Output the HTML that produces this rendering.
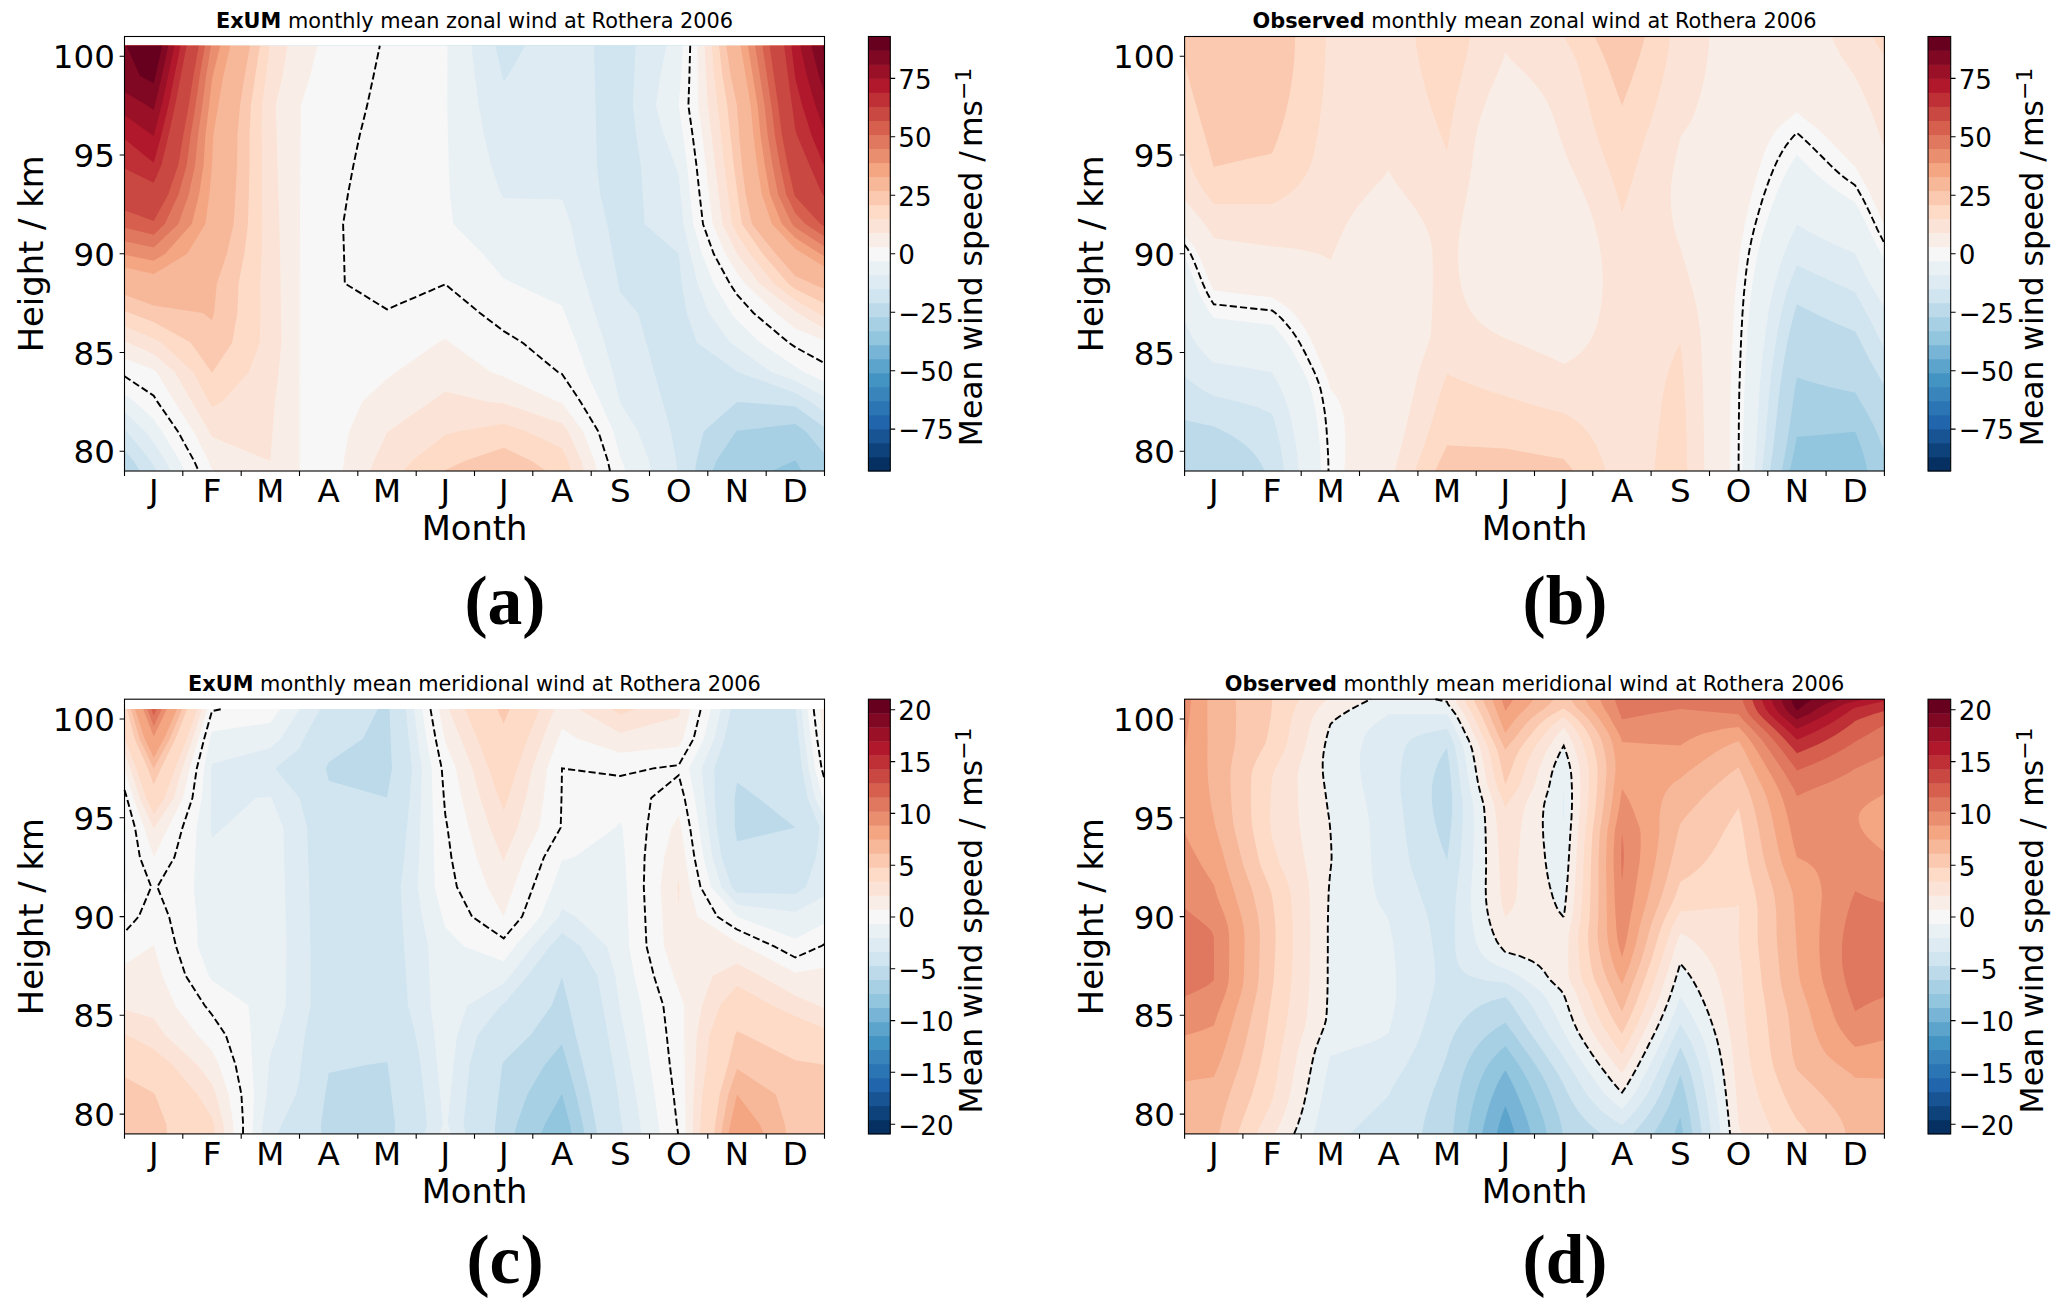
<!DOCTYPE html>
<html lang="en"><head><meta charset="utf-8"><title>Monthly mean winds at Rothera 2006</title>
<style>html,body{margin:0;padding:0;background:#fff}svg{display:block}text{font-family:"DejaVu Sans","Liberation Sans",sans-serif;fill:#000}text.lab{font-family:"Liberation Serif","DejaVu Serif",serif;font-weight:bold}</style></head>
<body><svg width="2067" height="1315" viewBox="0 0 2067 1315">
<rect width="2067" height="1315" fill="#fff"/>
<g id="pa">
<rect x="124.5" y="45.8" width="700" height="425.2" fill="#92c5de"/>
<path d="M124.5,471 153.7,471 212,471 270.3,471 299.5,471 328.7,471 387,471 445.3,471 503.7,471 562,471 620.3,471 678.7,471 737,471 772,471 793.6,461.1 795.3,460.6 795.8,461.1 801.8,471 824.5,471 824.5,461.1 824.5,431.5 824.5,401.9 824.5,372.2 824.5,342.6 824.5,313 824.5,283.4 824.5,253.8 824.5,224.1 824.5,194.5 824.5,164.9 824.5,135.2 824.5,105.6 824.5,76 824.5,45.8 795.3,45.8 737,45.8 678.7,45.8 620.3,45.8 562,45.8 503.7,45.8 445.3,45.8 387,45.8 328.7,45.8 299.5,45.8 270.3,45.8 212,45.8 153.7,45.8 124.5,45.8 124.5,76 124.5,105.6 124.5,135.2 124.5,164.9 124.5,194.5 124.5,224.1 124.5,253.8 124.5,283.4 124.5,313 124.5,342.6 124.5,372.2 124.5,401.9 124.5,431.5 124.5,461.1 124.5,471Z" fill="#a7d0e4"/>
<path d="M124.5,471 153.7,471 212,471 270.3,471 299.5,471 328.7,471 387,471 445.3,471 503.7,471 562,471 620.3,471 678.7,471 712.6,471 716.2,461.1 736.1,431.5 737,430.7 795.3,424.1 805.8,431.5 824.5,453.9 824.5,431.5 824.5,401.9 824.5,372.2 824.5,342.6 824.5,313 824.5,283.4 824.5,253.8 824.5,224.1 824.5,194.5 824.5,164.9 824.5,135.2 824.5,105.6 824.5,76 824.5,45.8 795.3,45.8 737,45.8 678.7,45.8 620.3,45.8 562,45.8 503.7,45.8 445.3,45.8 387,45.8 328.7,45.8 299.5,45.8 270.3,45.8 212,45.8 153.7,45.8 124.5,45.8 124.5,76 124.5,105.6 124.5,135.2 124.5,164.9 124.5,194.5 124.5,224.1 124.5,253.8 124.5,283.4 124.5,313 124.5,342.6 124.5,372.2 124.5,401.9 124.5,431.5 124.5,461.1 124.5,471Z" fill="#bcdaea"/>
<path d="M139.9,471 153.7,471 212,471 270.3,471 299.5,471 328.7,471 387,471 445.3,471 503.7,471 562,471 620.3,471 678.7,471 695.2,471 696.5,461.1 703.6,431.5 737,401.9 795.3,406.4 824.5,427.6 824.5,401.9 824.5,372.2 824.5,342.6 824.5,313 824.5,283.4 824.5,253.8 824.5,224.1 824.5,194.5 824.5,164.9 824.5,135.2 824.5,105.6 824.5,76 824.5,45.8 795.3,45.8 737,45.8 678.7,45.8 620.3,45.8 562,45.8 503.7,45.8 445.3,45.8 387,45.8 328.7,45.8 299.5,45.8 270.3,45.8 212,45.8 153.7,45.8 124.5,45.8 124.5,76 124.5,105.6 124.5,135.2 124.5,164.9 124.5,194.5 124.5,224.1 124.5,253.8 124.5,283.4 124.5,313 124.5,342.6 124.5,372.2 124.5,401.9 124.5,431.5 124.5,450.1 133.6,461.1 139.9,471Z" fill="#d1e5f0"/>
<path d="M150.8,461.1 153.7,465.6 156.5,471 212,471 270.3,471 299.5,471 328.7,471 387,471 445.3,471 503.7,471 562,471 620.3,471 677.4,471 676.1,461.1 671,431.5 662.7,401.9 654.3,372.2 646.3,342.6 637.9,313 620.3,292.1 618.2,283.4 612.7,253.8 607.3,224.1 600.2,194.5 596.9,164.9 596.3,135.2 595.6,105.6 594.8,76 593.8,45.8 562,45.8 525.2,45.8 507.7,76 503.7,81.8 502.3,76 495.3,45.8 445.3,45.8 387,45.8 328.7,45.8 299.5,45.8 270.3,45.8 212,45.8 153.7,45.8 124.5,45.8 124.5,76 124.5,105.6 124.5,135.2 124.5,164.9 124.5,194.5 124.5,224.1 124.5,253.8 124.5,283.4 124.5,313 124.5,342.6 124.5,372.2 124.5,401.9 124.5,429.5 126.6,431.5 150.8,461.1ZM810.8,401.9 824.5,412.1 824.5,401.9 824.5,372.2 824.5,342.6 824.5,313 824.5,283.4 824.5,253.8 824.5,224.1 824.5,194.5 824.5,164.9 824.5,135.2 824.5,105.6 824.5,76 824.5,45.8 795.3,45.8 737,45.8 678.7,45.8 635.7,45.8 634.1,76 632.8,105.6 636.2,135.2 640.8,164.9 642.8,194.5 644.6,224.1 678.7,253.8 681.6,283.4 686.7,313 696.8,342.6 737,371.5 738.1,372.2 795.3,392.9 810.8,401.9Z" fill="#deebf2"/>
<path d="M170.5,471 212,471 270.3,471 299.5,471 328.7,471 387,471 445.3,471 503.7,471 562,471 620.3,471 651.4,471 649.1,461.1 637.9,431.5 620.3,402.7 620,401.9 612.7,372.2 604.4,342.6 594.8,313 585.8,283.4 576.5,253.8 570.9,224.1 562,199.5 503.7,198.1 501.1,194.5 491.1,164.9 484,135.2 478.7,105.6 474.8,76 471.4,45.8 445.3,45.8 387,45.8 328.7,45.8 299.5,45.8 270.3,45.8 212,45.8 153.7,45.8 124.5,45.8 124.5,76 124.5,105.6 124.5,135.2 124.5,164.9 124.5,194.5 124.5,224.1 124.5,253.8 124.5,283.4 124.5,313 124.5,342.6 124.5,372.2 124.5,401.9 124.5,411.8 145.2,431.5 153.7,442 165.6,461.1 170.5,471ZM771.7,372.2 795.3,380.8 824.5,396.8 824.5,372.2 824.5,342.6 824.5,313 824.5,283.4 824.5,253.8 824.5,224.1 824.5,194.5 824.5,164.9 824.5,135.2 824.5,105.6 824.5,76 824.5,45.8 795.3,45.8 737,45.8 678.7,45.8 666.4,45.8 660.3,76 655.8,105.6 664.1,135.2 675.2,164.9 678.7,174.8 680.6,194.5 683.5,224.1 690.3,253.8 697.6,283.4 708.9,313 730.3,342.6 737,347.4 771.7,372.2Z" fill="#eaf1f5"/>
<path d="M184.6,471 212,471 270.3,471 299.5,471 328.7,471 387,471 445.3,471 503.7,471 562,471 620.3,471 625.5,471 622.1,461.1 620.3,457.4 613.3,431.5 600.3,401.9 586.6,372.2 576.4,342.6 564.6,313 562,305.8 514.1,283.4 503.7,278.6 482.8,253.8 453.2,224.1 449.9,194.5 448.7,164.9 447.9,135.2 447.2,105.6 447.4,76 447.5,45.8 445.3,45.8 387,45.8 328.7,45.8 299.5,45.8 270.3,45.8 212,45.8 153.7,45.8 124.5,45.8 124.5,76 124.5,105.6 124.5,135.2 124.5,164.9 124.5,194.5 124.5,224.1 124.5,253.8 124.5,283.4 124.5,313 124.5,342.6 124.5,372.2 124.5,394 135.1,401.9 153.7,419.3 162.2,431.5 179.9,461.1 184.6,471ZM804.5,372.2 824.5,381.8 824.5,372.2 824.5,342.6 824.5,313 824.5,283.4 824.5,253.8 824.5,224.1 824.5,194.5 824.5,164.9 824.5,135.2 824.5,105.6 824.5,76 824.5,45.8 795.3,45.8 737,45.8 683,45.8 681.1,76 678.7,105.6 683.2,135.2 687.1,164.9 690.1,194.5 693.2,224.1 702,253.8 713.7,283.4 731.1,313 737,320.3 760,342.6 795.3,366.5 804.5,372.2Z" fill="#f7f7f7"/>
<path d="M208.5,461.1 212,469.3 214.9,471 270.3,471 299.5,471 299.5,461.1 299.5,431.5 299.5,401.9 299.6,372.2 299.7,342.6 299.8,313 299.8,283.4 299.9,253.8 300,224.1 300.1,194.5 300.3,164.9 300.5,135.2 300.8,105.6 310.2,76 317.4,45.8 299.5,45.8 270.3,45.8 212,45.8 153.7,45.8 124.5,45.8 124.5,76 124.5,105.6 124.5,135.2 124.5,164.9 124.5,194.5 124.5,224.1 124.5,253.8 124.5,283.4 124.5,313 124.5,342.6 124.5,358.6 153.7,369.8 156.5,372.2 174.7,401.9 193.5,431.5 208.5,461.1ZM342.6,471 387,471 445.3,471 503.7,471 562,471 597,471 594.6,461.1 583.2,431.5 562,403 558.6,401.9 503.7,376.8 491.1,372.2 450.1,342.6 445.3,338.9 438.3,342.6 395.8,372.2 387,378.5 362.1,401.9 349.1,431.5 343.8,461.1 342.6,471ZM775.8,313 795.3,328.8 824.5,340.4 824.5,313 824.5,283.4 824.5,253.8 824.5,224.1 824.5,194.5 824.5,164.9 824.5,135.2 824.5,105.6 824.5,76 824.5,45.8 795.3,45.8 737,45.8 697.4,45.8 697.7,76 698.1,105.6 702.1,135.2 705.7,164.9 709.1,194.5 712.7,224.1 725.3,253.8 737,272.9 744.9,283.4 775.8,313Z" fill="#f9eee7"/>
<path d="M370.3,471 387,471 445.3,471 503.7,471 562,471 584,471 581.4,461.1 568.2,431.5 562,423.2 503.7,403.3 489,401.9 445.3,391.6 430.3,401.9 388,431.5 387,432.5 373.7,461.1 370.3,471ZM209.2,431.5 212,437.1 270.3,461.1 272.7,431.5 274.8,401.9 278.7,372.2 281.5,342.6 281.1,313 280.6,283.4 280.1,253.8 279.4,224.1 278.5,194.5 277.6,164.9 276.7,135.2 275.7,105.6 282.5,76 287.6,45.8 270.3,45.8 212,45.8 153.7,45.8 124.5,45.8 124.5,76 124.5,105.6 124.5,135.2 124.5,164.9 124.5,194.5 124.5,224.1 124.5,253.8 124.5,283.4 124.5,313 124.5,341.3 127.6,342.6 153.7,354.2 174.9,372.2 191.9,401.9 209.2,431.5ZM797.9,313 824.5,328.7 824.5,313 824.5,283.4 824.5,253.8 824.5,224.1 824.5,194.5 824.5,164.9 824.5,135.2 824.5,105.6 824.5,76 824.5,45.8 795.3,45.8 737,45.8 704.6,45.8 706,76 707.8,105.6 711.5,135.2 715,164.9 718.6,194.5 722.4,224.1 737,253.8 759.3,283.4 795.3,311.6 797.9,313Z" fill="#fbe4d7"/>
<path d="M403.3,471 445.3,471 503.7,471 562,471 571.1,471 568.1,461.1 562,448.2 526.5,431.5 503.7,423.8 457.3,431.5 445.3,434.9 411.8,461.1 403.3,471ZM209.1,401.9 212,406.9 222,401.9 248.7,372.2 259.8,342.6 260.5,313 260.3,283.4 261.7,253.8 262.3,224.1 262.1,194.5 262,164.9 261.6,135.2 261.8,105.6 265.9,76 269.7,45.8 212,45.8 153.7,45.8 124.5,45.8 124.5,76 124.5,105.6 124.5,135.2 124.5,164.9 124.5,194.5 124.5,224.1 124.5,253.8 124.5,283.4 124.5,313 124.5,326.2 153.7,338.4 161.3,342.6 193.3,372.2 209.1,401.9ZM817.8,313 824.5,316.9 824.5,313 824.5,283.4 824.5,253.8 824.5,224.1 824.5,194.5 824.5,164.9 824.5,135.2 824.5,105.6 824.5,76 824.5,45.8 795.3,45.8 737,45.8 711.8,45.8 714.2,76 717.6,105.6 721,135.2 724.3,164.9 728.2,194.5 732.1,224.1 737,234 749.9,253.8 773.8,283.4 795.3,300.3 817.8,313Z" fill="#fddbc7"/>
<path d="M444.1,471 445.3,471 503.7,471 546.1,471 531.8,461.1 503.7,447.8 464.6,461.1 445.3,469.9 444.1,471ZM211.7,372.2 212,372.8 212.5,372.2 232.2,342.6 237.3,313 238.6,283.4 244.3,253.8 247.9,224.1 248.8,194.5 249.5,164.9 249.5,135.2 250.9,105.6 255.2,76 259.9,45.8 212,45.8 153.7,45.8 124.5,45.8 124.5,76 124.5,105.6 124.5,135.2 124.5,164.9 124.5,194.5 124.5,224.1 124.5,253.8 124.5,283.4 124.5,311 129.9,313 153.7,322 190.6,342.6 211.7,372.2ZM788.2,283.4 795.3,288.9 824.5,303.4 824.5,283.4 824.5,253.8 824.5,224.1 824.5,194.5 824.5,164.9 824.5,135.2 824.5,105.6 824.5,76 824.5,45.8 795.3,45.8 737,45.8 719,45.8 722.5,76 727.3,105.6 730.4,135.2 733.7,164.9 737,189.6 737.6,194.5 742,224.1 762.8,253.8 788.2,283.4Z" fill="#fac9b0"/>
<path d="M202.8,313 212,320 214,313 216.8,283.4 226.9,253.8 233.6,224.1 235.4,194.5 237,164.9 237.4,135.2 240,105.6 244.6,76 250,45.8 212,45.8 153.7,45.8 124.5,45.8 124.5,76 124.5,105.6 124.5,135.2 124.5,164.9 124.5,194.5 124.5,224.1 124.5,253.8 124.5,283.4 124.5,294.7 153.7,305.4 202.8,313ZM811.9,283.4 824.5,288.9 824.5,283.4 824.5,253.8 824.5,224.1 824.5,194.5 824.5,164.9 824.5,135.2 824.5,105.6 824.5,76 824.5,45.8 795.3,45.8 737,45.8 726.2,45.8 730.8,76 737,105.6 739.1,135.2 741.9,164.9 745.7,194.5 752,224.1 775.7,253.8 795.3,276 811.9,283.4Z" fill="#f7b799"/>
<path d="M124.5,253.8 124.5,267.2 153.7,274.1 187.1,253.8 205.3,224.1 209.4,194.5 212,164.9 213.2,135.2 218.2,105.6 223.3,76 230.2,45.8 212,45.8 153.7,45.8 124.5,45.8 124.5,76 124.5,105.6 124.5,135.2 124.5,164.9 124.5,194.5 124.5,224.1 124.5,253.8ZM803.4,253.8 824.5,266.7 824.5,253.8 824.5,224.1 824.5,194.5 824.5,164.9 824.5,135.2 824.5,105.6 824.5,76 824.5,45.8 795.3,45.8 740.6,45.8 745.8,76 750.7,105.6 753.4,135.2 757.1,164.9 761.9,194.5 772,224.1 795.3,248.7 803.4,253.8Z" fill="#f4a582"/>
<path d="M124.5,253.8 124.5,254.7 153.7,260.8 165.2,253.8 191.8,224.1 199.1,194.5 203.6,164.9 205.4,135.2 209.1,105.6 212,79.7 212.7,76 220.3,45.8 212,45.8 153.7,45.8 124.5,45.8 124.5,76 124.5,105.6 124.5,135.2 124.5,164.9 124.5,194.5 124.5,224.1 124.5,253.8ZM820.1,253.8 824.5,256.5 824.5,253.8 824.5,224.1 824.5,194.5 824.5,164.9 824.5,135.2 824.5,105.6 824.5,76 824.5,45.8 795.3,45.8 747.9,45.8 752.8,76 757.6,105.6 760.5,135.2 764.8,164.9 770,194.5 782,224.1 795.3,238.1 820.1,253.8Z" fill="#ea8e70"/>
<path d="M124.5,224.1 124.5,241.3 153.7,247.6 178.3,224.1 188.8,194.5 195.1,164.9 198,135.2 202.3,105.6 206.1,76 211,45.8 153.7,45.8 124.5,45.8 124.5,76 124.5,105.6 124.5,135.2 124.5,164.9 124.5,194.5 124.5,224.1ZM792,224.1 795.3,227.6 824.5,246.5 824.5,224.1 824.5,194.5 824.5,164.9 824.5,135.2 824.5,105.6 824.5,76 824.5,45.8 795.3,45.8 755.1,45.8 759.9,76 764.5,105.6 767.7,135.2 772.4,164.9 778.1,194.5 792,224.1Z" fill="#e0775f"/>
<path d="M124.5,224.1 124.5,227.7 153.7,234.8 164.8,224.1 178.5,194.5 186.7,164.9 190.7,135.2 195.5,105.6 199.7,76 204.9,45.8 153.7,45.8 124.5,45.8 124.5,76 124.5,105.6 124.5,135.2 124.5,164.9 124.5,194.5 124.5,224.1ZM805.4,224.1 824.5,236.6 824.5,224.1 824.5,194.5 824.5,164.9 824.5,135.2 824.5,105.6 824.5,76 824.5,45.8 795.3,45.8 762.4,45.8 766.9,76 771.4,105.6 774.8,135.2 780,164.9 786.2,194.5 795.3,213.2 805.4,224.1Z" fill="#d6604d"/>
<path d="M820.4,224.1 824.5,226.8 824.5,224.1 824.5,194.5 824.5,164.9 824.5,135.2 824.5,105.6 824.5,76 824.5,45.8 795.3,45.8 769.6,45.8 773.9,76 778.2,105.6 781.9,135.2 787.6,164.9 794.2,194.5 795.3,196.7 820.4,224.1ZM124.5,194.5 124.5,210.2 153.7,220.9 168.2,194.5 178.3,164.9 183.3,135.2 188.7,105.6 193.4,76 198.8,45.8 153.7,45.8 124.5,45.8 124.5,76 124.5,105.6 124.5,135.2 124.5,164.9 124.5,194.5Z" fill="#ca4842"/>
<path d="M822.4,194.5 824.5,196.7 824.5,194.5 824.5,164.9 824.5,135.2 824.5,105.6 824.5,76 824.5,45.8 795.3,45.8 784.1,45.8 788,76 792,105.6 795.3,129.5 797,135.2 809.5,164.9 822.4,194.5ZM124.5,164.9 124.5,168.5 153.7,182.8 161.4,164.9 168.6,135.2 175.1,105.6 180.8,76 186.6,45.8 153.7,45.8 124.5,45.8 124.5,76 124.5,105.6 124.5,135.2 124.5,164.9Z" fill="#be3036"/>
<path d="M823.7,164.9 824.5,166.7 824.5,164.9 824.5,135.2 824.5,105.6 824.5,76 824.5,45.8 795.3,45.8 791.3,45.8 795,76 795.3,78.2 802.2,105.6 811.6,135.2 823.7,164.9ZM124.5,135.2 124.5,138.9 153.7,162.7 161.3,135.2 168.4,105.6 174.4,76 180.5,45.8 153.7,45.8 124.5,45.8 124.5,76 124.5,105.6 124.5,135.2Z" fill="#b2182b"/>
<path d="M152.5,135.2 153.7,136.2 153.9,135.2 161.6,105.6 168.1,76 174.4,45.8 153.7,45.8 124.5,45.8 124.5,76 124.5,105.6 124.5,115.3 152.5,135.2ZM815.4,105.6 824.5,131.1 824.5,105.6 824.5,76 824.5,45.8 800.3,45.8 806.9,76 815.4,105.6Z" fill="#991027"/>
<path d="M147.1,105.6 153.7,109.9 154.8,105.6 161.8,76 168.3,45.8 153.7,45.8 124.5,45.8 124.5,76 124.5,92.1 147.1,105.6ZM819,76 824.5,93.5 824.5,76 824.5,45.8 811.3,45.8 819,76Z" fill="#800823"/>
<path d="M140.1,76 153.7,83.5 155.5,76 162.2,45.8 153.7,45.8 126.4,45.8 140.1,76ZM822.3,45.8 824.5,53.9 824.5,45.8 822.3,45.8Z" fill="#67001f"/>
<path d="M610,471 607.9,461.1 598.3,431.5 580.6,401.9 562,373.9 558.2,372.2 522.4,342.6 503.7,331.1 479.9,313 445.3,284.3 387,309.4 344.8,283.4 344,253.8 343.1,224.1 347.9,194.5 353.5,164.9 359.7,135.2 367.1,105.6 373.5,76 379.8,45.8M124.5,376.2 153.7,395.7 157.5,401.9 177.9,431.5 194.2,461.1 198.6,471M690.2,45.8 689.4,76 688.4,105.6 692.6,135.2 696.4,164.9 699.6,194.5 703,224.1 713.7,253.8 729.7,283.4 737,294.6 753.5,313 788.7,342.6 795.3,347.1 824.5,363.2" fill="none" stroke="#000" stroke-width="1.9" stroke-dasharray="7.2 3.1"/>
</g>
<path d="M124.5,471v4.9M182.8,471v4.9M241.2,471v4.9M299.5,471v4.9M357.8,471v4.9M416.2,471v4.9M474.5,471v4.9M532.8,471v4.9M591.2,471v4.9M649.5,471v4.9M707.8,471v4.9M766.2,471v4.9M824.5,471v4.9M124.5,451.2h-4.9M124.5,352.5h-4.9M124.5,253.8h-4.9M124.5,155h-4.9M124.5,56.2h-4.9M890.3,78.4h4.9M890.3,136.8h4.9M890.3,195.3h4.9M890.3,253.8h4.9M890.3,312.2h4.9M890.3,370.7h4.9M890.3,429.1h4.9" stroke="#000" stroke-width="1.1" fill="none"/>
<rect x="124.5" y="36.5" width="700" height="434.5" fill="none" stroke="#000" stroke-width="1.1"/>
<rect x="868.4" y="456.98" width="21.9" height="14.42" fill="#053061"/>
<rect x="868.4" y="442.97" width="21.9" height="14.42" fill="#0e427a"/>
<rect x="868.4" y="428.95" width="21.9" height="14.42" fill="#185493"/>
<rect x="868.4" y="414.94" width="21.9" height="14.42" fill="#2166ac"/>
<rect x="868.4" y="400.92" width="21.9" height="14.42" fill="#2c75b4"/>
<rect x="868.4" y="386.90" width="21.9" height="14.42" fill="#3884bb"/>
<rect x="868.4" y="372.89" width="21.9" height="14.42" fill="#4393c3"/>
<rect x="868.4" y="358.87" width="21.9" height="14.42" fill="#5da4cc"/>
<rect x="868.4" y="344.85" width="21.9" height="14.42" fill="#78b4d5"/>
<rect x="868.4" y="330.84" width="21.9" height="14.42" fill="#92c5de"/>
<rect x="868.4" y="316.82" width="21.9" height="14.42" fill="#a7d0e4"/>
<rect x="868.4" y="302.81" width="21.9" height="14.42" fill="#bcdaea"/>
<rect x="868.4" y="288.79" width="21.9" height="14.42" fill="#d1e5f0"/>
<rect x="868.4" y="274.77" width="21.9" height="14.42" fill="#deebf2"/>
<rect x="868.4" y="260.76" width="21.9" height="14.42" fill="#eaf1f5"/>
<rect x="868.4" y="246.74" width="21.9" height="14.42" fill="#f7f7f7"/>
<rect x="868.4" y="232.73" width="21.9" height="14.42" fill="#f9eee7"/>
<rect x="868.4" y="218.71" width="21.9" height="14.42" fill="#fbe4d7"/>
<rect x="868.4" y="204.69" width="21.9" height="14.42" fill="#fddbc7"/>
<rect x="868.4" y="190.68" width="21.9" height="14.42" fill="#fac9b0"/>
<rect x="868.4" y="176.66" width="21.9" height="14.42" fill="#f7b799"/>
<rect x="868.4" y="162.65" width="21.9" height="14.42" fill="#f4a582"/>
<rect x="868.4" y="148.63" width="21.9" height="14.42" fill="#ea8e70"/>
<rect x="868.4" y="134.61" width="21.9" height="14.42" fill="#e0775f"/>
<rect x="868.4" y="120.60" width="21.9" height="14.42" fill="#d6604d"/>
<rect x="868.4" y="106.58" width="21.9" height="14.42" fill="#ca4842"/>
<rect x="868.4" y="92.56" width="21.9" height="14.42" fill="#be3036"/>
<rect x="868.4" y="78.55" width="21.9" height="14.42" fill="#b2182b"/>
<rect x="868.4" y="64.53" width="21.9" height="14.42" fill="#991027"/>
<rect x="868.4" y="50.52" width="21.9" height="14.42" fill="#800823"/>
<rect x="868.4" y="36.50" width="21.9" height="14.42" fill="#67001f"/>
<rect x="868.4" y="36.5" width="21.9" height="434.5" fill="none" stroke="#000" stroke-width="1.1"/>
<text x="474.5" y="28.4" font-size="20.85" text-anchor="middle"><tspan font-weight="bold">ExUM</tspan> monthly mean zonal wind at Rothera 2006</text>
<text x="114.9" y="463.2" font-size="32.5" text-anchor="end">80</text>
<text x="114.9" y="364.5" font-size="32.5" text-anchor="end">85</text>
<text x="114.9" y="265.8" font-size="32.5" text-anchor="end">90</text>
<text x="114.9" y="167" font-size="32.5" text-anchor="end">95</text>
<text x="114.9" y="68.2" font-size="32.5" text-anchor="end">100</text>
<text x="153.7" y="502.4" font-size="32.5" text-anchor="middle">J</text>
<text x="212" y="502.4" font-size="32.5" text-anchor="middle">F</text>
<text x="270.3" y="502.4" font-size="32.5" text-anchor="middle">M</text>
<text x="328.7" y="502.4" font-size="32.5" text-anchor="middle">A</text>
<text x="387" y="502.4" font-size="32.5" text-anchor="middle">M</text>
<text x="445.3" y="502.4" font-size="32.5" text-anchor="middle">J</text>
<text x="503.7" y="502.4" font-size="32.5" text-anchor="middle">J</text>
<text x="562" y="502.4" font-size="32.5" text-anchor="middle">A</text>
<text x="620.3" y="502.4" font-size="32.5" text-anchor="middle">S</text>
<text x="678.7" y="502.4" font-size="32.5" text-anchor="middle">O</text>
<text x="737" y="502.4" font-size="32.5" text-anchor="middle">N</text>
<text x="795.3" y="502.4" font-size="32.5" text-anchor="middle">D</text>
<text x="474.5" y="540.3" font-size="33.7" text-anchor="middle">Month</text>
<text transform="translate(43,253.8) rotate(-90)" font-size="33.8" text-anchor="middle">Height / km</text>
<text x="898.3" y="88.7" font-size="26.2">75</text>
<text x="898.3" y="147.1" font-size="26.2">50</text>
<text x="898.3" y="205.6" font-size="26.2">25</text>
<text x="898.3" y="264.1" font-size="26.2">0</text>
<text x="898.3" y="322.5" font-size="26.2">−25</text>
<text x="898.3" y="381" font-size="26.2">−50</text>
<text x="898.3" y="439.4" font-size="26.2">−75</text>
<text transform="translate(982.3,256.9) rotate(-90)" font-size="31.4" text-anchor="middle">Mean wind speed /<tspan dx="4">ms</tspan><tspan font-size="22.0" dy="-11.1">−1</tspan></text>
<text x="505" y="624.2" font-size="69.5" class="lab" text-anchor="middle">(a)</text>
<g id="pb">
<rect x="1184.6" y="36.5" width="699.8" height="434.5" fill="#92c5de"/>
<path d="M1184.6,471 1213.8,471 1272.1,471 1330.4,471 1388.7,471 1447,471 1505.3,471 1563.7,471 1622,471 1680.3,471 1738.6,471 1789.8,471 1790.9,466.1 1791.9,461.1 1793,456.2 1794,451.2 1795,446.3 1796,441.4 1796.9,436.8 1801.9,436.4 1855.2,431.7 1857.1,436.4 1859.1,441.4 1860.9,446.3 1862.5,451.2 1864,456.2 1865.3,461.1 1866.4,466.1 1867.3,471 1884.4,471 1884.4,466.1 1884.4,461.1 1884.4,456.2 1884.4,451.2 1884.4,446.3 1884.4,441.4 1884.4,436.4 1884.4,431.5 1884.4,426.6 1884.4,421.6 1884.4,416.7 1884.4,411.8 1884.4,406.8 1884.4,401.9 1884.4,396.9 1884.4,392 1884.4,387.1 1884.4,382.1 1884.4,377.2 1884.4,372.2 1884.4,367.3 1884.4,362.4 1884.4,357.4 1884.4,352.5 1884.4,347.6 1884.4,342.6 1884.4,337.7 1884.4,332.8 1884.4,327.8 1884.4,322.9 1884.4,317.9 1884.4,313 1884.4,308.1 1884.4,303.1 1884.4,298.2 1884.4,293.2 1884.4,288.3 1884.4,283.4 1884.4,278.4 1884.4,273.5 1884.4,268.6 1884.4,263.6 1884.4,258.7 1884.4,253.8 1884.4,248.8 1884.4,243.9 1884.4,238.9 1884.4,234 1884.4,229.1 1884.4,224.1 1884.4,219.2 1884.4,214.2 1884.4,209.3 1884.4,204.4 1884.4,199.4 1884.4,194.5 1884.4,189.6 1884.4,184.6 1884.4,179.7 1884.4,174.8 1884.4,169.8 1884.4,164.9 1884.4,159.9 1884.4,155 1884.4,150.1 1884.4,145.1 1884.4,140.2 1884.4,135.2 1884.4,130.3 1884.4,125.4 1884.4,120.4 1884.4,115.5 1884.4,110.6 1884.4,105.6 1884.4,100.7 1884.4,95.8 1884.4,90.8 1884.4,85.9 1884.4,80.9 1884.4,76 1884.4,71.1 1884.4,66.1 1884.4,61.2 1884.4,56.2 1884.4,51.3 1884.4,46.4 1884.4,41.4 1884.4,36.5 1855.2,36.5 1796.9,36.5 1738.6,36.5 1680.3,36.5 1622,36.5 1563.7,36.5 1505.3,36.5 1447,36.5 1388.7,36.5 1330.4,36.5 1272.1,36.5 1213.8,36.5 1184.6,36.5 1184.6,41.4 1184.6,46.4 1184.6,51.3 1184.6,56.2 1184.6,61.2 1184.6,66.1 1184.6,71.1 1184.6,76 1184.6,80.9 1184.6,85.9 1184.6,90.8 1184.6,95.8 1184.6,100.7 1184.6,105.6 1184.6,110.6 1184.6,115.5 1184.6,120.4 1184.6,125.4 1184.6,130.3 1184.6,135.2 1184.6,140.2 1184.6,145.1 1184.6,150.1 1184.6,155 1184.6,159.9 1184.6,164.9 1184.6,169.8 1184.6,174.8 1184.6,179.7 1184.6,184.6 1184.6,189.6 1184.6,194.5 1184.6,199.4 1184.6,204.4 1184.6,209.3 1184.6,214.2 1184.6,219.2 1184.6,224.1 1184.6,229.1 1184.6,234 1184.6,238.9 1184.6,243.9 1184.6,248.8 1184.6,253.8 1184.6,258.7 1184.6,263.6 1184.6,268.6 1184.6,273.5 1184.6,278.4 1184.6,283.4 1184.6,288.3 1184.6,293.2 1184.6,298.2 1184.6,303.1 1184.6,308.1 1184.6,313 1184.6,317.9 1184.6,322.9 1184.6,327.8 1184.6,332.8 1184.6,337.7 1184.6,342.6 1184.6,347.6 1184.6,352.5 1184.6,357.4 1184.6,362.4 1184.6,367.3 1184.6,372.2 1184.6,377.2 1184.6,382.1 1184.6,387.1 1184.6,392 1184.6,396.9 1184.6,401.9 1184.6,406.8 1184.6,411.8 1184.6,416.7 1184.6,421.6 1184.6,426.6 1184.6,431.5 1184.6,436.4 1184.6,441.4 1184.6,446.3 1184.6,451.2 1184.6,456.2 1184.6,461.1 1184.6,466.1 1184.6,471Z" fill="#a7d0e4"/>
<path d="M1184.6,471 1213.8,471 1272.1,471 1330.4,471 1388.7,471 1447,471 1505.3,471 1563.7,471 1622,471 1680.3,471 1738.6,471 1782,471 1782.8,466.1 1783.7,461.1 1784.6,456.2 1785.5,451.2 1786.4,446.3 1787.2,441.4 1788,436.4 1788.8,431.5 1789.5,426.6 1790.3,421.6 1790.9,416.7 1791.6,411.8 1792.3,406.8 1793,401.9 1793.7,396.9 1794.4,392 1795.2,387.1 1796.1,382.1 1796.9,377.4 1811.2,382.1 1829,387.1 1851.9,392 1855.2,392.6 1857.7,396.9 1860.6,401.9 1863.5,406.8 1866.4,411.8 1869.1,416.7 1871.7,421.6 1874.2,426.6 1876.4,431.5 1878.5,436.4 1880.5,441.4 1882.2,446.3 1883.7,451.2 1884.4,453.9 1884.4,451.2 1884.4,446.3 1884.4,441.4 1884.4,436.4 1884.4,431.5 1884.4,426.6 1884.4,421.6 1884.4,416.7 1884.4,411.8 1884.4,406.8 1884.4,401.9 1884.4,396.9 1884.4,392 1884.4,387.1 1884.4,382.1 1884.4,377.2 1884.4,372.2 1884.4,367.3 1884.4,362.4 1884.4,357.4 1884.4,352.5 1884.4,347.6 1884.4,342.6 1884.4,337.7 1884.4,332.8 1884.4,327.8 1884.4,322.9 1884.4,317.9 1884.4,313 1884.4,308.1 1884.4,303.1 1884.4,298.2 1884.4,293.2 1884.4,288.3 1884.4,283.4 1884.4,278.4 1884.4,273.5 1884.4,268.6 1884.4,263.6 1884.4,258.7 1884.4,253.8 1884.4,248.8 1884.4,243.9 1884.4,238.9 1884.4,234 1884.4,229.1 1884.4,224.1 1884.4,219.2 1884.4,214.2 1884.4,209.3 1884.4,204.4 1884.4,199.4 1884.4,194.5 1884.4,189.6 1884.4,184.6 1884.4,179.7 1884.4,174.8 1884.4,169.8 1884.4,164.9 1884.4,159.9 1884.4,155 1884.4,150.1 1884.4,145.1 1884.4,140.2 1884.4,135.2 1884.4,130.3 1884.4,125.4 1884.4,120.4 1884.4,115.5 1884.4,110.6 1884.4,105.6 1884.4,100.7 1884.4,95.8 1884.4,90.8 1884.4,85.9 1884.4,80.9 1884.4,76 1884.4,71.1 1884.4,66.1 1884.4,61.2 1884.4,56.2 1884.4,51.3 1884.4,46.4 1884.4,41.4 1884.4,36.5 1855.2,36.5 1796.9,36.5 1738.6,36.5 1680.3,36.5 1622,36.5 1563.7,36.5 1505.3,36.5 1447,36.5 1388.7,36.5 1330.4,36.5 1272.1,36.5 1213.8,36.5 1184.6,36.5 1184.6,41.4 1184.6,46.4 1184.6,51.3 1184.6,56.2 1184.6,61.2 1184.6,66.1 1184.6,71.1 1184.6,76 1184.6,80.9 1184.6,85.9 1184.6,90.8 1184.6,95.8 1184.6,100.7 1184.6,105.6 1184.6,110.6 1184.6,115.5 1184.6,120.4 1184.6,125.4 1184.6,130.3 1184.6,135.2 1184.6,140.2 1184.6,145.1 1184.6,150.1 1184.6,155 1184.6,159.9 1184.6,164.9 1184.6,169.8 1184.6,174.8 1184.6,179.7 1184.6,184.6 1184.6,189.6 1184.6,194.5 1184.6,199.4 1184.6,204.4 1184.6,209.3 1184.6,214.2 1184.6,219.2 1184.6,224.1 1184.6,229.1 1184.6,234 1184.6,238.9 1184.6,243.9 1184.6,248.8 1184.6,253.8 1184.6,258.7 1184.6,263.6 1184.6,268.6 1184.6,273.5 1184.6,278.4 1184.6,283.4 1184.6,288.3 1184.6,293.2 1184.6,298.2 1184.6,303.1 1184.6,308.1 1184.6,313 1184.6,317.9 1184.6,322.9 1184.6,327.8 1184.6,332.8 1184.6,337.7 1184.6,342.6 1184.6,347.6 1184.6,352.5 1184.6,357.4 1184.6,362.4 1184.6,367.3 1184.6,372.2 1184.6,377.2 1184.6,382.1 1184.6,387.1 1184.6,392 1184.6,396.9 1184.6,401.9 1184.6,406.8 1184.6,411.8 1184.6,416.7 1184.6,421.6 1184.6,426.6 1184.6,431.5 1184.6,436.4 1184.6,441.4 1184.6,446.3 1184.6,451.2 1184.6,456.2 1184.6,461.1 1184.6,466.1 1184.6,471Z" fill="#bcdaea"/>
<path d="M1264.6,471 1272.1,471 1330.4,471 1388.7,471 1447,471 1505.3,471 1563.7,471 1622,471 1680.3,471 1738.6,471 1770.1,471 1770.8,466.1 1771.4,461.1 1772.1,456.2 1772.7,451.2 1773.4,446.3 1774,441.4 1774.6,436.4 1775.2,431.5 1775.7,426.6 1776.2,421.6 1776.8,416.7 1777.3,411.8 1777.8,406.8 1778.3,401.9 1778.8,396.9 1779.4,392 1780,387.1 1780.7,382.1 1781.4,377.2 1782.1,372.2 1782.9,367.3 1783.7,362.4 1784.5,357.4 1785.4,352.5 1786.4,347.6 1787.3,342.6 1788.4,337.7 1789.4,332.8 1790.6,327.8 1791.8,322.9 1793,317.9 1794.4,313 1795.8,308.1 1796.9,304.3 1804.2,308.1 1814.1,313 1824.4,317.9 1835,322.9 1846.3,327.8 1855.2,331.6 1855.9,332.8 1858.4,337.7 1860.9,342.6 1863.4,347.6 1865.9,352.5 1868.5,357.4 1871.2,362.4 1873.9,367.3 1876.7,372.2 1879.6,377.2 1882.3,382.1 1884.4,385.9 1884.4,382.1 1884.4,377.2 1884.4,372.2 1884.4,367.3 1884.4,362.4 1884.4,357.4 1884.4,352.5 1884.4,347.6 1884.4,342.6 1884.4,337.7 1884.4,332.8 1884.4,327.8 1884.4,322.9 1884.4,317.9 1884.4,313 1884.4,308.1 1884.4,303.1 1884.4,298.2 1884.4,293.2 1884.4,288.3 1884.4,283.4 1884.4,278.4 1884.4,273.5 1884.4,268.6 1884.4,263.6 1884.4,258.7 1884.4,253.8 1884.4,248.8 1884.4,243.9 1884.4,238.9 1884.4,234 1884.4,229.1 1884.4,224.1 1884.4,219.2 1884.4,214.2 1884.4,209.3 1884.4,204.4 1884.4,199.4 1884.4,194.5 1884.4,189.6 1884.4,184.6 1884.4,179.7 1884.4,174.8 1884.4,169.8 1884.4,164.9 1884.4,159.9 1884.4,155 1884.4,150.1 1884.4,145.1 1884.4,140.2 1884.4,135.2 1884.4,130.3 1884.4,125.4 1884.4,120.4 1884.4,115.5 1884.4,110.6 1884.4,105.6 1884.4,100.7 1884.4,95.8 1884.4,90.8 1884.4,85.9 1884.4,80.9 1884.4,76 1884.4,71.1 1884.4,66.1 1884.4,61.2 1884.4,56.2 1884.4,51.3 1884.4,46.4 1884.4,41.4 1884.4,36.5 1855.2,36.5 1796.9,36.5 1738.6,36.5 1680.3,36.5 1622,36.5 1563.7,36.5 1505.3,36.5 1447,36.5 1388.7,36.5 1330.4,36.5 1272.1,36.5 1213.8,36.5 1184.6,36.5 1184.6,41.4 1184.6,46.4 1184.6,51.3 1184.6,56.2 1184.6,61.2 1184.6,66.1 1184.6,71.1 1184.6,76 1184.6,80.9 1184.6,85.9 1184.6,90.8 1184.6,95.8 1184.6,100.7 1184.6,105.6 1184.6,110.6 1184.6,115.5 1184.6,120.4 1184.6,125.4 1184.6,130.3 1184.6,135.2 1184.6,140.2 1184.6,145.1 1184.6,150.1 1184.6,155 1184.6,159.9 1184.6,164.9 1184.6,169.8 1184.6,174.8 1184.6,179.7 1184.6,184.6 1184.6,189.6 1184.6,194.5 1184.6,199.4 1184.6,204.4 1184.6,209.3 1184.6,214.2 1184.6,219.2 1184.6,224.1 1184.6,229.1 1184.6,234 1184.6,238.9 1184.6,243.9 1184.6,248.8 1184.6,253.8 1184.6,258.7 1184.6,263.6 1184.6,268.6 1184.6,273.5 1184.6,278.4 1184.6,283.4 1184.6,288.3 1184.6,293.2 1184.6,298.2 1184.6,303.1 1184.6,308.1 1184.6,313 1184.6,317.9 1184.6,322.9 1184.6,327.8 1184.6,332.8 1184.6,337.7 1184.6,342.6 1184.6,347.6 1184.6,352.5 1184.6,357.4 1184.6,362.4 1184.6,367.3 1184.6,372.2 1184.6,377.2 1184.6,382.1 1184.6,387.1 1184.6,392 1184.6,396.9 1184.6,401.9 1184.6,406.8 1184.6,411.8 1184.6,416.7 1184.6,419.7 1191.1,421.6 1213.8,426.6 1224.4,431.5 1233.2,436.4 1240.6,441.4 1246.7,446.3 1251.8,451.2 1256,456.2 1259.5,461.1 1262.3,466.1 1264.6,471Z" fill="#d1e5f0"/>
<path d="M1284,471 1330.4,471 1388.7,471 1447,471 1505.3,471 1563.7,471 1622,471 1680.3,471 1738.6,471 1762.3,471 1762.7,466.1 1763.2,461.1 1763.7,456.2 1764.2,451.2 1764.7,446.3 1765.2,441.4 1765.6,436.4 1766.1,431.5 1766.5,426.6 1766.9,421.6 1767.3,416.7 1767.7,411.8 1768.1,406.8 1768.5,401.9 1768.9,396.9 1769.4,392 1769.9,387.1 1770.4,382.1 1770.9,377.2 1771.5,372.2 1772.2,367.3 1772.8,362.4 1773.5,357.4 1774.2,352.5 1775,347.6 1775.7,342.6 1776.6,337.7 1777.4,332.8 1778.3,327.8 1779.3,322.9 1780.3,317.9 1781.4,313 1782.6,308.1 1783.8,303.1 1785.1,298.2 1786.6,293.2 1788.1,288.3 1789.8,283.4 1791.6,278.4 1793.6,273.5 1795.5,268.6 1796.9,265.2 1804.1,268.6 1814.8,273.5 1825.5,278.4 1836.1,283.4 1846.5,288.3 1855.2,292.5 1855.6,293.2 1858.3,298.2 1860.9,303.1 1863.7,308.1 1866.4,313 1869,317.9 1871.6,322.9 1874.1,327.8 1876.5,332.8 1878.9,337.7 1881.4,342.6 1883.9,347.6 1884.4,348.5 1884.4,347.6 1884.4,342.6 1884.4,337.7 1884.4,332.8 1884.4,327.8 1884.4,322.9 1884.4,317.9 1884.4,313 1884.4,308.1 1884.4,303.1 1884.4,298.2 1884.4,293.2 1884.4,288.3 1884.4,283.4 1884.4,278.4 1884.4,273.5 1884.4,268.6 1884.4,263.6 1884.4,258.7 1884.4,253.8 1884.4,248.8 1884.4,243.9 1884.4,238.9 1884.4,234 1884.4,229.1 1884.4,224.1 1884.4,219.2 1884.4,214.2 1884.4,209.3 1884.4,204.4 1884.4,199.4 1884.4,194.5 1884.4,189.6 1884.4,184.6 1884.4,179.7 1884.4,174.8 1884.4,169.8 1884.4,164.9 1884.4,159.9 1884.4,155 1884.4,150.1 1884.4,145.1 1884.4,140.2 1884.4,135.2 1884.4,130.3 1884.4,125.4 1884.4,120.4 1884.4,115.5 1884.4,110.6 1884.4,105.6 1884.4,100.7 1884.4,95.8 1884.4,90.8 1884.4,85.9 1884.4,80.9 1884.4,76 1884.4,71.1 1884.4,66.1 1884.4,61.2 1884.4,56.2 1884.4,51.3 1884.4,46.4 1884.4,41.4 1884.4,36.5 1855.2,36.5 1796.9,36.5 1738.6,36.5 1680.3,36.5 1622,36.5 1563.7,36.5 1505.3,36.5 1447,36.5 1388.7,36.5 1330.4,36.5 1272.1,36.5 1213.8,36.5 1184.6,36.5 1184.6,41.4 1184.6,46.4 1184.6,51.3 1184.6,56.2 1184.6,61.2 1184.6,66.1 1184.6,71.1 1184.6,76 1184.6,80.9 1184.6,85.9 1184.6,90.8 1184.6,95.8 1184.6,100.7 1184.6,105.6 1184.6,110.6 1184.6,115.5 1184.6,120.4 1184.6,125.4 1184.6,130.3 1184.6,135.2 1184.6,140.2 1184.6,145.1 1184.6,150.1 1184.6,155 1184.6,159.9 1184.6,164.9 1184.6,169.8 1184.6,174.8 1184.6,179.7 1184.6,184.6 1184.6,189.6 1184.6,194.5 1184.6,199.4 1184.6,204.4 1184.6,209.3 1184.6,214.2 1184.6,219.2 1184.6,224.1 1184.6,229.1 1184.6,234 1184.6,238.9 1184.6,243.9 1184.6,248.8 1184.6,253.8 1184.6,258.7 1184.6,263.6 1184.6,268.6 1184.6,273.5 1184.6,278.4 1184.6,283.4 1184.6,288.3 1184.6,293.2 1184.6,298.2 1184.6,303.1 1184.6,308.1 1184.6,313 1184.6,317.9 1184.6,322.9 1184.6,327.8 1184.6,332.8 1184.6,337.7 1184.6,342.6 1184.6,347.6 1184.6,352.5 1184.6,357.4 1184.6,362.4 1184.6,367.3 1184.6,372.2 1184.6,376.2 1185.6,377.2 1191.4,382.1 1198.2,387.1 1206.2,392 1213.8,395.9 1218.4,396.9 1239.4,401.9 1256,406.8 1268.2,411.8 1272.1,413.8 1273,416.7 1274.5,421.6 1275.8,426.6 1277.1,431.5 1278.3,436.4 1279.4,441.4 1280.4,446.3 1281.3,451.2 1282.1,456.2 1282.8,461.1 1283.4,466.1 1284,471Z" fill="#deebf2"/>
<path d="M1298.8,471 1330.4,471 1388.7,471 1447,471 1505.3,471 1563.7,471 1622,471 1680.3,471 1738.6,471 1754.4,471 1754.7,466.1 1755,461.1 1755.4,456.2 1755.7,451.2 1756,446.3 1756.4,441.4 1756.7,436.4 1757,431.5 1757.3,426.6 1757.6,421.6 1757.9,416.7 1758.1,411.8 1758.4,406.8 1758.7,401.9 1759,396.9 1759.4,392 1759.7,387.1 1760.1,382.1 1760.5,377.2 1761,372.2 1761.5,367.3 1761.9,362.4 1762.5,357.4 1763,352.5 1763.6,347.6 1764.1,342.6 1764.8,337.7 1765.4,332.8 1766.1,327.8 1766.9,322.9 1767.6,317.9 1768.5,313 1769.3,308.1 1770.3,303.1 1771.3,298.2 1772.4,293.2 1773.6,288.3 1774.9,283.4 1776.3,278.4 1777.7,273.5 1779.2,268.6 1780.8,263.6 1782.5,258.7 1784.3,253.8 1786.2,248.8 1788.2,243.9 1790.3,238.9 1792.5,234 1794.8,229.1 1796.9,224.5 1804.5,229.1 1813.5,234 1823.2,238.9 1833.5,243.9 1844.3,248.8 1855.2,253.8 1857.6,258.7 1859.9,263.6 1862.2,268.6 1864.7,273.5 1867.3,278.4 1870,283.4 1872.8,288.3 1875.7,293.2 1878.7,298.2 1881.7,303.1 1884.4,307.7 1884.4,303.1 1884.4,298.2 1884.4,293.2 1884.4,288.3 1884.4,283.4 1884.4,278.4 1884.4,273.5 1884.4,268.6 1884.4,263.6 1884.4,258.7 1884.4,253.8 1884.4,248.8 1884.4,243.9 1884.4,238.9 1884.4,234 1884.4,229.1 1884.4,224.1 1884.4,219.2 1884.4,214.2 1884.4,209.3 1884.4,204.4 1884.4,199.4 1884.4,194.5 1884.4,189.6 1884.4,184.6 1884.4,179.7 1884.4,174.8 1884.4,169.8 1884.4,164.9 1884.4,159.9 1884.4,155 1884.4,150.1 1884.4,145.1 1884.4,140.2 1884.4,135.2 1884.4,130.3 1884.4,125.4 1884.4,120.4 1884.4,115.5 1884.4,110.6 1884.4,105.6 1884.4,100.7 1884.4,95.8 1884.4,90.8 1884.4,85.9 1884.4,80.9 1884.4,76 1884.4,71.1 1884.4,66.1 1884.4,61.2 1884.4,56.2 1884.4,51.3 1884.4,46.4 1884.4,41.4 1884.4,36.5 1855.2,36.5 1796.9,36.5 1738.6,36.5 1680.3,36.5 1622,36.5 1563.7,36.5 1505.3,36.5 1447,36.5 1388.7,36.5 1330.4,36.5 1272.1,36.5 1213.8,36.5 1184.6,36.5 1184.6,41.4 1184.6,46.4 1184.6,51.3 1184.6,56.2 1184.6,61.2 1184.6,66.1 1184.6,71.1 1184.6,76 1184.6,80.9 1184.6,85.9 1184.6,90.8 1184.6,95.8 1184.6,100.7 1184.6,105.6 1184.6,110.6 1184.6,115.5 1184.6,120.4 1184.6,125.4 1184.6,130.3 1184.6,135.2 1184.6,140.2 1184.6,145.1 1184.6,150.1 1184.6,155 1184.6,159.9 1184.6,164.9 1184.6,169.8 1184.6,174.8 1184.6,179.7 1184.6,184.6 1184.6,189.6 1184.6,194.5 1184.6,199.4 1184.6,204.4 1184.6,209.3 1184.6,214.2 1184.6,219.2 1184.6,224.1 1184.6,229.1 1184.6,234 1184.6,238.9 1184.6,243.9 1184.6,248.8 1184.6,253.8 1184.6,258.7 1184.6,263.6 1184.6,268.6 1184.6,273.5 1184.6,278.4 1184.6,283.4 1184.6,288.3 1184.6,293.2 1184.6,298.2 1184.6,303.1 1184.6,308.1 1184.6,313 1184.6,317.9 1184.6,320.9 1185.4,322.9 1187.7,327.8 1190.1,332.8 1192.7,337.7 1195.7,342.6 1199.2,347.6 1203.3,352.5 1208.1,357.4 1213.8,362.4 1244.4,367.3 1272.1,372.2 1274.9,377.2 1277.5,382.1 1280,387.1 1282.3,392 1284.3,396.9 1286.1,401.9 1287.7,406.8 1289.2,411.8 1290.4,416.7 1291.6,421.6 1292.6,426.6 1293.6,431.5 1294.5,436.4 1295.4,441.4 1296.1,446.3 1296.8,451.2 1297.4,456.2 1298,461.1 1298.4,466.1 1298.8,471Z" fill="#eaf1f5"/>
<path d="M1321.1,471 1330.4,471 1388.7,471 1447,471 1505.3,471 1563.7,471 1622,471 1680.3,471 1738.6,471 1742.5,471 1742.6,466.1 1742.7,461.1 1742.8,456.2 1742.9,451.2 1743,446.3 1743.1,441.4 1743.2,436.4 1743.3,431.5 1743.4,426.6 1743.6,421.6 1743.7,416.7 1743.8,411.8 1743.9,406.8 1744,401.9 1744.2,396.9 1744.3,392 1744.5,387.1 1744.7,382.1 1744.9,377.2 1745.2,372.2 1745.4,367.3 1745.6,362.4 1745.9,357.4 1746.2,352.5 1746.5,347.6 1746.8,342.6 1747.1,337.7 1747.4,332.8 1747.8,327.8 1748.2,322.9 1748.6,317.9 1749,313 1749.5,308.1 1750,303.1 1750.5,298.2 1751.1,293.2 1751.8,288.3 1752.4,283.4 1753.2,278.4 1754,273.5 1754.8,268.6 1755.7,263.6 1756.6,258.7 1757.7,253.8 1758.8,248.8 1760.1,243.9 1761.4,238.9 1762.8,234 1764.3,229.1 1765.8,224.1 1767.4,219.2 1769.1,214.2 1770.8,209.3 1772.6,204.4 1774.4,199.4 1776.3,194.5 1778.4,189.6 1780.5,184.6 1782.7,179.7 1785.1,174.7 1787.6,169.8 1790.4,164.9 1793.5,159.9 1796.9,155 1802,159.9 1806.9,164.9 1811.9,169.8 1817.1,174.8 1822.8,179.7 1828.9,184.6 1835.4,189.6 1842.5,194.5 1850.3,199.4 1855.2,202.4 1856.3,204.4 1859,209.3 1861.5,214.2 1864,219.2 1866.4,224.1 1868.7,229.1 1871.1,234 1873.7,238.9 1876.2,243.9 1878.6,248.8 1881.1,253.8 1883.6,258.7 1884.4,260.2 1884.4,258.7 1884.4,253.8 1884.4,248.8 1884.4,243.9 1884.4,238.9 1884.4,234 1884.4,229.1 1884.4,224.1 1884.4,219.2 1884.4,214.2 1884.4,209.3 1884.4,204.4 1884.4,199.4 1884.4,194.5 1884.4,189.6 1884.4,184.6 1884.4,179.7 1884.4,174.8 1884.4,169.8 1884.4,164.9 1884.4,159.9 1884.4,155 1884.4,150.1 1884.4,145.1 1884.4,140.2 1884.4,135.2 1884.4,130.3 1884.4,125.4 1884.4,120.4 1884.4,115.5 1884.4,110.6 1884.4,105.6 1884.4,100.7 1884.4,95.8 1884.4,90.8 1884.4,85.9 1884.4,80.9 1884.4,76 1884.4,71.1 1884.4,66.1 1884.4,61.2 1884.4,56.2 1884.4,51.3 1884.4,46.4 1884.4,41.4 1884.4,36.5 1855.2,36.5 1796.9,36.5 1738.6,36.5 1680.3,36.5 1622,36.5 1563.7,36.5 1505.3,36.5 1447,36.5 1388.7,36.5 1330.4,36.5 1272.1,36.5 1213.8,36.5 1184.6,36.5 1184.6,41.4 1184.6,46.4 1184.6,51.3 1184.6,56.2 1184.6,61.2 1184.6,66.1 1184.6,71.1 1184.6,76 1184.6,80.9 1184.6,85.9 1184.6,90.8 1184.6,95.8 1184.6,100.7 1184.6,105.6 1184.6,110.6 1184.6,115.5 1184.6,120.4 1184.6,125.4 1184.6,130.3 1184.6,135.2 1184.6,140.2 1184.6,145.1 1184.6,150.1 1184.6,155 1184.6,159.9 1184.6,164.9 1184.6,169.8 1184.6,174.8 1184.6,179.7 1184.6,184.6 1184.6,189.6 1184.6,194.5 1184.6,199.4 1184.6,204.4 1184.6,209.3 1184.6,214.2 1184.6,219.2 1184.6,224.1 1184.6,229.1 1184.6,234 1184.6,238.9 1184.6,243.9 1184.6,248.8 1184.6,253.8 1184.6,256.8 1185.5,258.7 1187.7,263.6 1189.7,268.6 1191.6,273.5 1193.5,278.4 1195.4,283.4 1197.3,288.3 1199.4,293.2 1201.8,298.2 1204.4,303.1 1207.2,308.1 1210.3,313 1213.8,317.9 1256,322.9 1272.1,324.9 1275,327.8 1279.4,332.8 1283.4,337.7 1287,342.6 1290.3,347.6 1293.3,352.5 1296,357.4 1298.7,362.4 1301.3,367.3 1303.8,372.2 1306.1,377.2 1308.2,382.1 1310,387.1 1311.4,392 1312.7,396.9 1313.9,401.9 1314.9,406.8 1315.8,411.8 1316.6,416.7 1317.3,421.6 1317.9,426.6 1318.4,431.5 1318.9,436.4 1319.4,441.4 1319.8,446.3 1320.1,451.2 1320.5,456.2 1320.7,461.1 1320.9,466.1 1321.1,471Z" fill="#f7f7f7"/>
<path d="M1344.3,471 1388.7,471 1447,471 1505.3,471 1563.7,471 1622,471 1680.3,471 1730,471 1730,466.1 1730,461.1 1730,456.2 1730.1,451.2 1730.1,446.3 1730.1,441.4 1730.2,436.4 1730.2,431.5 1730.2,426.6 1730.3,421.6 1730.3,416.7 1730.4,411.7 1730.4,406.8 1730.5,401.9 1730.6,396.9 1730.7,392 1730.9,387.1 1731,382.1 1731.1,377.2 1731.3,372.2 1731.5,367.3 1731.7,362.4 1731.8,357.4 1732,352.5 1732.2,347.6 1732.4,342.6 1732.6,337.7 1732.9,332.8 1733.1,327.8 1733.3,322.9 1733.6,317.9 1733.9,313 1734.2,308.1 1734.5,303.1 1734.9,298.2 1735.3,293.2 1735.8,288.3 1736.3,283.4 1736.9,278.4 1737.6,273.5 1738.3,268.6 1738.6,267 1738.9,263.6 1739.4,258.7 1739.9,253.8 1740.6,248.8 1741.3,243.9 1742.1,238.9 1743,234 1743.9,229.1 1744.9,224.1 1746,219.2 1747.1,214.2 1748.2,209.3 1749.4,204.4 1750.6,199.4 1751.9,194.5 1753.2,189.6 1754.5,184.6 1755.9,179.7 1757.3,174.8 1758.8,169.8 1760.3,164.9 1761.9,159.9 1763.6,155 1765.5,150.1 1767.6,145.1 1770,140.2 1772.9,135.2 1776.3,130.3 1780.9,125.4 1786.5,120.4 1792.9,115.5 1796.9,112.2 1800.4,115.5 1806.7,120.4 1813.1,125.4 1819.1,130.3 1824.3,135.2 1829.3,140.2 1834.1,145.1 1838.9,150.1 1843.6,155 1848.4,159.9 1853.3,164.9 1855.2,166.8 1856.9,169.8 1859.7,174.8 1862.6,179.7 1865.4,184.6 1867.9,189.6 1870.4,194.5 1872.8,199.4 1875.1,204.4 1877.3,209.3 1879.4,214.2 1881.5,219.2 1883.6,224.1 1884.4,226 1884.4,224.1 1884.4,219.2 1884.4,214.2 1884.4,209.3 1884.4,204.4 1884.4,199.4 1884.4,194.5 1884.4,189.6 1884.4,184.6 1884.4,179.7 1884.4,174.8 1884.4,169.8 1884.4,164.9 1884.4,159.9 1884.4,155 1884.4,150.1 1884.4,145.1 1884.4,140.2 1884.4,135.2 1884.4,130.3 1884.4,125.4 1884.4,120.4 1884.4,115.5 1884.4,110.6 1884.4,105.6 1884.4,100.7 1884.4,95.8 1884.4,90.8 1884.4,85.9 1884.4,80.9 1884.4,76 1884.4,71.1 1884.4,66.1 1884.4,61.2 1884.4,56.2 1884.4,51.3 1884.4,46.4 1884.4,41.4 1884.4,36.5 1855.2,36.5 1796.9,36.5 1738.6,36.5 1680.3,36.5 1622,36.5 1563.7,36.5 1505.3,36.5 1447,36.5 1388.7,36.5 1330.4,36.5 1272.1,36.5 1213.8,36.5 1184.6,36.5 1184.6,41.4 1184.6,46.4 1184.6,51.3 1184.6,56.2 1184.6,61.2 1184.6,66.1 1184.6,71.1 1184.6,76 1184.6,80.9 1184.6,85.9 1184.6,90.8 1184.6,95.8 1184.6,100.7 1184.6,105.6 1184.6,110.6 1184.6,115.5 1184.6,120.4 1184.6,125.4 1184.6,130.3 1184.6,135.2 1184.6,140.2 1184.6,145.1 1184.6,150.1 1184.6,155 1184.6,159.9 1184.6,164.9 1184.6,169.8 1184.6,174.8 1184.6,179.7 1184.6,184.6 1184.6,189.6 1184.6,194.5 1184.6,199.4 1184.6,204.4 1184.6,209.3 1184.6,214.2 1184.6,219.2 1184.6,224.1 1184.6,229.1 1184.6,234 1184.6,236.2 1187.2,238.9 1191.9,243.9 1195.2,248.8 1197.9,253.8 1200.1,258.7 1202.2,263.6 1204.2,268.6 1206.2,273.5 1208.2,278.4 1210.3,283.4 1212.6,288.3 1213.8,290.6 1235.5,293.2 1272.1,297.6 1273.1,298.2 1281.1,303.1 1287.9,308.1 1293.2,313 1297.4,317.9 1301.1,322.9 1304.3,327.8 1307.2,332.8 1309.8,337.7 1312.2,342.6 1314.4,347.6 1316.5,352.5 1318.5,357.4 1320.7,362.4 1322.8,367.3 1324.9,372.2 1326.9,377.2 1328.6,382.1 1329.9,387.1 1330.4,389.4 1333,392 1336.6,396.9 1339.2,401.9 1341.2,406.8 1342.6,411.8 1343.6,416.7 1344.3,421.6 1344.8,426.6 1345,431.5 1345.2,436.4 1345.2,441.4 1345.3,446.3 1345.2,451.2 1345.1,456.2 1344.9,461.1 1344.6,466.1 1344.3,471Z" fill="#f9eee7"/>
<path d="M1394.7,471 1447,471 1505.3,471 1563.7,471 1622,471 1680.3,471 1704.3,471 1704.3,466.1 1704.2,461.1 1704.2,456.2 1704.2,451.2 1704.1,446.3 1704,441.4 1704,436.4 1703.9,431.5 1703.8,426.6 1703.7,421.6 1703.6,416.7 1703.5,411.8 1703.5,406.8 1703.3,401.9 1703.2,396.9 1703.1,392 1703,387.1 1702.8,382.1 1702.7,377.2 1702.5,372.2 1702.3,367.3 1702.1,362.4 1701.9,357.4 1701.6,352.5 1701.4,347.6 1701.1,342.6 1700.7,337.7 1700.3,332.8 1699.8,327.8 1699.1,322.9 1698.4,317.9 1697.6,313 1696.7,308.1 1695.7,303.1 1694.6,298.2 1693.4,293.2 1692.2,288.3 1690.8,283.4 1689.4,278.4 1688,273.5 1686.5,268.6 1685,263.6 1683.5,258.7 1682.1,253.8 1680.8,248.8 1680.3,246.6 1679.2,243.9 1677.4,238.9 1675.8,234 1674.5,229.1 1673.5,224.1 1672.6,219.2 1671.9,214.2 1671.4,209.3 1671,204.4 1670.8,199.4 1670.8,194.5 1671,189.6 1671.3,184.6 1671.8,179.7 1672.5,174.8 1673.4,169.8 1674.3,164.9 1675.3,159.9 1676.4,155 1677.5,150.1 1678.7,145.1 1679.8,140.2 1680.3,138 1681.7,135.2 1685,130.3 1688.4,125.4 1691.4,120.4 1693.6,115.5 1695.4,110.6 1697.1,105.6 1698.7,100.7 1700.1,95.8 1701.4,90.8 1702.6,85.9 1703.7,80.9 1704.7,76 1705.6,71.1 1706.4,66.1 1707.2,61.2 1707.8,56.2 1708.3,51.3 1708.8,46.4 1709.2,41.4 1709.5,36.5 1680.3,36.5 1622,36.5 1563.7,36.5 1505.3,36.5 1447,36.5 1388.7,36.5 1330.4,36.5 1272.1,36.5 1213.8,36.5 1184.6,36.5 1184.6,41.4 1184.6,46.4 1184.6,51.3 1184.6,56.2 1184.6,61.2 1184.6,66.1 1184.6,71.1 1184.6,76 1184.6,80.9 1184.6,85.9 1184.6,90.8 1184.6,95.8 1184.6,100.7 1184.6,105.6 1184.6,110.6 1184.6,115.5 1184.6,120.4 1184.6,125.4 1184.6,130.3 1184.6,135.2 1184.6,140.2 1184.6,145.1 1184.6,150.1 1184.6,155 1184.6,159.9 1184.6,164.9 1184.6,169.8 1184.6,174.8 1184.6,179.7 1184.6,184.6 1184.6,189.6 1184.6,194.5 1184.6,199 1184.9,199.4 1188.5,204.4 1192.6,209.3 1196.7,214.2 1200.8,219.2 1204.7,224.1 1208.2,229.1 1211.4,234 1213.8,238.2 1219.8,238.9 1254.3,243.9 1272.1,246.6 1295.9,248.8 1318.7,253.8 1328.4,258.7 1330.4,260.3 1331.1,258.7 1333.3,253.8 1335.4,248.8 1337.4,243.9 1339.6,238.9 1341.8,234 1344.2,229.1 1346.7,224.1 1349.5,219.2 1352.5,214.2 1355.9,209.3 1359.5,204.4 1363.5,199.4 1367.7,194.5 1372.2,189.6 1376.9,184.6 1381.4,179.7 1385.5,174.7 1388.7,170.2 1390.8,174.8 1393.7,179.7 1397,184.6 1400.7,189.6 1404.5,194.5 1408.4,199.4 1412.1,204.4 1415.7,209.3 1418.9,214.2 1421.9,219.2 1424.5,224.1 1426.8,229.1 1428.7,234 1430.2,238.9 1431.3,243.9 1432.1,248.8 1432.4,253.8 1432.6,258.7 1432.7,263.6 1432.8,268.6 1432.8,273.5 1432.8,278.4 1432.8,283.4 1432.7,288.3 1432.6,293.2 1432.5,298.2 1432.4,303.1 1432.2,308.1 1432,313 1431.7,317.9 1431.5,322.9 1431.2,327.8 1430.9,332.8 1430.1,337.7 1428.8,342.6 1427.1,347.6 1425.3,352.5 1423.4,357.4 1421.6,362.4 1420,367.3 1418.6,372.2 1417.4,377.2 1416.2,382.1 1415.1,387.1 1414,392 1412.9,396.9 1411.8,401.9 1410.7,406.8 1409.6,411.8 1408.5,416.7 1407.3,421.6 1406.1,426.6 1404.9,431.5 1403.7,436.4 1402.4,441.4 1401.2,446.3 1399.9,451.2 1398.6,456.2 1397.2,461.1 1396,466.1 1394.7,471ZM1563.7,363.7 1560.9,362.4 1550.4,357.4 1539.3,352.5 1527.8,347.6 1515.9,342.6 1505.3,338.3 1504,337.7 1494.3,332.8 1486.6,327.8 1480.5,322.9 1475.8,317.9 1472,313 1469,308.1 1466.6,303.1 1464.6,298.2 1463,293.2 1461.7,288.3 1460.7,283.4 1459.9,278.4 1459.2,273.5 1458.7,268.6 1458.4,263.6 1458.2,258.7 1458.1,253.8 1458.2,248.8 1458.5,243.9 1459,238.9 1459.6,234 1460.3,229.1 1461.2,224.1 1462.1,219.2 1463,214.2 1464,209.3 1465,204.4 1466,199.4 1466.9,194.5 1467.9,189.6 1468.8,184.6 1469.7,179.7 1470.5,174.8 1471.3,169.8 1472,164.9 1472.6,159.9 1473.2,155 1473.8,150.1 1474.5,145.1 1475.3,140.2 1476.3,135.2 1477.3,130.3 1478.5,125.4 1479.8,120.4 1481.3,115.5 1482.8,110.6 1484.5,105.6 1486.2,100.7 1488.1,95.8 1490.1,90.8 1492.2,85.9 1494.3,80.9 1496.5,76 1498.6,71.1 1500.7,66.1 1502.6,61.2 1504.3,56.2 1505.3,52.8 1507.8,56.2 1512.2,61.2 1517.2,66.1 1522.4,71.1 1527.5,76 1532.3,80.9 1536.5,85.9 1540.3,90.8 1543.6,95.8 1546.4,100.7 1548.9,105.6 1551,110.6 1552.9,115.5 1554.6,120.4 1556.2,125.4 1557.8,130.3 1559.3,135.2 1560.9,140.2 1562.6,145.1 1563.7,148 1564.3,150.1 1566,155 1568,159.9 1570.1,164.9 1572.4,169.8 1574.8,174.8 1577.1,179.7 1579.4,184.6 1581.7,189.6 1583.9,194.5 1585.9,199.4 1587.9,204.4 1589.7,209.3 1591.4,214.2 1592.9,219.2 1594.4,224.1 1595.7,229.1 1596.9,234 1598.1,238.9 1599.1,243.9 1599.9,248.8 1600.7,253.8 1601.3,258.7 1601.8,263.6 1602.2,268.6 1602.5,273.5 1602.7,278.4 1602.7,283.4 1602.6,288.3 1602.3,293.2 1601.8,298.2 1601.3,303.1 1600.6,308.1 1599.7,313 1598.7,317.9 1597.5,322.9 1595.9,327.8 1594.1,332.8 1591.8,337.7 1588.9,342.6 1585.3,347.6 1580.7,352.5 1574.7,357.4 1566.5,362.4 1563.7,363.7ZM1883.3,145.1 1884.4,148 1884.4,145.1 1884.4,140.2 1884.4,135.2 1884.4,130.3 1884.4,125.4 1884.4,120.4 1884.4,115.5 1884.4,110.6 1884.4,105.6 1884.4,100.7 1884.4,95.8 1884.4,90.8 1884.4,85.9 1884.4,80.9 1884.4,76 1884.4,71.1 1884.4,66.1 1884.4,61.2 1884.4,56.2 1884.4,51.3 1884.4,46.4 1884.4,41.4 1884.4,36.5 1855.2,36.5 1831.9,36.5 1833.7,41.4 1835.9,46.4 1838.4,51.3 1841.2,56.2 1844.3,61.2 1847.6,66.1 1851,71.1 1854.7,76 1855.2,76.8 1857.2,80.9 1859.6,85.9 1862,90.8 1864.3,95.8 1866.5,100.7 1868.6,105.6 1870.7,110.6 1872.6,115.5 1874.5,120.4 1876.3,125.4 1878.1,130.3 1879.8,135.2 1881.6,140.2 1883.3,145.1Z" fill="#fbe4d7"/>
<path d="M1414.9,471 1447,471 1505.3,471 1563.7,471 1605.8,471 1604.3,466.1 1602.6,461.1 1600.8,456.2 1598.8,451.2 1596.5,446.3 1593.9,441.4 1590.8,436.4 1587.2,431.5 1582.9,426.6 1577.4,421.6 1570.3,416.7 1563.7,413.1 1558.2,411.8 1539.7,406.8 1523,401.9 1508.2,396.9 1505.3,396 1492,392 1477.6,387.1 1465.1,382.1 1453.8,377.2 1447,374.1 1445.8,377.2 1443.9,382.1 1442.2,387.1 1440.6,392 1439.1,396.9 1437.6,401.9 1436.1,406.8 1434.7,411.8 1433.2,416.7 1431.8,421.6 1430.3,426.6 1428.7,431.5 1427.2,436.4 1425.5,441.4 1423.9,446.3 1422.1,451.2 1420.3,456.2 1418.4,461.1 1416.6,466.1 1414.9,471ZM1654.4,471 1680.3,471 1687.2,471 1687.1,466.1 1687,461.1 1687,456.2 1686.9,451.2 1686.8,446.3 1686.6,441.4 1686.5,436.4 1686.3,431.5 1686.2,426.6 1686,421.6 1685.8,416.7 1685.7,411.8 1685.5,406.8 1685.2,401.9 1685,396.9 1684.7,392 1684.4,387.1 1684.1,382.1 1683.7,377.2 1683.3,372.2 1682.9,367.3 1682.4,362.4 1681.9,357.4 1681.4,352.5 1680.8,347.6 1680.3,343.4 1677.9,347.6 1675.5,352.5 1673.3,357.4 1671.4,362.4 1669.8,367.3 1668.2,372.2 1666.9,377.2 1665.7,382.1 1664.6,387.1 1663.6,392 1662.7,396.9 1661.9,401.9 1661.2,406.8 1660.6,411.8 1660,416.7 1659.4,421.6 1658.8,426.6 1658.2,431.5 1657.7,436.4 1657.2,441.4 1656.6,446.3 1656.2,451.2 1655.7,456.2 1655.2,461.1 1654.8,466.1 1654.4,471ZM1621.2,209.3 1622,212.7 1623.2,209.3 1624.9,204.4 1626.5,199.4 1628,194.5 1629.5,189.6 1631,184.6 1632.4,179.7 1633.9,174.8 1635.4,169.8 1636.9,164.9 1638.4,159.9 1639.9,155 1641.4,150.1 1642.9,145.1 1644.4,140.2 1646,135.2 1647.6,130.3 1649.4,125.4 1651.1,120.4 1652.7,115.5 1654.2,110.6 1655.6,105.6 1657,100.7 1658.4,95.8 1659.7,90.8 1661,85.9 1662.2,80.9 1663.4,76 1664.5,71.1 1665.6,66.1 1666.5,61.2 1667.4,56.2 1668.2,51.3 1668.9,46.4 1669.6,41.4 1670.1,36.5 1622,36.5 1563.7,36.5 1566.6,41.4 1569.5,46.4 1572.1,51.3 1574.5,56.3 1576.6,61.2 1578.3,66.1 1579.8,71.1 1581.3,76 1582.6,80.9 1583.9,85.9 1585.2,90.8 1586.4,95.8 1587.6,100.7 1588.9,105.6 1590.1,110.6 1591.4,115.5 1592.7,120.4 1594,125.4 1595.5,130.3 1596.9,135.2 1598.5,140.2 1600.1,145.1 1601.8,150.1 1603.5,155 1605.4,159.9 1607.2,164.9 1609,169.8 1610.8,174.8 1612.6,179.7 1614.2,184.6 1615.8,189.6 1617.3,194.5 1618.7,199.4 1620,204.4 1621.2,209.3ZM1210.2,199.4 1213.8,204.2 1272.1,204.2 1280.7,199.4 1288.1,194.5 1294,189.6 1298.8,184.6 1302.7,179.7 1305.9,174.8 1308.4,169.8 1310.5,164.9 1312.2,159.9 1313.5,155 1314.6,150.1 1315.6,145.1 1316.5,140.2 1317.4,135.2 1318.2,130.3 1319,125.4 1319.7,120.4 1320.4,115.5 1321,110.6 1321.6,105.6 1322.2,100.7 1322.7,95.8 1323.1,90.8 1323.6,85.9 1324,80.9 1324.3,76 1324.6,71.1 1324.9,66.1 1325.1,61.2 1325.4,56.2 1325.5,51.3 1325.6,46.4 1325.7,41.4 1325.8,36.5 1272.1,36.5 1213.8,36.5 1184.6,36.5 1184.6,41.4 1184.6,46.4 1184.6,51.3 1184.6,56.2 1184.6,61.2 1184.6,66.1 1184.6,71.1 1184.6,76 1184.6,80.9 1184.6,85.9 1184.6,90.8 1184.6,95.8 1184.6,100.7 1184.6,105.6 1184.6,110.6 1184.6,115.5 1184.6,120.4 1184.6,125.4 1184.6,130.3 1184.6,135.2 1184.6,140.2 1184.6,145.1 1184.6,148.1 1185.3,150.1 1187.1,155 1188.9,159.9 1190.6,164.9 1192.5,169.8 1194.6,174.8 1197,179.7 1199.8,184.6 1202.9,189.6 1206.5,194.5 1210.2,199.4ZM1446.5,150.1 1447,151.4 1447.2,150.1 1448,145.1 1448.8,140.2 1449.6,135.2 1450.3,130.3 1451.2,125.4 1452,120.4 1452.9,115.5 1453.8,110.6 1454.8,105.6 1455.8,100.7 1456.8,95.8 1457.9,90.8 1459.1,85.9 1460.3,80.9 1461.5,76 1462.8,71.1 1464,66.1 1465.2,61.2 1466.4,56.2 1467.5,51.3 1468.5,46.4 1469.4,41.4 1470.4,36.5 1447,36.5 1415.2,36.5 1415.8,41.4 1416.4,46.4 1417.2,51.3 1418,56.2 1418.9,61.2 1419.9,66.1 1421,71.1 1422.2,76 1423.4,80.9 1424.7,85.9 1426.1,90.8 1427.5,95.8 1429,100.7 1430.6,105.6 1432.2,110.6 1433.8,115.5 1435.6,120.4 1437.3,125.4 1439.1,130.3 1440.9,135.2 1442.7,140.2 1444.6,145.1 1446.5,150.1ZM1881.4,51.3 1884.4,56.2 1884.4,51.3 1884.4,46.4 1884.4,41.4 1884.4,36.5 1872.7,36.5 1875.3,41.4 1878.2,46.4 1881.4,51.3Z" fill="#fddbc7"/>
<path d="M1435,471 1447,471 1505.3,471 1563.7,471 1573.4,471 1569.6,466.1 1565.4,461.1 1563.7,459.1 1547.6,456.2 1519.7,451.2 1505.3,448.6 1461.9,446.3 1447,445.3 1446.6,446.3 1444.4,451.2 1442,456.2 1439.6,461.1 1437.3,466.1 1435,471ZM1213.2,164.9 1213.8,166.7 1221.4,164.9 1243,159.9 1265,155 1272.1,153.2 1273.4,150.1 1275.4,145.1 1277.3,140.2 1279,135.2 1280.7,130.3 1282.2,125.4 1283.6,120.4 1285,115.5 1286.2,110.6 1287.3,105.6 1288.4,100.7 1289.4,95.8 1290.3,90.8 1291.1,85.9 1291.8,80.9 1292.5,76 1293.1,71.1 1293.6,66.1 1294,61.2 1294.4,56.2 1294.7,51.3 1294.9,46.4 1295,41.4 1295.1,36.5 1272.1,36.5 1213.8,36.5 1184.6,36.5 1184.6,41.4 1184.6,46.4 1184.6,51.3 1184.6,56.2 1184.6,61.2 1184.6,63.1 1185.3,66.1 1186.6,71.1 1187.9,76 1189.3,80.9 1190.6,85.9 1192,90.8 1193.4,95.7 1194.9,100.7 1196.3,105.6 1197.7,110.6 1199.2,115.5 1200.6,120.4 1202,125.4 1203.4,130.3 1204.9,135.2 1206.3,140.2 1207.7,145.1 1209.1,150.1 1210.4,155 1211.8,159.9 1213.2,164.9ZM1620.2,100.7 1622,105.6 1623.8,100.7 1625.6,95.8 1627.5,90.8 1629.3,85.9 1631.1,80.9 1632.8,76 1634.6,71.1 1636.2,66.1 1637.8,61.2 1639.4,56.2 1640.8,51.3 1642.2,46.4 1643.6,41.4 1644.8,36.5 1622,36.5 1594.4,36.5 1596.9,41.4 1599.3,46.4 1601.6,51.3 1603.8,56.2 1605.8,61.2 1607.7,66.1 1609.5,71.1 1611.3,76 1613.1,80.9 1614.8,85.9 1616.6,90.8 1618.4,95.8 1620.2,100.7Z" fill="#fac9b0"/>
<path d="M1738.6,471 1738.6,466.1 1738.6,461.1 1738.6,456.2 1738.7,451.2 1738.7,446.3 1738.7,441.4 1738.8,436.4 1738.8,431.5 1738.8,426.6 1738.9,421.6 1738.9,416.7 1739,411.8 1739.1,406.8 1739.1,401.9 1739.2,396.9 1739.3,392 1739.4,387.1 1739.6,382.1 1739.7,377.2 1739.9,372.2 1740,367.3 1740.2,362.4 1740.4,357.4 1740.6,352.5 1740.8,347.6 1741,342.6 1741.2,337.7 1741.4,332.8 1741.7,327.8 1742,322.9 1742.2,317.9 1742.5,313 1742.9,308.1 1743.2,303.1 1743.6,298.2 1744,293.2 1744.5,288.3 1745,283.4 1745.5,278.4 1746,273.5 1746.6,268.6 1747.3,263.6 1748,258.7 1748.8,253.8 1749.7,248.8 1750.7,243.9 1751.7,238.9 1752.9,234 1754.1,229.1 1755.4,224.1 1756.7,219.2 1758.1,214.2 1759.5,209.3 1761,204.4 1762.5,199.4 1764.1,194.5 1765.8,189.6 1767.5,184.6 1769.3,179.7 1771.2,174.8 1773.2,169.8 1775.4,164.9 1777.7,159.9 1780.3,155 1783.1,150.1 1786.4,145.1 1790.1,140.2 1794.5,135.2 1796.9,132.9 1799.7,135.2 1805.1,140.2 1810.3,145.1 1815.3,150.1 1820.3,155 1825.2,159.9 1830.1,164.9 1835.2,169.8 1840.9,174.8 1847.2,179.7 1854.1,184.6 1855.2,185.4 1857.7,189.6 1860.5,194.5 1863.2,199.4 1865.7,204.4 1868.1,209.3 1870.5,214.2 1872.7,219.2 1875,224.1 1877.2,229.1 1879.6,234 1882.2,238.9 1884.4,243.3M1184.6,244.9 1187.5,248.8 1190.5,253.8 1192.8,258.7 1194.9,263.6 1196.9,268.6 1198.9,273.5 1200.8,278.4 1202.8,283.4 1205,288.3 1207.3,293.2 1210,298.2 1213,303.1 1213.8,304.3 1249.1,308.1 1272.1,310.5 1275.4,313 1280.9,317.9 1285.5,322.9 1289.6,327.8 1293.3,332.8 1296.6,337.7 1299.6,342.6 1302.3,347.6 1304.9,352.5 1307.3,357.4 1309.7,362.4 1312.1,367.3 1314.4,372.2 1316.5,377.2 1318.4,382.1 1320,387.1 1321.2,392 1322.2,396.9 1323.1,401.9 1323.9,406.8 1324.7,411.8 1325.3,416.7 1325.8,421.6 1326.3,426.6 1326.7,431.5 1327,436.4 1327.3,441.4 1327.6,446.3 1327.9,451.2 1328.1,456.2 1328.3,461.1 1328.4,466.1 1328.5,471" fill="none" stroke="#000" stroke-width="1.9" stroke-dasharray="7.2 3.1"/>
</g>
<path d="M1184.6,471v4.9M1242.9,471v4.9M1301.2,471v4.9M1359.5,471v4.9M1417.9,471v4.9M1476.2,471v4.9M1534.5,471v4.9M1592.8,471v4.9M1651.1,471v4.9M1709.5,471v4.9M1767.8,471v4.9M1826.1,471v4.9M1884.4,471v4.9M1184.6,451.2h-4.9M1184.6,352.5h-4.9M1184.6,253.8h-4.9M1184.6,155h-4.9M1184.6,56.2h-4.9M1950.7,78.4h4.9M1950.7,136.8h4.9M1950.7,195.3h4.9M1950.7,253.8h4.9M1950.7,312.2h4.9M1950.7,370.7h4.9M1950.7,429.1h4.9" stroke="#000" stroke-width="1.1" fill="none"/>
<rect x="1184.6" y="36.5" width="699.8" height="434.5" fill="none" stroke="#000" stroke-width="1.1"/>
<rect x="1928" y="456.98" width="22.7" height="14.42" fill="#053061"/>
<rect x="1928" y="442.97" width="22.7" height="14.42" fill="#0e427a"/>
<rect x="1928" y="428.95" width="22.7" height="14.42" fill="#185493"/>
<rect x="1928" y="414.94" width="22.7" height="14.42" fill="#2166ac"/>
<rect x="1928" y="400.92" width="22.7" height="14.42" fill="#2c75b4"/>
<rect x="1928" y="386.90" width="22.7" height="14.42" fill="#3884bb"/>
<rect x="1928" y="372.89" width="22.7" height="14.42" fill="#4393c3"/>
<rect x="1928" y="358.87" width="22.7" height="14.42" fill="#5da4cc"/>
<rect x="1928" y="344.85" width="22.7" height="14.42" fill="#78b4d5"/>
<rect x="1928" y="330.84" width="22.7" height="14.42" fill="#92c5de"/>
<rect x="1928" y="316.82" width="22.7" height="14.42" fill="#a7d0e4"/>
<rect x="1928" y="302.81" width="22.7" height="14.42" fill="#bcdaea"/>
<rect x="1928" y="288.79" width="22.7" height="14.42" fill="#d1e5f0"/>
<rect x="1928" y="274.77" width="22.7" height="14.42" fill="#deebf2"/>
<rect x="1928" y="260.76" width="22.7" height="14.42" fill="#eaf1f5"/>
<rect x="1928" y="246.74" width="22.7" height="14.42" fill="#f7f7f7"/>
<rect x="1928" y="232.73" width="22.7" height="14.42" fill="#f9eee7"/>
<rect x="1928" y="218.71" width="22.7" height="14.42" fill="#fbe4d7"/>
<rect x="1928" y="204.69" width="22.7" height="14.42" fill="#fddbc7"/>
<rect x="1928" y="190.68" width="22.7" height="14.42" fill="#fac9b0"/>
<rect x="1928" y="176.66" width="22.7" height="14.42" fill="#f7b799"/>
<rect x="1928" y="162.65" width="22.7" height="14.42" fill="#f4a582"/>
<rect x="1928" y="148.63" width="22.7" height="14.42" fill="#ea8e70"/>
<rect x="1928" y="134.61" width="22.7" height="14.42" fill="#e0775f"/>
<rect x="1928" y="120.60" width="22.7" height="14.42" fill="#d6604d"/>
<rect x="1928" y="106.58" width="22.7" height="14.42" fill="#ca4842"/>
<rect x="1928" y="92.56" width="22.7" height="14.42" fill="#be3036"/>
<rect x="1928" y="78.55" width="22.7" height="14.42" fill="#b2182b"/>
<rect x="1928" y="64.53" width="22.7" height="14.42" fill="#991027"/>
<rect x="1928" y="50.52" width="22.7" height="14.42" fill="#800823"/>
<rect x="1928" y="36.50" width="22.7" height="14.42" fill="#67001f"/>
<rect x="1928" y="36.5" width="22.7" height="434.5" fill="none" stroke="#000" stroke-width="1.1"/>
<text x="1534.5" y="28.4" font-size="20.85" text-anchor="middle"><tspan font-weight="bold">Observed</tspan> monthly mean zonal wind at Rothera 2006</text>
<text x="1175" y="463.2" font-size="32.5" text-anchor="end">80</text>
<text x="1175" y="364.5" font-size="32.5" text-anchor="end">85</text>
<text x="1175" y="265.8" font-size="32.5" text-anchor="end">90</text>
<text x="1175" y="167" font-size="32.5" text-anchor="end">95</text>
<text x="1175" y="68.2" font-size="32.5" text-anchor="end">100</text>
<text x="1213.8" y="502.4" font-size="32.5" text-anchor="middle">J</text>
<text x="1272.1" y="502.4" font-size="32.5" text-anchor="middle">F</text>
<text x="1330.4" y="502.4" font-size="32.5" text-anchor="middle">M</text>
<text x="1388.7" y="502.4" font-size="32.5" text-anchor="middle">A</text>
<text x="1447" y="502.4" font-size="32.5" text-anchor="middle">M</text>
<text x="1505.3" y="502.4" font-size="32.5" text-anchor="middle">J</text>
<text x="1563.7" y="502.4" font-size="32.5" text-anchor="middle">J</text>
<text x="1622" y="502.4" font-size="32.5" text-anchor="middle">A</text>
<text x="1680.3" y="502.4" font-size="32.5" text-anchor="middle">S</text>
<text x="1738.6" y="502.4" font-size="32.5" text-anchor="middle">O</text>
<text x="1796.9" y="502.4" font-size="32.5" text-anchor="middle">N</text>
<text x="1855.2" y="502.4" font-size="32.5" text-anchor="middle">D</text>
<text x="1534.5" y="540.3" font-size="33.7" text-anchor="middle">Month</text>
<text transform="translate(1103.1,253.8) rotate(-90)" font-size="33.8" text-anchor="middle">Height / km</text>
<text x="1958.7" y="88.7" font-size="26.2">75</text>
<text x="1958.7" y="147.1" font-size="26.2">50</text>
<text x="1958.7" y="205.6" font-size="26.2">25</text>
<text x="1958.7" y="264.1" font-size="26.2">0</text>
<text x="1958.7" y="322.5" font-size="26.2">−25</text>
<text x="1958.7" y="381" font-size="26.2">−50</text>
<text x="1958.7" y="439.4" font-size="26.2">−75</text>
<text transform="translate(2042.7,256.9) rotate(-90)" font-size="31.4" text-anchor="middle">Mean wind speed /<tspan dx="4">ms</tspan><tspan font-size="22.0" dy="-11.1">−1</tspan></text>
<text x="1565" y="624.2" font-size="69.5" class="lab" text-anchor="middle">(b)</text>
<g id="pc">
<rect x="124.5" y="709.1" width="700" height="424.8" fill="#92c5de"/>
<path d="M124.5,1133.9 153.7,1133.9 212,1133.9 270.3,1133.9 299.5,1133.9 328.7,1133.9 387,1133.9 445.3,1133.9 503.7,1133.9 540.8,1133.9 545,1124 561.5,1094.4 562,1093.6 562.2,1094.4 569.8,1124 572,1133.9 620.3,1133.9 678.7,1133.9 737,1133.9 795.3,1133.9 824.5,1133.9 824.5,1124 824.5,1094.4 824.5,1064.7 824.5,1035.1 824.5,1005.5 824.5,975.8 824.5,946.2 824.5,916.6 824.5,886.9 824.5,857.3 824.5,827.6 824.5,798 824.5,768.4 824.5,738.7 824.5,709.1 795.3,709.1 737,709.1 678.7,709.1 620.3,709.1 562,709.1 503.7,709.1 445.3,709.1 387,709.1 328.7,709.1 299.5,709.1 270.3,709.1 212,709.1 153.7,709.1 124.5,709.1 124.5,738.7 124.5,768.4 124.5,798 124.5,827.6 124.5,857.3 124.5,886.9 124.5,916.6 124.5,946.2 124.5,975.8 124.5,1005.5 124.5,1035.1 124.5,1064.7 124.5,1094.4 124.5,1124 124.5,1133.9Z" fill="#a7d0e4"/>
<path d="M124.5,1133.9 153.7,1133.9 212,1133.9 270.3,1133.9 299.5,1133.9 328.7,1133.9 387,1133.9 445.3,1133.9 503.7,1133.9 514.3,1133.9 517,1124 527.3,1094.4 544.8,1064.7 562,1044.2 567.8,1064.7 576.1,1094.4 582.7,1124 584.6,1133.9 620.3,1133.9 678.7,1133.9 737,1133.9 795.3,1133.9 824.5,1133.9 824.5,1124 824.5,1094.4 824.5,1064.7 824.5,1035.1 824.5,1005.5 824.5,975.8 824.5,946.2 824.5,916.6 824.5,886.9 824.5,857.3 824.5,827.6 824.5,798 824.5,768.4 824.5,738.7 824.5,709.1 795.3,709.1 737,709.1 678.7,709.1 620.3,709.1 562,709.1 503.7,709.1 445.3,709.1 387,709.1 328.7,709.1 299.5,709.1 270.3,709.1 212,709.1 153.7,709.1 124.5,709.1 124.5,738.7 124.5,768.4 124.5,798 124.5,827.6 124.5,857.3 124.5,886.9 124.5,916.6 124.5,946.2 124.5,975.8 124.5,1005.5 124.5,1035.1 124.5,1064.7 124.5,1094.4 124.5,1124 124.5,1133.9Z" fill="#bcdaea"/>
<path d="M124.5,1133.9 153.7,1133.9 212,1133.9 270.3,1133.9 299.5,1133.9 321.1,1133.9 321.1,1124 325.2,1094.4 328.7,1073.1 367.6,1064.7 387,1062 387.8,1064.7 391.5,1094.4 395,1124 394.5,1133.9 445.3,1133.9 494.9,1133.9 495.3,1124 498.7,1094.4 502.2,1064.7 503.7,1061.5 530.7,1035.1 551.7,1005.5 562,977.6 568.9,1005.5 575.5,1035.1 582.9,1064.7 590,1094.4 595.6,1124 597.1,1133.9 620.3,1133.9 678.7,1133.9 737,1133.9 795.3,1133.9 824.5,1133.9 824.5,1124 824.5,1094.4 824.5,1064.7 824.5,1035.1 824.5,1005.5 824.5,975.8 824.5,946.2 824.5,916.6 824.5,886.9 824.5,857.3 824.5,827.6 824.5,798 824.5,768.4 824.5,738.7 824.5,709.1 795.3,709.1 737,709.1 678.7,709.1 620.3,709.1 562,709.1 503.7,709.1 445.3,709.1 389.5,709.1 390.6,738.7 392,768.4 387,797.4 328.7,780.8 326,768.4 328.7,762.2 362.9,738.7 377.8,709.1 328.7,709.1 299.5,709.1 270.3,709.1 212,709.1 153.7,709.1 124.5,709.1 124.5,738.7 124.5,768.4 124.5,798 124.5,827.6 124.5,857.3 124.5,886.9 124.5,916.6 124.5,946.2 124.5,975.8 124.5,1005.5 124.5,1035.1 124.5,1064.7 124.5,1094.4 124.5,1124 124.5,1133.9ZM737,841.3 734.8,827.6 734.7,798 737,782.2 758.2,798 795.3,827.6 737,841.3Z" fill="#d1e5f0"/>
<path d="M124.5,1133.9 153.7,1133.9 212,1133.9 270.3,1133.9 277.6,1133.9 282,1124 295.9,1094.4 299.5,1079.6 301,1064.7 304.8,1035.1 310.7,1005.5 310.6,975.8 310.4,946.2 309.8,916.6 309.2,886.9 308.1,857.3 307.2,827.6 299.5,798 275.2,768.4 299.5,748.6 303.8,738.7 320.3,709.1 299.5,709.1 270.3,709.1 212,709.1 153.7,709.1 124.5,709.1 124.5,738.7 124.5,768.4 124.5,798 124.5,827.6 124.5,857.3 124.5,886.9 124.5,916.6 124.5,946.2 124.5,975.8 124.5,1005.5 124.5,1035.1 124.5,1064.7 124.5,1094.4 124.5,1124 124.5,1133.9ZM424.4,1133.9 445.3,1133.9 465.7,1133.9 463.6,1124 466.6,1094.4 469.7,1064.7 477.5,1035.1 501,1005.5 503.7,1003.8 527.6,975.8 550.1,946.2 562,932.9 580.2,946.2 597.4,975.8 602.6,1005.5 607.9,1035.1 613.2,1064.7 617.9,1094.4 620.3,1114.7 621.8,1124 623.1,1133.9 678.7,1133.9 737,1133.9 795.3,1133.9 824.5,1133.9 824.5,1124 824.5,1094.4 824.5,1064.7 824.5,1035.1 824.5,1005.5 824.5,975.8 824.5,946.2 824.5,916.6 824.5,886.9 824.5,857.3 824.5,827.6 824.5,798 824.5,768.4 824.5,738.7 824.5,709.1 795.6,709.1 798.6,738.7 801.9,768.4 807.6,798 819.6,827.6 816.1,857.3 805.9,886.9 795.3,894.1 737,892.8 731.8,886.9 721.5,857.3 716.9,827.6 714.7,798 714.3,768.4 724.6,738.7 731,709.1 678.7,709.1 620.3,709.1 562,709.1 503.7,709.1 445.3,709.1 405.9,709.1 408.6,738.7 411.9,768.4 409.7,798 406.9,827.6 404.2,857.3 400.6,886.9 402,916.6 404,946.2 406.1,975.8 408,1005.5 415.5,1035.1 420.7,1064.7 423.9,1094.4 427,1124 424.4,1133.9Z" fill="#deebf2"/>
<path d="M124.5,1133.9 153.7,1133.9 212,1133.9 261.9,1133.9 262.5,1124 266.7,1094.4 268.7,1064.7 270.3,1055.6 277.4,1035.1 285.6,1005.5 286,975.8 286.5,946.2 285.7,916.6 284.9,886.9 284.1,857.3 283.3,827.6 271.4,798 270.3,796.8 255.8,798 223.7,827.6 212,837.9 210.6,827.6 211,798 211.1,768.4 212,763.7 270.3,748 280.7,738.7 299.5,709.1 270.3,709.1 212,709.1 153.7,709.1 124.5,709.1 124.5,738.7 124.5,768.4 124.5,798 124.5,827.6 124.5,857.3 124.5,886.9 124.5,916.6 124.5,946.2 124.5,975.8 124.5,1005.5 124.5,1035.1 124.5,1064.7 124.5,1094.4 124.5,1124 124.5,1133.9ZM439.4,1133.9 445.3,1133.9 451.2,1133.9 447.7,1124 450.6,1094.4 453.5,1064.7 457.1,1035.1 467.3,1005.5 503.7,983.5 510.2,975.8 532.5,946.2 559,916.6 562,909.1 575.4,916.6 607,946.2 615.4,975.8 619.5,1005.5 620.3,1010.9 625.1,1035.1 630.6,1064.7 635.8,1094.4 640.2,1124 641.4,1133.9 678.7,1133.9 737,1133.9 795.3,1133.9 824.5,1133.9 824.5,1124 824.5,1094.4 824.5,1064.7 824.5,1035.1 824.5,1005.5 824.5,975.8 824.5,946.2 824.5,916.6 824.5,896.2 795.3,912 737,904.7 721.3,886.9 712.5,857.3 708,827.6 704.6,798 701.7,768.4 714.3,738.7 720.9,709.1 678.7,709.1 620.3,709.1 562,709.1 503.7,709.1 445.3,709.1 414.1,709.1 417.6,738.7 421.8,768.4 421.1,798 420.1,827.6 419.1,857.3 417.7,886.9 422.1,916.6 428.3,946.2 429.5,975.8 430.6,1005.5 434.4,1035.1 437.1,1064.7 440.1,1094.4 442.9,1124 439.4,1133.9ZM815.2,798 824.5,817.9 824.5,798 824.5,768.4 824.5,738.7 824.5,709.1 801.6,709.1 804.7,738.7 808.5,768.4 815.2,798Z" fill="#eaf1f5"/>
<path d="M124.5,1133.9 153.7,1133.9 212,1133.9 252.5,1133.9 252.8,1124 254,1094.4 252.1,1064.7 250.9,1035.1 248.5,1005.5 212,980.4 208.8,975.8 197.8,946.2 196.3,916.6 193.8,886.9 195.2,857.3 196.5,827.6 201.7,798 204,768.4 210,738.7 212,731.5 270.3,722.7 280.1,709.1 270.3,709.1 212,709.1 153.7,709.1 124.5,709.1 124.5,738.7 124.5,768.4 124.5,798 124.5,822 125.9,827.6 126.2,857.3 126.9,886.9 124.5,892.2 124.5,916.6 124.5,946.2 124.5,975.8 124.5,1005.5 124.5,1035.1 124.5,1064.7 124.5,1094.4 124.5,1124 124.5,1133.9ZM659.8,1133.9 678.7,1133.9 737,1133.9 795.3,1133.9 824.5,1133.9 824.5,1124 824.5,1094.4 824.5,1064.7 824.5,1035.1 824.5,1005.5 824.5,975.8 824.5,946.2 824.5,923.6 795.3,938.8 737,916.6 710.9,886.9 703.5,857.3 699.1,827.6 694.6,798 689,768.4 703.9,738.7 710.9,709.1 678.7,709.1 620.3,709.1 562,709.1 503.7,709.1 445.3,709.1 422.3,709.1 426.6,738.7 431.8,768.4 432.5,798 433.4,827.6 434,857.3 434.8,886.9 442.1,916.6 445.3,926.9 463.9,946.2 503.7,961.2 515,946.2 540.5,916.6 552.3,886.9 562,860.6 574.2,857.3 615.4,827.6 620.3,821.5 622.5,827.6 625.1,857.3 627,886.9 628,916.6 629.1,946.2 634.4,975.8 641.2,1005.5 645.9,1035.1 650.2,1064.7 654.7,1094.4 658.5,1124 659.8,1133.9ZM822.8,798 824.5,801.6 824.5,798 824.5,768.4 824.5,738.7 824.5,709.1 807.7,709.1 810.9,738.7 815,768.4 822.8,798Z" fill="#f7f7f7"/>
<path d="M124.5,1133.9 153.7,1133.9 212,1133.9 233.6,1133.9 233.3,1124 228.7,1094.4 218.9,1064.7 212,1050.5 197.4,1035.1 175.3,1005.5 162.5,975.8 154.2,946.2 153.7,944.7 152.4,946.2 124.5,964.4 124.5,975.8 124.5,1005.5 124.5,1035.1 124.5,1064.7 124.5,1094.4 124.5,1124 124.5,1133.9ZM685.6,1133.9 737,1133.9 795.3,1133.9 824.5,1133.9 824.5,1124 824.5,1094.4 824.5,1064.7 824.5,1035.1 824.5,1005.5 824.5,975.8 824.5,967.6 795.3,972.5 745.1,946.2 737,942.5 697.5,916.6 690,886.9 685.4,857.3 681.2,827.6 678.7,815.5 671.7,827.6 664.2,857.3 660.5,886.9 662.3,916.6 664,946.2 673.4,975.8 678.7,989.9 684.1,1005.5 684.1,1035.1 684.6,1064.7 685,1094.4 685.4,1124 685.6,1133.9ZM487.4,886.9 503.7,916.6 513.9,886.9 524.5,857.3 539.2,827.6 543.7,798 547.1,768.4 558.2,738.7 562,728.8 577.6,738.7 620.3,752.7 678.7,746.8 683.2,738.7 690.7,709.1 678.7,709.1 620.3,709.1 562,709.1 503.7,709.1 445.3,709.1 438.8,709.1 444.6,738.7 445.3,742 455.8,768.4 461.6,798 468.7,827.6 476.6,857.3 487.4,886.9ZM144.1,827.6 153.7,857.3 168.4,827.6 183.1,798 189.6,768.4 198.5,738.7 207.4,709.1 153.7,709.1 124.5,709.1 124.5,738.7 124.5,768.4 133.3,798 144.1,827.6ZM823.3,738.7 824.5,746.5 824.5,738.7 824.5,709.1 819.7,709.1 823.3,738.7Z" fill="#f9eee7"/>
<path d="M124.5,1133.9 153.7,1133.9 212,1133.9 224.2,1133.9 223.6,1124 216,1094.4 212,1084 197.4,1064.7 165,1035.1 153.7,1018.2 124.5,1009.6 124.5,1035.1 124.5,1064.7 124.5,1094.4 124.5,1124 124.5,1133.9ZM692.7,1133.9 737,1133.9 795.3,1133.9 824.5,1133.9 824.5,1124 824.5,1094.4 824.5,1064.7 824.5,1035.1 824.5,1007.9 817.8,1005.5 795.3,995.5 760.2,975.8 737,963.4 712.8,975.8 702,1005.5 696.8,1035.1 695.5,1064.7 693.6,1094.4 692.9,1124 692.7,1133.9ZM677.2,886.9 678.7,906.6 679.6,886.9 678.7,879.4 677.2,886.9ZM501.7,857.3 503.7,861.5 505.1,857.3 517.6,827.6 525.9,798 532.2,768.4 542.9,738.7 554.5,709.1 503.7,709.1 448.6,709.1 460.7,738.7 472.3,768.4 480.2,798 489.9,827.6 501.7,857.3ZM153.2,827.6 153.7,829 154.4,827.6 173.9,798 182.4,768.4 192.7,738.7 202.4,709.1 153.7,709.1 124.5,709.1 124.5,738.7 124.5,753.3 130.3,768.4 139.7,798 153.2,827.6ZM578.2,709.1 620.3,733 678.7,716.9 680.7,709.1 678.7,709.1 620.3,709.1 578.2,709.1Z" fill="#fbe4d7"/>
<path d="M124.5,1133.9 153.7,1133.9 212,1133.9 214.8,1133.9 213.8,1124 212,1117.6 197.4,1094.4 172.3,1064.7 153.7,1048.9 126.9,1035.1 124.5,1033.7 124.5,1035.1 124.5,1064.7 124.5,1094.4 124.5,1124 124.5,1133.9ZM699.9,1133.9 737,1133.9 795.3,1133.9 824.5,1133.9 824.5,1124 824.5,1094.4 824.5,1064.7 824.5,1035.1 824.5,1028.3 795.3,1016.3 772.6,1005.5 737,985.8 720,1005.5 709.5,1035.1 706.3,1064.7 702.3,1094.4 700.4,1124 699.9,1133.9ZM146.1,798 153.7,814.4 164.6,798 175.2,768.4 187,738.7 197.3,709.1 153.7,709.1 124.5,709.1 124.5,738.2 124.6,738.7 136.2,768.4 146.1,798ZM498.9,798 503.7,810.4 508.2,798 517.3,768.4 527.6,738.7 539.6,709.1 503.7,709.1 464.8,709.1 477.4,738.7 488.7,768.4 498.9,798ZM610.6,709.1 620.3,714.6 636.2,709.1 620.3,709.1 610.6,709.1Z" fill="#fddbc7"/>
<path d="M124.5,1133.9 153.7,1133.9 166.9,1133.9 166.3,1124 154.9,1094.4 153.7,1093.1 124.5,1077 124.5,1094.4 124.5,1124 124.5,1133.9ZM714.2,1133.9 737,1133.9 795.3,1133.9 824.5,1133.9 824.5,1124 824.5,1094.4 824.5,1064.7 795.3,1060.2 745.3,1035.1 737,1031.3 735,1035.1 728,1064.7 719.7,1094.4 715.3,1124 714.2,1133.9ZM147.8,768.4 153.7,784.6 160.9,768.4 175.5,738.7 187.1,709.1 153.7,709.1 126.9,709.1 134.6,738.7 147.8,768.4ZM497.2,709.1 503.7,723.4 509.6,709.1 503.7,709.1 497.2,709.1Z" fill="#fac9b0"/>
<path d="M721.3,1133.9 737,1133.9 786.4,1133.9 784.7,1124 775.9,1094.4 737,1069.1 728.3,1094.4 722.8,1124 721.3,1133.9ZM139.6,738.7 153.7,768.4 169.8,738.7 182.1,709.1 153.7,709.1 131,709.1 139.6,738.7Z" fill="#f7b799"/>
<path d="M728.4,1133.9 737,1133.9 763.9,1133.9 759.6,1124 737,1094.4 730.3,1124 728.4,1133.9ZM144.7,738.7 153.7,757.8 164,738.7 177,709.1 153.7,709.1 135,709.1 144.7,738.7Z" fill="#f4a582"/>
<path d="M143.1,709.1 153.7,736.6 166.9,709.1 153.7,709.1 143.1,709.1Z" fill="#ea8e70"/>
<path d="M147.2,709.1 153.7,726 161.8,709.1 153.7,709.1 147.2,709.1Z" fill="#e0775f"/>
<path d="M151.2,709.1 153.7,715.4 156.7,709.1 153.7,709.1 151.2,709.1Z" fill="#d6604d"/>
<path d="M243,1133.9 243.1,1124 241.4,1094.4 235.5,1064.7 225.8,1035.1 212,1014.7 204.7,1005.5 185.7,975.8 176,946.2 169.1,916.6 157.3,886.9 174.4,857.3 182.5,827.6 192.4,798 196.8,768.4 204.2,738.7 212,711.1 221.7,709.1M824.5,944.1 821.1,946.2 795.3,957.5 773.8,946.2 737,929.5 717.3,916.6 700.5,886.9 694.4,857.3 690.1,827.6 684.6,798 678.7,775.2 651.2,798 647.1,827.6 644.6,857.3 643.8,886.9 645.2,916.6 646.5,946.2 653.9,975.8 663.3,1005.5 666.7,1035.1 669.8,1064.7 673.5,1094.4 676.8,1124 678.1,1133.9M124.5,790 126.9,798 135,827.6 139.9,857.3 151.2,886.9 138.7,916.6 124.5,932.3M430.5,709.1 435.6,738.7 441.7,768.4 443.9,798 445.3,814.7 447.5,827.6 451.4,857.3 456.9,886.9 472,916.6 503.7,938.4 522.1,916.6 533.1,886.9 543.9,857.3 560.7,827.6 561.5,798 562,768.4 620.3,776 653.2,768.4 678.7,765.1 693.6,738.7 700.8,709.1M813.7,709.1 817.1,738.7 821.6,768.4 824.5,779.1" fill="none" stroke="#000" stroke-width="1.9" stroke-dasharray="7.2 3.1"/>
</g>
<path d="M124.5,1133.9v4.9M182.8,1133.9v4.9M241.2,1133.9v4.9M299.5,1133.9v4.9M357.8,1133.9v4.9M416.2,1133.9v4.9M474.5,1133.9v4.9M532.8,1133.9v4.9M591.2,1133.9v4.9M649.5,1133.9v4.9M707.8,1133.9v4.9M766.2,1133.9v4.9M824.5,1133.9v4.9M124.5,1114.1h-4.9M124.5,1015.3h-4.9M124.5,916.6h-4.9M124.5,817.8h-4.9M124.5,719h-4.9M890.3,709.8h4.9M890.3,761.6h4.9M890.3,813.4h4.9M890.3,865.2h4.9M890.3,917h4.9M890.3,968.8h4.9M890.3,1020.6h4.9M890.3,1072.3h4.9M890.3,1124.2h4.9" stroke="#000" stroke-width="1.1" fill="none"/>
<rect x="124.5" y="699.2" width="700" height="434.7" fill="none" stroke="#000" stroke-width="1.1"/>
<rect x="868.4" y="1119.88" width="21.9" height="14.42" fill="#053061"/>
<rect x="868.4" y="1105.85" width="21.9" height="14.42" fill="#0e427a"/>
<rect x="868.4" y="1091.83" width="21.9" height="14.42" fill="#185493"/>
<rect x="868.4" y="1077.81" width="21.9" height="14.42" fill="#2166ac"/>
<rect x="868.4" y="1063.79" width="21.9" height="14.42" fill="#2c75b4"/>
<rect x="868.4" y="1049.76" width="21.9" height="14.42" fill="#3884bb"/>
<rect x="868.4" y="1035.74" width="21.9" height="14.42" fill="#4393c3"/>
<rect x="868.4" y="1021.72" width="21.9" height="14.42" fill="#5da4cc"/>
<rect x="868.4" y="1007.70" width="21.9" height="14.42" fill="#78b4d5"/>
<rect x="868.4" y="993.67" width="21.9" height="14.42" fill="#92c5de"/>
<rect x="868.4" y="979.65" width="21.9" height="14.42" fill="#a7d0e4"/>
<rect x="868.4" y="965.63" width="21.9" height="14.42" fill="#bcdaea"/>
<rect x="868.4" y="951.61" width="21.9" height="14.42" fill="#d1e5f0"/>
<rect x="868.4" y="937.58" width="21.9" height="14.42" fill="#deebf2"/>
<rect x="868.4" y="923.56" width="21.9" height="14.42" fill="#eaf1f5"/>
<rect x="868.4" y="909.54" width="21.9" height="14.42" fill="#f7f7f7"/>
<rect x="868.4" y="895.52" width="21.9" height="14.42" fill="#f9eee7"/>
<rect x="868.4" y="881.49" width="21.9" height="14.42" fill="#fbe4d7"/>
<rect x="868.4" y="867.47" width="21.9" height="14.42" fill="#fddbc7"/>
<rect x="868.4" y="853.45" width="21.9" height="14.42" fill="#fac9b0"/>
<rect x="868.4" y="839.43" width="21.9" height="14.42" fill="#f7b799"/>
<rect x="868.4" y="825.40" width="21.9" height="14.42" fill="#f4a582"/>
<rect x="868.4" y="811.38" width="21.9" height="14.42" fill="#ea8e70"/>
<rect x="868.4" y="797.36" width="21.9" height="14.42" fill="#e0775f"/>
<rect x="868.4" y="783.34" width="21.9" height="14.42" fill="#d6604d"/>
<rect x="868.4" y="769.31" width="21.9" height="14.42" fill="#ca4842"/>
<rect x="868.4" y="755.29" width="21.9" height="14.42" fill="#be3036"/>
<rect x="868.4" y="741.27" width="21.9" height="14.42" fill="#b2182b"/>
<rect x="868.4" y="727.25" width="21.9" height="14.42" fill="#991027"/>
<rect x="868.4" y="713.22" width="21.9" height="14.42" fill="#800823"/>
<rect x="868.4" y="699.20" width="21.9" height="14.42" fill="#67001f"/>
<rect x="868.4" y="699.2" width="21.9" height="434.7" fill="none" stroke="#000" stroke-width="1.1"/>
<text x="474.5" y="691.1" font-size="20.85" text-anchor="middle"><tspan font-weight="bold">ExUM</tspan> monthly mean meridional wind at Rothera 2006</text>
<text x="114.9" y="1126.1" font-size="32.5" text-anchor="end">80</text>
<text x="114.9" y="1027.3" font-size="32.5" text-anchor="end">85</text>
<text x="114.9" y="928.6" font-size="32.5" text-anchor="end">90</text>
<text x="114.9" y="829.8" font-size="32.5" text-anchor="end">95</text>
<text x="114.9" y="731" font-size="32.5" text-anchor="end">100</text>
<text x="153.7" y="1165.3" font-size="32.5" text-anchor="middle">J</text>
<text x="212" y="1165.3" font-size="32.5" text-anchor="middle">F</text>
<text x="270.3" y="1165.3" font-size="32.5" text-anchor="middle">M</text>
<text x="328.7" y="1165.3" font-size="32.5" text-anchor="middle">A</text>
<text x="387" y="1165.3" font-size="32.5" text-anchor="middle">M</text>
<text x="445.3" y="1165.3" font-size="32.5" text-anchor="middle">J</text>
<text x="503.7" y="1165.3" font-size="32.5" text-anchor="middle">J</text>
<text x="562" y="1165.3" font-size="32.5" text-anchor="middle">A</text>
<text x="620.3" y="1165.3" font-size="32.5" text-anchor="middle">S</text>
<text x="678.7" y="1165.3" font-size="32.5" text-anchor="middle">O</text>
<text x="737" y="1165.3" font-size="32.5" text-anchor="middle">N</text>
<text x="795.3" y="1165.3" font-size="32.5" text-anchor="middle">D</text>
<text x="474.5" y="1203.2" font-size="33.7" text-anchor="middle">Month</text>
<text transform="translate(43,916.6) rotate(-90)" font-size="33.8" text-anchor="middle">Height / km</text>
<text x="898.3" y="720" font-size="26.2">20</text>
<text x="898.3" y="771.9" font-size="26.2">15</text>
<text x="898.3" y="823.6" font-size="26.2">10</text>
<text x="898.3" y="875.5" font-size="26.2">5</text>
<text x="898.3" y="927.2" font-size="26.2">0</text>
<text x="898.3" y="979" font-size="26.2">−5</text>
<text x="898.3" y="1030.9" font-size="26.2">−10</text>
<text x="898.3" y="1082.6" font-size="26.2">−15</text>
<text x="898.3" y="1134.5" font-size="26.2">−20</text>
<text transform="translate(982.3,920.4) rotate(-90)" font-size="31.4" text-anchor="middle">Mean wind speed /<tspan dx="11.5">ms</tspan><tspan font-size="22.0" dy="-11.1">−1</tspan></text>
<text x="505" y="1282.6" font-size="69.5" class="lab" text-anchor="middle">(c)</text>
<g id="pd">
<rect x="1184.6" y="699.2" width="699.8" height="434.7" fill="#5da4cc"/>
<path d="M1184.6,1133.9 1213.8,1133.9 1272.1,1133.9 1330.4,1133.9 1388.7,1133.9 1447,1133.9 1496.6,1133.9 1497.8,1129 1499.2,1124 1500.7,1119.1 1502.3,1114.1 1504.1,1109.2 1505.3,1105.9 1506.7,1109.2 1508.6,1114.1 1510.3,1119.1 1512,1124 1513.5,1129 1514.9,1133.9 1563.7,1133.9 1622,1133.9 1680.3,1133.9 1738.6,1133.9 1796.9,1133.9 1855.2,1133.9 1884.4,1133.9 1884.4,1129 1884.4,1124 1884.4,1119.1 1884.4,1114.1 1884.4,1109.2 1884.4,1104.3 1884.4,1099.3 1884.4,1094.4 1884.4,1089.4 1884.4,1084.5 1884.4,1079.6 1884.4,1074.6 1884.4,1069.7 1884.4,1064.7 1884.4,1059.8 1884.4,1054.9 1884.4,1049.9 1884.4,1045 1884.4,1040 1884.4,1035.1 1884.4,1030.2 1884.4,1025.2 1884.4,1020.3 1884.4,1015.3 1884.4,1010.4 1884.4,1005.5 1884.4,1000.5 1884.4,995.6 1884.4,990.6 1884.4,985.7 1884.4,980.8 1884.4,975.8 1884.4,970.9 1884.4,965.9 1884.4,961 1884.4,956.1 1884.4,951.1 1884.4,946.2 1884.4,941.2 1884.4,936.3 1884.4,931.4 1884.4,926.4 1884.4,921.5 1884.4,916.6 1884.4,911.6 1884.4,906.7 1884.4,901.7 1884.4,896.8 1884.4,891.9 1884.4,886.9 1884.4,882 1884.4,877 1884.4,872.1 1884.4,867.2 1884.4,862.2 1884.4,857.3 1884.4,852.3 1884.4,847.4 1884.4,842.5 1884.4,837.5 1884.4,832.6 1884.4,827.6 1884.4,822.7 1884.4,817.8 1884.4,812.8 1884.4,807.9 1884.4,802.9 1884.4,798 1884.4,793.1 1884.4,788.1 1884.4,783.2 1884.4,778.2 1884.4,773.3 1884.4,768.4 1884.4,763.4 1884.4,758.5 1884.4,753.5 1884.4,748.6 1884.4,743.7 1884.4,738.7 1884.4,733.8 1884.4,728.8 1884.4,723.9 1884.4,719 1884.4,714 1884.4,709.1 1884.4,704.1 1884.4,699.2 1855.2,699.2 1796.9,699.2 1738.6,699.2 1680.3,699.2 1622,699.2 1563.7,699.2 1505.3,699.2 1447,699.2 1388.7,699.2 1330.4,699.2 1272.1,699.2 1213.8,699.2 1184.6,699.2 1184.6,704.1 1184.6,709.1 1184.6,714 1184.6,719 1184.6,723.9 1184.6,728.8 1184.6,733.8 1184.6,738.7 1184.6,743.7 1184.6,748.6 1184.6,753.5 1184.6,758.5 1184.6,763.4 1184.6,768.4 1184.6,773.3 1184.6,778.2 1184.6,783.2 1184.6,788.1 1184.6,793.1 1184.6,798 1184.6,802.9 1184.6,807.9 1184.6,812.8 1184.6,817.8 1184.6,822.7 1184.6,827.6 1184.6,832.6 1184.6,837.5 1184.6,842.5 1184.6,847.4 1184.6,852.3 1184.6,857.3 1184.6,862.2 1184.6,867.2 1184.6,872.1 1184.6,877 1184.6,882 1184.6,886.9 1184.6,891.9 1184.6,896.8 1184.6,901.7 1184.6,906.7 1184.6,911.6 1184.6,916.6 1184.6,921.5 1184.6,926.4 1184.6,931.4 1184.6,936.3 1184.6,941.2 1184.6,946.2 1184.6,951.1 1184.6,956.1 1184.6,961 1184.6,965.9 1184.6,970.9 1184.6,975.8 1184.6,980.8 1184.6,985.7 1184.6,990.6 1184.6,995.6 1184.6,1000.5 1184.6,1005.5 1184.6,1010.4 1184.6,1015.3 1184.6,1020.3 1184.6,1025.2 1184.6,1030.2 1184.6,1035.1 1184.6,1040 1184.6,1045 1184.6,1049.9 1184.6,1054.9 1184.6,1059.8 1184.6,1064.7 1184.6,1069.7 1184.6,1074.6 1184.6,1079.6 1184.6,1084.5 1184.6,1089.4 1184.6,1094.4 1184.6,1099.3 1184.6,1104.3 1184.6,1109.2 1184.6,1114.1 1184.6,1119.1 1184.6,1124 1184.6,1129 1184.6,1133.9Z" fill="#78b4d5"/>
<path d="M1184.6,1133.9 1213.8,1133.9 1272.1,1133.9 1330.4,1133.9 1388.7,1133.9 1447,1133.9 1482,1133.9 1483,1129 1484.1,1124 1485.3,1119.1 1486.6,1114.1 1488,1109.2 1489.5,1104.3 1491.2,1099.3 1493,1094.4 1495,1089.4 1497.2,1084.5 1499.7,1079.6 1502.5,1074.6 1505.3,1070.3 1507.8,1074.6 1510.4,1079.6 1512.8,1084.5 1515.1,1089.4 1517.3,1094.4 1519.4,1099.3 1521.4,1104.3 1523.4,1109.2 1525.1,1114.1 1526.8,1119.1 1528.3,1124 1529.7,1129 1530.9,1133.9 1563.7,1133.9 1622,1133.9 1680.3,1133.9 1738.6,1133.9 1796.9,1133.9 1855.2,1133.9 1884.4,1133.9 1884.4,1129 1884.4,1124 1884.4,1119.1 1884.4,1114.1 1884.4,1109.2 1884.4,1104.3 1884.4,1099.3 1884.4,1094.4 1884.4,1089.4 1884.4,1084.5 1884.4,1079.6 1884.4,1074.6 1884.4,1069.7 1884.4,1064.7 1884.4,1059.8 1884.4,1054.9 1884.4,1049.9 1884.4,1045 1884.4,1040 1884.4,1035.1 1884.4,1030.2 1884.4,1025.2 1884.4,1020.3 1884.4,1015.3 1884.4,1010.4 1884.4,1005.5 1884.4,1000.5 1884.4,995.6 1884.4,990.6 1884.4,985.7 1884.4,980.8 1884.4,975.8 1884.4,970.9 1884.4,965.9 1884.4,961 1884.4,956.1 1884.4,951.1 1884.4,946.2 1884.4,941.2 1884.4,936.3 1884.4,931.4 1884.4,926.4 1884.4,921.5 1884.4,916.6 1884.4,911.6 1884.4,906.7 1884.4,901.7 1884.4,896.8 1884.4,891.9 1884.4,886.9 1884.4,882 1884.4,877 1884.4,872.1 1884.4,867.2 1884.4,862.2 1884.4,857.3 1884.4,852.3 1884.4,847.4 1884.4,842.5 1884.4,837.5 1884.4,832.6 1884.4,827.6 1884.4,822.7 1884.4,817.8 1884.4,812.8 1884.4,807.9 1884.4,802.9 1884.4,798 1884.4,793.1 1884.4,788.1 1884.4,783.2 1884.4,778.2 1884.4,773.3 1884.4,768.4 1884.4,763.4 1884.4,758.5 1884.4,753.5 1884.4,748.6 1884.4,743.7 1884.4,738.7 1884.4,733.8 1884.4,728.8 1884.4,723.9 1884.4,719 1884.4,714 1884.4,709.1 1884.4,704.1 1884.4,699.2 1855.2,699.2 1796.9,699.2 1738.6,699.2 1680.3,699.2 1622,699.2 1563.7,699.2 1505.3,699.2 1447,699.2 1388.7,699.2 1330.4,699.2 1272.1,699.2 1213.8,699.2 1184.6,699.2 1184.6,704.1 1184.6,709.1 1184.6,714 1184.6,719 1184.6,723.9 1184.6,728.8 1184.6,733.8 1184.6,738.7 1184.6,743.7 1184.6,748.6 1184.6,753.5 1184.6,758.5 1184.6,763.4 1184.6,768.4 1184.6,773.3 1184.6,778.2 1184.6,783.2 1184.6,788.1 1184.6,793.1 1184.6,798 1184.6,802.9 1184.6,807.9 1184.6,812.8 1184.6,817.8 1184.6,822.7 1184.6,827.6 1184.6,832.6 1184.6,837.5 1184.6,842.5 1184.6,847.4 1184.6,852.3 1184.6,857.3 1184.6,862.2 1184.6,867.2 1184.6,872.1 1184.6,877 1184.6,882 1184.6,886.9 1184.6,891.9 1184.6,896.8 1184.6,901.7 1184.6,906.7 1184.6,911.6 1184.6,916.6 1184.6,921.5 1184.6,926.4 1184.6,931.4 1184.6,936.3 1184.6,941.2 1184.6,946.2 1184.6,951.1 1184.6,956.1 1184.6,961 1184.6,965.9 1184.6,970.9 1184.6,975.8 1184.6,980.8 1184.6,985.7 1184.6,990.6 1184.6,995.6 1184.6,1000.5 1184.6,1005.5 1184.6,1010.4 1184.6,1015.3 1184.6,1020.3 1184.6,1025.2 1184.6,1030.2 1184.6,1035.1 1184.6,1040 1184.6,1045 1184.6,1049.9 1184.6,1054.9 1184.6,1059.8 1184.6,1064.7 1184.6,1069.7 1184.6,1074.6 1184.6,1079.6 1184.6,1084.5 1184.6,1089.4 1184.6,1094.4 1184.6,1099.3 1184.6,1104.3 1184.6,1109.2 1184.6,1114.1 1184.6,1119.1 1184.6,1124 1184.6,1129 1184.6,1133.9Z" fill="#92c5de"/>
<path d="M1184.6,1133.9 1213.8,1133.9 1272.1,1133.9 1330.4,1133.9 1388.7,1133.9 1447,1133.9 1467.4,1133.9 1468.2,1129 1469,1124 1469.9,1119.1 1470.8,1114.1 1471.9,1109.2 1473,1104.3 1474.3,1099.3 1475.6,1094.4 1477.1,1089.4 1478.8,1084.5 1480.7,1079.6 1482.8,1074.6 1485.2,1069.7 1488.1,1064.7 1491.7,1059.8 1495.9,1054.9 1500.9,1049.9 1505.3,1046 1508.2,1049.9 1511.8,1054.9 1515.3,1059.8 1518.7,1064.7 1521.8,1069.7 1524.6,1074.6 1527.3,1079.6 1529.8,1084.5 1532,1089.4 1534.2,1094.4 1536.2,1099.3 1538.2,1104.3 1540,1109.2 1541.7,1114.1 1543.3,1119.1 1544.7,1124 1545.9,1129 1546.9,1133.9 1563.7,1133.9 1622,1133.9 1674,1133.9 1676,1129 1677.8,1124 1679.6,1119.1 1680.3,1116.9 1680.7,1119.1 1681.6,1124 1682.4,1129 1683.1,1133.9 1738.6,1133.9 1796.9,1133.9 1855.2,1133.9 1884.4,1133.9 1884.4,1129 1884.4,1124 1884.4,1119.1 1884.4,1114.1 1884.4,1109.2 1884.4,1104.3 1884.4,1099.3 1884.4,1094.4 1884.4,1089.4 1884.4,1084.5 1884.4,1079.6 1884.4,1074.6 1884.4,1069.7 1884.4,1064.7 1884.4,1059.8 1884.4,1054.9 1884.4,1049.9 1884.4,1045 1884.4,1040 1884.4,1035.1 1884.4,1030.2 1884.4,1025.2 1884.4,1020.3 1884.4,1015.3 1884.4,1010.4 1884.4,1005.5 1884.4,1000.5 1884.4,995.6 1884.4,990.6 1884.4,985.7 1884.4,980.8 1884.4,975.8 1884.4,970.9 1884.4,965.9 1884.4,961 1884.4,956.1 1884.4,951.1 1884.4,946.2 1884.4,941.2 1884.4,936.3 1884.4,931.4 1884.4,926.4 1884.4,921.5 1884.4,916.6 1884.4,911.6 1884.4,906.7 1884.4,901.7 1884.4,896.8 1884.4,891.9 1884.4,886.9 1884.4,882 1884.4,877 1884.4,872.1 1884.4,867.2 1884.4,862.2 1884.4,857.3 1884.4,852.3 1884.4,847.4 1884.4,842.5 1884.4,837.5 1884.4,832.6 1884.4,827.6 1884.4,822.7 1884.4,817.8 1884.4,812.8 1884.4,807.9 1884.4,802.9 1884.4,798 1884.4,793.1 1884.4,788.1 1884.4,783.2 1884.4,778.2 1884.4,773.3 1884.4,768.4 1884.4,763.4 1884.4,758.5 1884.4,753.5 1884.4,748.6 1884.4,743.7 1884.4,738.7 1884.4,733.8 1884.4,728.8 1884.4,723.9 1884.4,719 1884.4,714 1884.4,709.1 1884.4,704.1 1884.4,699.2 1855.2,699.2 1796.9,699.2 1738.6,699.2 1680.3,699.2 1622,699.2 1563.7,699.2 1505.3,699.2 1447,699.2 1388.7,699.2 1330.4,699.2 1272.1,699.2 1213.8,699.2 1184.6,699.2 1184.6,704.1 1184.6,709.1 1184.6,714 1184.6,719 1184.6,723.9 1184.6,728.8 1184.6,733.8 1184.6,738.7 1184.6,743.7 1184.6,748.6 1184.6,753.5 1184.6,758.5 1184.6,763.4 1184.6,768.4 1184.6,773.3 1184.6,778.2 1184.6,783.2 1184.6,788.1 1184.6,793.1 1184.6,798 1184.6,802.9 1184.6,807.9 1184.6,812.8 1184.6,817.8 1184.6,822.7 1184.6,827.6 1184.6,832.6 1184.6,837.5 1184.6,842.5 1184.6,847.4 1184.6,852.3 1184.6,857.3 1184.6,862.2 1184.6,867.2 1184.6,872.1 1184.6,877 1184.6,882 1184.6,886.9 1184.6,891.9 1184.6,896.8 1184.6,901.7 1184.6,906.7 1184.6,911.6 1184.6,916.6 1184.6,921.5 1184.6,926.4 1184.6,931.4 1184.6,936.3 1184.6,941.2 1184.6,946.2 1184.6,951.1 1184.6,956.1 1184.6,961 1184.6,965.9 1184.6,970.9 1184.6,975.8 1184.6,980.8 1184.6,985.7 1184.6,990.6 1184.6,995.6 1184.6,1000.5 1184.6,1005.5 1184.6,1010.4 1184.6,1015.3 1184.6,1020.3 1184.6,1025.2 1184.6,1030.2 1184.6,1035.1 1184.6,1040 1184.6,1045 1184.6,1049.9 1184.6,1054.9 1184.6,1059.8 1184.6,1064.7 1184.6,1069.7 1184.6,1074.6 1184.6,1079.6 1184.6,1084.5 1184.6,1089.4 1184.6,1094.4 1184.6,1099.3 1184.6,1104.3 1184.6,1109.2 1184.6,1114.1 1184.6,1119.1 1184.6,1124 1184.6,1129 1184.6,1133.9Z" fill="#a7d0e4"/>
<path d="M1184.6,1133.9 1213.8,1133.9 1272.1,1133.9 1330.4,1133.9 1388.7,1133.9 1447,1133.9 1452.9,1133.9 1453.3,1129 1453.9,1124 1454.5,1119.1 1455.1,1114.1 1455.8,1109.2 1456.6,1104.3 1457.4,1099.3 1458.3,1094.4 1459.3,1089.4 1460.4,1084.5 1461.7,1079.6 1463.1,1074.6 1464.7,1069.7 1466.6,1064.7 1468.8,1059.8 1471.5,1054.9 1474.6,1049.9 1478.2,1045 1482.4,1040 1487.5,1035.1 1493.6,1030.2 1500.9,1025.2 1505.3,1022.6 1507.2,1025.2 1510.9,1030.2 1514.5,1035.1 1518.1,1040 1521.6,1045 1525.1,1049.9 1528.7,1054.9 1532.1,1059.8 1535.4,1064.7 1538.5,1069.7 1541.5,1074.6 1544.3,1079.6 1546.7,1084.5 1548.9,1089.4 1551,1094.4 1553,1099.3 1554.9,1104.3 1556.7,1109.2 1558.3,1114.1 1559.8,1119.1 1561,1124 1562.1,1129 1562.9,1133.9 1563.7,1133.9 1622,1133.9 1653.2,1133.9 1656.5,1129 1659.6,1124 1662.4,1119.1 1665,1114.1 1667.4,1109.2 1669.6,1104.3 1671.6,1099.3 1673.5,1094.4 1675.3,1089.4 1677,1084.5 1678.7,1079.6 1680.3,1075 1681.7,1079.6 1683,1084.5 1684.3,1089.4 1685.5,1094.4 1686.5,1099.3 1687.6,1104.3 1688.5,1109.2 1689.4,1114.1 1690.3,1119.1 1691.1,1124 1691.8,1129 1692.5,1133.9 1738.6,1133.9 1796.9,1133.9 1855.2,1133.9 1884.4,1133.9 1884.4,1129 1884.4,1124 1884.4,1119.1 1884.4,1114.1 1884.4,1109.2 1884.4,1104.3 1884.4,1099.3 1884.4,1094.4 1884.4,1089.4 1884.4,1084.5 1884.4,1079.6 1884.4,1074.6 1884.4,1069.7 1884.4,1064.7 1884.4,1059.8 1884.4,1054.9 1884.4,1049.9 1884.4,1045 1884.4,1040 1884.4,1035.1 1884.4,1030.2 1884.4,1025.2 1884.4,1020.3 1884.4,1015.3 1884.4,1010.4 1884.4,1005.5 1884.4,1000.5 1884.4,995.6 1884.4,990.6 1884.4,985.7 1884.4,980.8 1884.4,975.8 1884.4,970.9 1884.4,965.9 1884.4,961 1884.4,956.1 1884.4,951.1 1884.4,946.2 1884.4,941.2 1884.4,936.3 1884.4,931.4 1884.4,926.4 1884.4,921.5 1884.4,916.6 1884.4,911.6 1884.4,906.7 1884.4,901.7 1884.4,896.8 1884.4,891.9 1884.4,886.9 1884.4,882 1884.4,877 1884.4,872.1 1884.4,867.2 1884.4,862.2 1884.4,857.3 1884.4,852.3 1884.4,847.4 1884.4,842.5 1884.4,837.5 1884.4,832.6 1884.4,827.6 1884.4,822.7 1884.4,817.8 1884.4,812.8 1884.4,807.9 1884.4,802.9 1884.4,798 1884.4,793.1 1884.4,788.1 1884.4,783.2 1884.4,778.2 1884.4,773.3 1884.4,768.4 1884.4,763.4 1884.4,758.5 1884.4,753.5 1884.4,748.6 1884.4,743.7 1884.4,738.7 1884.4,733.8 1884.4,728.8 1884.4,723.9 1884.4,719 1884.4,714 1884.4,709.1 1884.4,704.1 1884.4,699.2 1855.2,699.2 1796.9,699.2 1738.6,699.2 1680.3,699.2 1622,699.2 1563.7,699.2 1505.3,699.2 1447,699.2 1388.7,699.2 1330.4,699.2 1272.1,699.2 1213.8,699.2 1184.6,699.2 1184.6,704.1 1184.6,709.1 1184.6,714 1184.6,719 1184.6,723.9 1184.6,728.8 1184.6,733.8 1184.6,738.7 1184.6,743.7 1184.6,748.6 1184.6,753.5 1184.6,758.5 1184.6,763.4 1184.6,768.4 1184.6,773.3 1184.6,778.2 1184.6,783.2 1184.6,788.1 1184.6,793.1 1184.6,798 1184.6,802.9 1184.6,807.9 1184.6,812.8 1184.6,817.8 1184.6,822.7 1184.6,827.6 1184.6,832.6 1184.6,837.5 1184.6,842.5 1184.6,847.4 1184.6,852.3 1184.6,857.3 1184.6,862.2 1184.6,867.2 1184.6,872.1 1184.6,877 1184.6,882 1184.6,886.9 1184.6,891.9 1184.6,896.8 1184.6,901.7 1184.6,906.7 1184.6,911.6 1184.6,916.6 1184.6,921.5 1184.6,926.4 1184.6,931.4 1184.6,936.3 1184.6,941.2 1184.6,946.2 1184.6,951.1 1184.6,956.1 1184.6,961 1184.6,965.9 1184.6,970.9 1184.6,975.8 1184.6,980.8 1184.6,985.7 1184.6,990.6 1184.6,995.6 1184.6,1000.5 1184.6,1005.5 1184.6,1010.4 1184.6,1015.3 1184.6,1020.3 1184.6,1025.2 1184.6,1030.2 1184.6,1035.1 1184.6,1040 1184.6,1045 1184.6,1049.9 1184.6,1054.9 1184.6,1059.8 1184.6,1064.7 1184.6,1069.7 1184.6,1074.6 1184.6,1079.6 1184.6,1084.5 1184.6,1089.4 1184.6,1094.4 1184.6,1099.3 1184.6,1104.3 1184.6,1109.2 1184.6,1114.1 1184.6,1119.1 1184.6,1124 1184.6,1129 1184.6,1133.9Z" fill="#bcdaea"/>
<path d="M1184.6,1133.9 1213.8,1133.9 1272.1,1133.9 1330.4,1133.9 1388.7,1133.9 1422,1133.9 1422.8,1129 1423.7,1124 1424.8,1119.1 1426.1,1114.1 1427.5,1109.2 1428.9,1104.3 1430.5,1099.3 1432,1094.4 1433.8,1089.4 1435.7,1084.5 1437.7,1079.6 1439.7,1074.6 1441.7,1069.7 1443.6,1064.7 1445.3,1059.8 1447,1054.9 1448.3,1049.9 1449.8,1045 1451.7,1040 1453.9,1035.1 1456.5,1030.2 1459.7,1025.2 1463.4,1020.3 1467.8,1015.3 1473.2,1010.4 1480.6,1005.5 1492.1,1000.5 1505.3,997.3 1508.5,1000.5 1512.3,1005.5 1515.6,1010.4 1518.7,1015.3 1521.7,1020.3 1525,1025.2 1528.3,1030.2 1531.6,1035.1 1535.1,1040 1538.6,1045 1542.1,1049.9 1545.5,1054.9 1548.8,1059.8 1552.1,1064.7 1555.3,1069.7 1558.4,1074.6 1561.2,1079.6 1563.7,1084.5 1565.9,1089.4 1568.3,1094.4 1570.9,1099.3 1573.8,1104.3 1576.9,1109.2 1580.5,1114.1 1584.7,1119.1 1589.4,1124 1595.1,1129 1601.9,1133.9 1622,1133.9 1632.4,1133.9 1637,1129 1641.3,1124 1645.3,1119.1 1648.9,1114.1 1652.1,1109.2 1655.1,1104.3 1657.8,1099.3 1660.3,1094.4 1662.5,1089.4 1664.6,1084.5 1666.6,1079.6 1668.6,1074.6 1670.6,1069.7 1672.7,1064.7 1674.8,1059.8 1677,1054.9 1679.1,1049.9 1680.3,1047.2 1681.7,1049.9 1683.9,1054.9 1686,1059.8 1687.9,1064.7 1689.6,1069.7 1691,1074.6 1692.3,1079.6 1693.5,1084.5 1694.6,1089.4 1695.6,1094.4 1696.5,1099.3 1697.4,1104.3 1698.3,1109.2 1699.1,1114.1 1699.9,1119.1 1700.6,1124 1701.3,1129 1701.9,1133.9 1738.6,1133.9 1796.9,1133.9 1855.2,1133.9 1884.4,1133.9 1884.4,1129 1884.4,1124 1884.4,1119.1 1884.4,1114.1 1884.4,1109.2 1884.4,1104.3 1884.4,1099.3 1884.4,1094.4 1884.4,1089.4 1884.4,1084.5 1884.4,1079.6 1884.4,1074.6 1884.4,1069.7 1884.4,1064.7 1884.4,1059.8 1884.4,1054.9 1884.4,1049.9 1884.4,1045 1884.4,1040 1884.4,1035.1 1884.4,1030.2 1884.4,1025.2 1884.4,1020.3 1884.4,1015.3 1884.4,1010.4 1884.4,1005.5 1884.4,1000.5 1884.4,995.6 1884.4,990.6 1884.4,985.7 1884.4,980.8 1884.4,975.8 1884.4,970.9 1884.4,965.9 1884.4,961 1884.4,956.1 1884.4,951.1 1884.4,946.2 1884.4,941.2 1884.4,936.3 1884.4,931.4 1884.4,926.4 1884.4,921.5 1884.4,916.6 1884.4,911.6 1884.4,906.7 1884.4,901.7 1884.4,896.8 1884.4,891.9 1884.4,886.9 1884.4,882 1884.4,877 1884.4,872.1 1884.4,867.2 1884.4,862.2 1884.4,857.3 1884.4,852.3 1884.4,847.4 1884.4,842.5 1884.4,837.5 1884.4,832.6 1884.4,827.6 1884.4,822.7 1884.4,817.8 1884.4,812.8 1884.4,807.9 1884.4,802.9 1884.4,798 1884.4,793.1 1884.4,788.1 1884.4,783.2 1884.4,778.2 1884.4,773.3 1884.4,768.4 1884.4,763.4 1884.4,758.5 1884.4,753.5 1884.4,748.6 1884.4,743.7 1884.4,738.7 1884.4,733.8 1884.4,728.8 1884.4,723.9 1884.4,719 1884.4,714 1884.4,709.1 1884.4,704.1 1884.4,699.2 1855.2,699.2 1796.9,699.2 1738.6,699.2 1680.3,699.2 1622,699.2 1563.7,699.2 1505.3,699.2 1447,699.2 1388.7,699.2 1330.4,699.2 1272.1,699.2 1213.8,699.2 1184.6,699.2 1184.6,704.1 1184.6,709.1 1184.6,714 1184.6,719 1184.6,723.9 1184.6,728.8 1184.6,733.8 1184.6,738.7 1184.6,743.7 1184.6,748.6 1184.6,753.5 1184.6,758.5 1184.6,763.4 1184.6,768.4 1184.6,773.3 1184.6,778.2 1184.6,783.2 1184.6,788.1 1184.6,793.1 1184.6,798 1184.6,802.9 1184.6,807.9 1184.6,812.8 1184.6,817.8 1184.6,822.7 1184.6,827.6 1184.6,832.6 1184.6,837.5 1184.6,842.5 1184.6,847.4 1184.6,852.3 1184.6,857.3 1184.6,862.2 1184.6,867.2 1184.6,872.1 1184.6,877 1184.6,882 1184.6,886.9 1184.6,891.9 1184.6,896.8 1184.6,901.7 1184.6,906.7 1184.6,911.6 1184.6,916.6 1184.6,921.5 1184.6,926.4 1184.6,931.4 1184.6,936.3 1184.6,941.2 1184.6,946.2 1184.6,951.1 1184.6,956.1 1184.6,961 1184.6,965.9 1184.6,970.9 1184.6,975.8 1184.6,980.8 1184.6,985.7 1184.6,990.6 1184.6,995.6 1184.6,1000.5 1184.6,1005.5 1184.6,1010.4 1184.6,1015.3 1184.6,1020.3 1184.6,1025.2 1184.6,1030.2 1184.6,1035.1 1184.6,1040 1184.6,1045 1184.6,1049.9 1184.6,1054.9 1184.6,1059.8 1184.6,1064.7 1184.6,1069.7 1184.6,1074.6 1184.6,1079.6 1184.6,1084.5 1184.6,1089.4 1184.6,1094.4 1184.6,1099.3 1184.6,1104.3 1184.6,1109.2 1184.6,1114.1 1184.6,1119.1 1184.6,1124 1184.6,1129 1184.6,1133.9ZM1447,860.2 1446,857.3 1444.2,852.3 1442.4,847.4 1440.8,842.5 1439.2,837.5 1437.7,832.6 1436.4,827.6 1435.2,822.7 1434.2,817.8 1433.4,812.8 1432.7,807.9 1432.1,802.9 1431.8,798 1431.7,793.1 1431.9,788.1 1432.5,783.2 1433.3,778.2 1434.5,773.3 1436.1,768.4 1438,763.4 1440.4,758.5 1443.2,753.5 1446.7,748.6 1447,748.4 1447.1,748.6 1447.8,753.5 1448.5,758.5 1449.2,763.4 1449.7,768.4 1450.2,773.3 1450.7,778.2 1451.1,783.2 1451.4,788.1 1451.8,793.1 1452,798 1452.1,802.9 1452.1,807.9 1451.9,812.8 1451.7,817.8 1451.3,822.7 1450.9,827.6 1450.4,832.6 1449.9,837.5 1449.3,842.5 1448.7,847.4 1448,852.3 1447.4,857.3 1447,860.2Z" fill="#d1e5f0"/>
<path d="M1184.6,1133.9 1213.8,1133.9 1272.1,1133.9 1330.4,1133.9 1349.8,1133.9 1355.2,1129 1360.2,1124 1365.2,1119.1 1370.2,1114.1 1375.3,1109.2 1380.3,1104.3 1385.3,1099.3 1388.7,1095.8 1389.2,1094.4 1391.4,1089.4 1394.2,1084.5 1397.2,1079.6 1400.4,1074.6 1403.5,1069.7 1406.5,1064.7 1409.2,1059.8 1411.7,1054.9 1414.1,1049.9 1416.6,1045 1418.9,1040 1420.8,1035.1 1422.4,1030.2 1424,1025.2 1425.5,1020.3 1426.8,1015.3 1428.2,1010.4 1429.6,1005.5 1430.9,1000.5 1432.3,995.6 1433.4,990.6 1434.4,985.7 1435,980.8 1435.2,975.8 1435.1,970.9 1434.8,965.9 1434.4,961 1433.9,956.1 1433.3,951.1 1432.7,946.2 1432,941.2 1431.3,936.3 1430.6,931.4 1429.7,926.4 1428.8,921.5 1427.6,916.6 1426.2,911.6 1424.5,906.7 1422.7,901.7 1421.1,896.8 1419.5,891.9 1417.7,886.9 1415.9,882 1414.2,877 1412.6,872.1 1411.1,867.2 1410,862.2 1409,857.3 1408.2,852.3 1407.4,847.4 1406.7,842.5 1406.1,837.5 1405.5,832.6 1404.9,827.6 1404.4,822.7 1403.9,817.8 1403.3,812.8 1402.7,807.9 1402,802.9 1401.4,798 1400.8,793.1 1400.4,788.1 1400.2,783.2 1400.3,778.2 1400.6,773.3 1401.1,768.4 1401.7,763.4 1402.4,758.5 1403.4,753.5 1404.6,748.6 1406.9,743.7 1411.8,738.7 1423.3,733.8 1447,728.8 1449.5,733.8 1451.9,738.7 1454,743.7 1455.3,748.6 1456.2,753.5 1457,758.5 1457.7,763.4 1458.4,768.4 1459,773.3 1459.5,778.2 1460.1,783.2 1460.7,788.1 1461.3,793.1 1462,798 1462.5,802.9 1462.8,807.9 1462.8,812.8 1462.8,817.8 1462.6,822.7 1462.4,827.6 1462.1,832.6 1461.8,837.5 1461.5,842.5 1461.1,847.4 1460.7,852.3 1460.3,857.3 1459.9,862.2 1459.4,867.2 1458.8,872.1 1458.2,877 1457.6,882 1457,886.9 1456.4,891.9 1456,896.8 1455.7,901.7 1455.4,906.7 1455.2,911.6 1455.1,916.6 1455,921.5 1454.9,926.4 1454.9,931.4 1454.9,936.3 1455,941.2 1455.2,946.2 1455.5,951.1 1456.1,956.1 1457.2,961 1459.1,965.9 1462.5,970.9 1468.9,975.8 1486.6,980.8 1505.3,982.7 1510.6,985.7 1518.2,990.6 1523.9,995.6 1528.1,1000.5 1531.4,1005.5 1534.4,1010.4 1537.1,1015.3 1539.9,1020.3 1542.7,1025.2 1545.7,1030.2 1548.8,1035.1 1552.1,1040 1555.6,1045 1559,1049.9 1562.4,1054.9 1563.7,1056.8 1565.4,1059.8 1568.4,1064.7 1571.6,1069.7 1574.7,1074.6 1577.8,1079.6 1580.6,1084.5 1583.6,1089.4 1586.8,1094.4 1590.6,1099.3 1594.9,1104.3 1599.7,1109.2 1605.4,1114.1 1612.1,1119.1 1620.2,1124 1622,1125 1623,1124 1628.1,1119.1 1632.7,1114.1 1636.9,1109.2 1640.6,1104.3 1644,1099.3 1647.1,1094.4 1649.8,1089.4 1652.2,1084.5 1654.5,1079.6 1656.8,1074.6 1659,1069.7 1661.3,1064.7 1663.6,1059.8 1665.9,1054.9 1668.1,1049.9 1670.4,1045 1672.7,1040 1675.1,1035.1 1677.4,1030.2 1679.7,1025.2 1680.3,1023.8 1681.2,1025.2 1684.3,1030.2 1687.2,1035.1 1689.9,1040 1692.2,1045 1694.2,1049.9 1696.1,1054.9 1697.8,1059.8 1699.3,1064.7 1700.7,1069.7 1701.9,1074.6 1702.9,1079.6 1703.9,1084.5 1704.8,1089.4 1705.7,1094.4 1706.5,1099.3 1707.3,1104.3 1708,1109.2 1708.7,1114.1 1709.4,1119.1 1710.1,1124 1710.7,1129 1711.3,1133.9 1738.6,1133.9 1796.9,1133.9 1855.2,1133.9 1884.4,1133.9 1884.4,1129 1884.4,1124 1884.4,1119.1 1884.4,1114.1 1884.4,1109.2 1884.4,1104.3 1884.4,1099.3 1884.4,1094.4 1884.4,1089.4 1884.4,1084.5 1884.4,1079.6 1884.4,1074.6 1884.4,1069.7 1884.4,1064.7 1884.4,1059.8 1884.4,1054.9 1884.4,1049.9 1884.4,1045 1884.4,1040 1884.4,1035.1 1884.4,1030.2 1884.4,1025.2 1884.4,1020.3 1884.4,1015.3 1884.4,1010.4 1884.4,1005.5 1884.4,1000.5 1884.4,995.6 1884.4,990.6 1884.4,985.7 1884.4,980.8 1884.4,975.8 1884.4,970.9 1884.4,965.9 1884.4,961 1884.4,956.1 1884.4,951.1 1884.4,946.2 1884.4,941.2 1884.4,936.3 1884.4,931.4 1884.4,926.4 1884.4,921.5 1884.4,916.6 1884.4,911.6 1884.4,906.7 1884.4,901.7 1884.4,896.8 1884.4,891.9 1884.4,886.9 1884.4,882 1884.4,877 1884.4,872.1 1884.4,867.2 1884.4,862.2 1884.4,857.3 1884.4,852.3 1884.4,847.4 1884.4,842.5 1884.4,837.5 1884.4,832.6 1884.4,827.6 1884.4,822.7 1884.4,817.8 1884.4,812.8 1884.4,807.9 1884.4,802.9 1884.4,798 1884.4,793.1 1884.4,788.1 1884.4,783.2 1884.4,778.2 1884.4,773.3 1884.4,768.4 1884.4,763.4 1884.4,758.5 1884.4,753.5 1884.4,748.6 1884.4,743.7 1884.4,738.7 1884.4,733.8 1884.4,728.8 1884.4,723.9 1884.4,719 1884.4,714 1884.4,709.1 1884.4,704.1 1884.4,699.2 1855.2,699.2 1796.9,699.2 1738.6,699.2 1680.3,699.2 1622,699.2 1563.7,699.2 1505.3,699.2 1447,699.2 1388.7,699.2 1330.4,699.2 1272.1,699.2 1213.8,699.2 1184.6,699.2 1184.6,704.1 1184.6,709.1 1184.6,714 1184.6,719 1184.6,723.9 1184.6,728.8 1184.6,733.8 1184.6,738.7 1184.6,743.7 1184.6,748.6 1184.6,753.5 1184.6,758.5 1184.6,763.4 1184.6,768.4 1184.6,773.3 1184.6,778.2 1184.6,783.2 1184.6,788.1 1184.6,793.1 1184.6,798 1184.6,802.9 1184.6,807.9 1184.6,812.8 1184.6,817.8 1184.6,822.7 1184.6,827.6 1184.6,832.6 1184.6,837.5 1184.6,842.5 1184.6,847.4 1184.6,852.3 1184.6,857.3 1184.6,862.2 1184.6,867.2 1184.6,872.1 1184.6,877 1184.6,882 1184.6,886.9 1184.6,891.9 1184.6,896.8 1184.6,901.7 1184.6,906.7 1184.6,911.6 1184.6,916.6 1184.6,921.5 1184.6,926.4 1184.6,931.4 1184.6,936.3 1184.6,941.2 1184.6,946.2 1184.6,951.1 1184.6,956.1 1184.6,961 1184.6,965.9 1184.6,970.9 1184.6,975.8 1184.6,980.8 1184.6,985.7 1184.6,990.6 1184.6,995.6 1184.6,1000.5 1184.6,1005.5 1184.6,1010.4 1184.6,1015.3 1184.6,1020.3 1184.6,1025.2 1184.6,1030.2 1184.6,1035.1 1184.6,1040 1184.6,1045 1184.6,1049.9 1184.6,1054.9 1184.6,1059.8 1184.6,1064.7 1184.6,1069.7 1184.6,1074.6 1184.6,1079.6 1184.6,1084.5 1184.6,1089.4 1184.6,1094.4 1184.6,1099.3 1184.6,1104.3 1184.6,1109.2 1184.6,1114.1 1184.6,1119.1 1184.6,1124 1184.6,1129 1184.6,1133.9Z" fill="#deebf2"/>
<path d="M1184.6,1133.9 1213.8,1133.9 1272.1,1133.9 1313.2,1133.9 1314.6,1129 1315.9,1124 1317.1,1119.1 1318.2,1114.1 1319.3,1109.2 1320.3,1104.3 1321.3,1099.3 1322.3,1094.4 1323.2,1089.4 1324.2,1084.5 1325.1,1079.6 1326.1,1074.6 1327.2,1069.7 1328.3,1064.7 1329.4,1059.8 1330.4,1056.1 1333.5,1054.9 1348.2,1049.9 1363.6,1045 1376.8,1040 1386,1035.1 1388.7,1032.5 1389.4,1030.2 1390.7,1025.2 1392,1020.3 1393.1,1015.3 1394.1,1010.4 1395,1005.5 1395.6,1000.5 1396,995.6 1396.1,990.6 1396.2,985.7 1396.1,980.8 1396,975.8 1395.7,970.9 1395.4,965.9 1395,961 1394.6,956.1 1394.1,951.1 1393.6,946.2 1392.9,941.2 1392.1,936.3 1391.1,931.4 1390.1,926.4 1389,921.5 1388.7,920.7 1386.7,916.6 1383.5,911.6 1380.4,906.7 1377.8,901.7 1376,896.8 1374.9,891.9 1373.9,886.9 1373.1,882 1372.5,877 1372,872.1 1371.6,867.2 1371.3,862.2 1371,857.3 1370.7,852.3 1370.5,847.4 1370.3,842.5 1370,837.5 1369.8,832.6 1369.5,827.6 1369.1,822.7 1368.6,817.8 1367.9,812.8 1367,807.9 1366,802.9 1364.9,798 1363.9,793.1 1362.9,788.1 1361.9,783.2 1361.2,778.2 1360.6,773.3 1360.1,768.4 1359.8,763.4 1359.8,758.5 1360.2,753.5 1361,748.6 1362.2,743.7 1363.5,738.7 1365.8,733.8 1369.7,728.8 1375,723.9 1381.7,719 1388.7,714.2 1447,714.2 1449.9,719 1452.7,723.9 1455.1,728.8 1457.5,733.8 1459.9,738.7 1462.1,743.7 1463.6,748.6 1464.6,753.5 1465.5,758.5 1466.3,763.4 1467,768.4 1467.7,773.3 1468.4,778.2 1469.1,783.2 1469.9,788.1 1470.9,793.1 1472,798 1472.9,802.9 1473.4,807.9 1473.7,812.8 1473.8,817.8 1473.9,822.7 1473.9,827.6 1473.9,832.6 1473.8,837.5 1473.6,842.5 1473.5,847.4 1473.3,852.3 1473.1,857.3 1473,862.2 1472.7,867.2 1472.4,872.1 1472,877 1471.7,882 1471.3,886.9 1471.1,891.9 1470.9,896.8 1471,901.7 1471.1,906.7 1471.4,911.6 1471.8,916.6 1472.3,921.5 1473,926.4 1473.8,931.4 1474.7,936.3 1475.9,941.2 1477.6,946.2 1479.9,951.1 1483.4,956.1 1489.1,961 1498.2,965.9 1505.3,968.6 1510.7,970.9 1519.2,975.8 1526.3,980.8 1533.3,985.7 1539.6,990.6 1544.3,995.6 1547.7,1000.5 1550.5,1005.5 1553.1,1010.4 1555.5,1015.3 1558,1020.3 1560.5,1025.2 1563.1,1030.2 1563.7,1031.1 1565.6,1035.1 1568.3,1040 1571.3,1045 1574.4,1049.9 1577.5,1054.9 1580.6,1059.8 1583.9,1064.7 1587.4,1069.7 1590.8,1074.6 1594.2,1079.6 1597.6,1084.5 1601.2,1089.4 1605.3,1094.4 1610.2,1099.3 1616,1104.3 1622,1108.8 1626.1,1104.3 1630.2,1099.3 1633.8,1094.4 1637,1089.4 1639.8,1084.5 1642.4,1079.6 1644.9,1074.6 1647.4,1069.7 1649.9,1064.7 1652.4,1059.8 1654.8,1054.9 1657.2,1049.9 1659.5,1045 1661.9,1040 1664.3,1035.1 1666.7,1030.2 1669,1025.2 1671.1,1020.3 1673.2,1015.3 1675.2,1010.4 1677.2,1005.5 1679,1000.5 1680.3,996.9 1682.8,1000.5 1686,1005.5 1689,1010.4 1691.8,1015.3 1694.4,1020.3 1696.9,1025.2 1699.2,1030.2 1701.4,1035.1 1703.5,1040 1705.3,1045 1706.8,1049.9 1708.2,1054.9 1709.5,1059.8 1710.7,1064.7 1711.8,1069.7 1712.7,1074.6 1713.6,1079.6 1714.4,1084.5 1715.1,1089.4 1715.8,1094.4 1716.5,1099.3 1717.2,1104.3 1717.8,1109.2 1718.4,1114.1 1719,1119.1 1719.6,1124 1720.2,1129 1720.7,1133.9 1738.6,1133.9 1796.9,1133.9 1855.2,1133.9 1884.4,1133.9 1884.4,1129 1884.4,1124 1884.4,1119.1 1884.4,1114.1 1884.4,1109.2 1884.4,1104.3 1884.4,1099.3 1884.4,1094.4 1884.4,1089.4 1884.4,1084.5 1884.4,1079.6 1884.4,1074.6 1884.4,1069.7 1884.4,1064.7 1884.4,1059.8 1884.4,1054.9 1884.4,1049.9 1884.4,1045 1884.4,1040 1884.4,1035.1 1884.4,1030.2 1884.4,1025.2 1884.4,1020.3 1884.4,1015.3 1884.4,1010.4 1884.4,1005.5 1884.4,1000.5 1884.4,995.6 1884.4,990.6 1884.4,985.7 1884.4,980.8 1884.4,975.8 1884.4,970.9 1884.4,965.9 1884.4,961 1884.4,956.1 1884.4,951.1 1884.4,946.2 1884.4,941.2 1884.4,936.3 1884.4,931.4 1884.4,926.4 1884.4,921.5 1884.4,916.6 1884.4,911.6 1884.4,906.7 1884.4,901.7 1884.4,896.8 1884.4,891.9 1884.4,886.9 1884.4,882 1884.4,877 1884.4,872.1 1884.4,867.2 1884.4,862.2 1884.4,857.3 1884.4,852.3 1884.4,847.4 1884.4,842.5 1884.4,837.5 1884.4,832.6 1884.4,827.6 1884.4,822.7 1884.4,817.8 1884.4,812.8 1884.4,807.9 1884.4,802.9 1884.4,798 1884.4,793.1 1884.4,788.1 1884.4,783.2 1884.4,778.2 1884.4,773.3 1884.4,768.4 1884.4,763.4 1884.4,758.5 1884.4,753.5 1884.4,748.6 1884.4,743.7 1884.4,738.7 1884.4,733.8 1884.4,728.8 1884.4,723.9 1884.4,719 1884.4,714 1884.4,709.1 1884.4,704.1 1884.4,699.2 1855.2,699.2 1796.9,699.2 1738.6,699.2 1680.3,699.2 1622,699.2 1563.7,699.2 1505.3,699.2 1447,699.2 1388.7,699.2 1330.4,699.2 1272.1,699.2 1213.8,699.2 1184.6,699.2 1184.6,704.1 1184.6,709.1 1184.6,714 1184.6,719 1184.6,723.9 1184.6,728.8 1184.6,733.8 1184.6,738.7 1184.6,743.7 1184.6,748.6 1184.6,753.5 1184.6,758.5 1184.6,763.4 1184.6,768.4 1184.6,773.3 1184.6,778.2 1184.6,783.2 1184.6,788.1 1184.6,793.1 1184.6,798 1184.6,802.9 1184.6,807.9 1184.6,812.8 1184.6,817.8 1184.6,822.7 1184.6,827.6 1184.6,832.6 1184.6,837.5 1184.6,842.5 1184.6,847.4 1184.6,852.3 1184.6,857.3 1184.6,862.2 1184.6,867.2 1184.6,872.1 1184.6,877 1184.6,882 1184.6,886.9 1184.6,891.9 1184.6,896.8 1184.6,901.7 1184.6,906.7 1184.6,911.6 1184.6,916.6 1184.6,921.5 1184.6,926.4 1184.6,931.4 1184.6,936.3 1184.6,941.2 1184.6,946.2 1184.6,951.1 1184.6,956.1 1184.6,961 1184.6,965.9 1184.6,970.9 1184.6,975.8 1184.6,980.8 1184.6,985.7 1184.6,990.6 1184.6,995.6 1184.6,1000.5 1184.6,1005.5 1184.6,1010.4 1184.6,1015.3 1184.6,1020.3 1184.6,1025.2 1184.6,1030.2 1184.6,1035.1 1184.6,1040 1184.6,1045 1184.6,1049.9 1184.6,1054.9 1184.6,1059.8 1184.6,1064.7 1184.6,1069.7 1184.6,1074.6 1184.6,1079.6 1184.6,1084.5 1184.6,1089.4 1184.6,1094.4 1184.6,1099.3 1184.6,1104.3 1184.6,1109.2 1184.6,1114.1 1184.6,1119.1 1184.6,1124 1184.6,1129 1184.6,1133.9ZM1563.7,821.4 1563.3,817.8 1562.9,812.8 1562.7,807.9 1562.8,802.9 1563.1,798 1563.5,793.1 1563.7,791.3 1563.8,793.1 1563.9,798 1564,802.9 1564,807.9 1564,812.8 1563.8,817.8 1563.7,821.4Z" fill="#eaf1f5"/>
<path d="M1184.6,1133.9 1213.8,1133.9 1272.1,1133.9 1294.1,1133.9 1296.1,1129 1298,1124 1299.6,1119.1 1301.2,1114.1 1302.6,1109.2 1303.9,1104.3 1305,1099.3 1306.1,1094.4 1307.1,1089.4 1308,1084.5 1309,1079.6 1309.9,1074.6 1310.8,1069.7 1311.8,1064.7 1312.8,1059.8 1314,1054.9 1315.3,1049.9 1317,1045 1318.9,1040 1320.9,1035.1 1322.8,1030.2 1324.6,1025.2 1325.9,1020.3 1326.5,1015.3 1326.8,1010.4 1327,1005.5 1327.2,1000.5 1327.4,995.6 1327.5,990.6 1327.6,985.7 1327.7,980.8 1327.7,975.8 1327.7,970.9 1327.7,965.9 1327.7,961 1327.8,956.1 1327.8,951.1 1327.8,946.2 1327.8,941.2 1327.8,936.3 1327.8,931.4 1327.8,926.4 1327.9,921.5 1328,916.6 1328.1,911.6 1328.2,906.7 1328.4,901.7 1328.5,896.8 1328.7,891.9 1329,886.9 1329.4,882 1329.8,877 1330.3,872.1 1330.4,870.8 1330.9,867.2 1331.4,862.2 1331.6,857.3 1331.5,852.3 1331.3,847.4 1331.1,842.5 1330.8,837.5 1330.5,832.6 1330.4,831.8 1330.1,827.6 1329.6,822.7 1329,817.8 1328.2,812.8 1327.5,807.9 1326.8,802.9 1326.2,798 1325.5,793.1 1324.8,788.1 1324.1,783.2 1323.4,778.2 1322.9,773.3 1322.7,768.4 1322.7,763.4 1323,758.5 1323.5,753.5 1324.3,748.6 1325.2,743.7 1326.3,738.7 1327.6,733.8 1329,728.8 1330.4,724.5 1330.8,723.9 1336,719 1343.1,714 1351.4,709.1 1360.8,704.1 1370.8,699.2 1330.4,699.2 1272.1,699.2 1213.8,699.2 1184.6,699.2 1184.6,704.1 1184.6,709.1 1184.6,714 1184.6,719 1184.6,723.9 1184.6,728.8 1184.6,733.8 1184.6,738.7 1184.6,743.7 1184.6,748.6 1184.6,753.5 1184.6,758.5 1184.6,763.4 1184.6,768.4 1184.6,773.3 1184.6,778.2 1184.6,783.2 1184.6,788.1 1184.6,793.1 1184.6,798 1184.6,802.9 1184.6,807.9 1184.6,812.8 1184.6,817.8 1184.6,822.7 1184.6,827.6 1184.6,832.6 1184.6,837.5 1184.6,842.5 1184.6,847.4 1184.6,852.3 1184.6,857.3 1184.6,862.2 1184.6,867.2 1184.6,872.1 1184.6,877 1184.6,882 1184.6,886.9 1184.6,891.9 1184.6,896.8 1184.6,901.7 1184.6,906.7 1184.6,911.6 1184.6,916.6 1184.6,921.5 1184.6,926.4 1184.6,931.4 1184.6,936.3 1184.6,941.2 1184.6,946.2 1184.6,951.1 1184.6,956.1 1184.6,961 1184.6,965.9 1184.6,970.9 1184.6,975.8 1184.6,980.8 1184.6,985.7 1184.6,990.6 1184.6,995.6 1184.6,1000.5 1184.6,1005.5 1184.6,1010.4 1184.6,1015.3 1184.6,1020.3 1184.6,1025.2 1184.6,1030.2 1184.6,1035.1 1184.6,1040 1184.6,1045 1184.6,1049.9 1184.6,1054.9 1184.6,1059.8 1184.6,1064.7 1184.6,1069.7 1184.6,1074.6 1184.6,1079.6 1184.6,1084.5 1184.6,1089.4 1184.6,1094.4 1184.6,1099.3 1184.6,1104.3 1184.6,1109.2 1184.6,1114.1 1184.6,1119.1 1184.6,1124 1184.6,1129 1184.6,1133.9ZM1730.1,1133.9 1738.6,1133.9 1796.9,1133.9 1855.2,1133.9 1884.4,1133.9 1884.4,1129 1884.4,1124 1884.4,1119.1 1884.4,1114.1 1884.4,1109.2 1884.4,1104.3 1884.4,1099.3 1884.4,1094.4 1884.4,1089.4 1884.4,1084.5 1884.4,1079.6 1884.4,1074.6 1884.4,1069.7 1884.4,1064.7 1884.4,1059.8 1884.4,1054.9 1884.4,1049.9 1884.4,1045 1884.4,1040 1884.4,1035.1 1884.4,1030.2 1884.4,1025.2 1884.4,1020.3 1884.4,1015.3 1884.4,1010.4 1884.4,1005.5 1884.4,1000.5 1884.4,995.6 1884.4,990.6 1884.4,985.7 1884.4,980.8 1884.4,975.8 1884.4,970.9 1884.4,965.9 1884.4,961 1884.4,956.1 1884.4,951.1 1884.4,946.2 1884.4,941.2 1884.4,936.3 1884.4,931.4 1884.4,926.4 1884.4,921.5 1884.4,916.6 1884.4,911.6 1884.4,906.7 1884.4,901.7 1884.4,896.8 1884.4,891.9 1884.4,886.9 1884.4,882 1884.4,877 1884.4,872.1 1884.4,867.2 1884.4,862.2 1884.4,857.3 1884.4,852.3 1884.4,847.4 1884.4,842.5 1884.4,837.5 1884.4,832.6 1884.4,827.6 1884.4,822.7 1884.4,817.8 1884.4,812.8 1884.4,807.9 1884.4,802.9 1884.4,798 1884.4,793.1 1884.4,788.1 1884.4,783.2 1884.4,778.2 1884.4,773.3 1884.4,768.4 1884.4,763.4 1884.4,758.5 1884.4,753.5 1884.4,748.6 1884.4,743.7 1884.4,738.7 1884.4,733.8 1884.4,728.8 1884.4,723.9 1884.4,719 1884.4,714 1884.4,709.1 1884.4,704.1 1884.4,699.2 1855.2,699.2 1796.9,699.2 1738.6,699.2 1680.3,699.2 1622,699.2 1563.7,699.2 1505.3,699.2 1447,699.2 1435.4,699.2 1447,701.7 1447.9,704.1 1451.7,709.1 1455.4,714 1458.2,719 1460.8,723.9 1463.2,728.8 1465.5,733.8 1468,738.7 1470.2,743.7 1471.8,748.6 1473,753.5 1473.9,758.5 1474.8,763.4 1475.6,768.4 1476.4,773.3 1477.2,778.2 1478.1,783.2 1479.2,788.1 1480.5,793.1 1481.9,798 1483.2,802.9 1484.1,807.9 1484.5,812.8 1484.9,817.8 1485.2,822.7 1485.4,827.6 1485.6,832.6 1485.7,837.5 1485.8,842.5 1485.9,847.4 1486,852.3 1486,857.3 1486.1,862.2 1486.1,867.2 1486,872.1 1485.9,877 1485.8,882 1485.7,886.9 1485.8,891.9 1485.9,896.8 1486.2,901.7 1486.8,906.7 1487.5,911.6 1488.5,916.6 1489.6,921.5 1491,926.4 1492.6,931.4 1494.5,936.3 1496.8,941.2 1500,946.2 1504.3,951.1 1505.3,952 1520.1,956.1 1531.9,961 1539.1,965.9 1543.8,970.9 1547,975.8 1550.9,980.8 1556.1,985.7 1561.1,990.6 1563.7,994.2 1564.2,995.6 1566,1000.5 1567.7,1005.5 1569.3,1010.4 1571.1,1015.3 1572.9,1020.3 1575,1025.2 1577.3,1030.2 1579.9,1035.1 1582.9,1040 1586,1045 1589.2,1049.9 1592.5,1054.9 1595.9,1059.8 1599.4,1064.7 1603.1,1069.7 1606.9,1074.6 1610.7,1079.6 1614.6,1084.5 1618.9,1089.4 1622,1092.6 1624.2,1089.4 1627.4,1084.5 1630.3,1079.6 1633.1,1074.6 1635.8,1069.7 1638.5,1064.7 1641.1,1059.8 1643.7,1054.9 1646.2,1049.9 1648.6,1045 1651.1,1040 1653.6,1035.1 1656,1030.2 1658.3,1025.2 1660.5,1020.3 1662.6,1015.3 1664.7,1010.4 1666.6,1005.5 1668.5,1000.5 1670.3,995.6 1671.9,990.6 1673.5,985.7 1675.1,980.8 1676.6,975.8 1678.1,970.9 1679.6,965.9 1680.3,963.8 1682.3,965.9 1686.5,970.9 1690,975.8 1693.1,980.8 1695.9,985.7 1698.5,990.6 1700.9,995.6 1703.1,1000.5 1705.3,1005.5 1707.3,1010.4 1709.2,1015.3 1710.9,1020.3 1712.6,1025.2 1714.2,1030.2 1715.7,1035.1 1717.1,1040 1718.3,1045 1719.4,1049.9 1720.4,1054.9 1721.3,1059.8 1722.1,1064.7 1722.9,1069.7 1723.6,1074.6 1724.2,1079.6 1724.8,1084.5 1725.4,1089.4 1726,1094.4 1726.5,1099.3 1727,1104.3 1727.6,1109.2 1728.1,1114.1 1728.6,1119.1 1729.1,1124 1729.6,1129 1730.1,1133.9ZM1563.7,916.8 1563.2,916.6 1559.1,911.6 1556.4,906.7 1554.4,901.7 1552.7,896.8 1551.3,891.9 1550,886.9 1548.9,882 1547.9,877 1547,872.1 1546.3,867.2 1545.6,862.2 1545.1,857.3 1544.6,852.3 1544.2,847.4 1543.7,842.5 1543.3,837.5 1543.1,832.6 1542.9,827.6 1542.8,822.7 1542.9,817.8 1543.2,812.8 1543.6,807.9 1544.5,802.9 1545.8,798 1547.3,793.1 1548.7,788.1 1549.8,783.2 1550.8,778.2 1551.9,773.3 1553.3,768.4 1555.1,763.4 1557.2,758.5 1559.5,753.5 1562.1,748.6 1563.7,745.7 1564.8,748.6 1566.5,753.5 1568,758.5 1569.3,763.4 1570.3,768.4 1571.1,773.3 1571.5,778.2 1571.7,783.2 1571.9,788.1 1572,793.1 1572,798 1572,802.9 1571.9,807.9 1571.7,812.8 1571.5,817.8 1571.1,822.7 1570.8,827.6 1570.4,832.6 1570.1,837.5 1569.8,842.5 1569.5,847.4 1569.2,852.3 1568.9,857.3 1568.6,862.2 1568.3,867.2 1568,872.1 1567.7,877 1567.3,882 1566.9,886.9 1566.5,891.9 1566.1,896.8 1565.6,901.7 1565.1,906.7 1564.5,911.6 1563.7,916.6 1563.7,916.8Z" fill="#f9eee7"/>
<path d="M1184.6,1133.9 1213.8,1133.9 1272.1,1133.9 1274.9,1133.9 1277.6,1129 1280,1124 1282.2,1119.1 1284.1,1114.1 1285.9,1109.2 1287.4,1104.3 1288.7,1099.3 1289.9,1094.4 1290.9,1089.4 1291.9,1084.5 1292.8,1079.6 1293.6,1074.6 1294.5,1069.7 1295.4,1064.7 1296.3,1059.8 1297.2,1054.9 1298.3,1049.9 1299.6,1045 1301,1040 1302.5,1035.1 1304,1030.2 1305.3,1025.2 1306.4,1020.3 1307.1,1015.3 1307.5,1010.4 1307.9,1005.5 1308.3,1000.5 1308.7,995.6 1309.1,990.6 1309.4,985.7 1309.6,980.8 1309.8,975.8 1309.9,970.9 1310,965.9 1310.1,961 1310.2,956.1 1310.3,951.1 1310.3,946.2 1310.4,941.2 1310.4,936.3 1310.4,931.4 1310.3,926.4 1310.3,921.5 1310.2,916.6 1310.1,911.6 1310,906.7 1309.8,901.7 1309.7,896.8 1309.5,891.9 1309,886.9 1308.5,882 1307.7,877 1306.9,872.1 1306,867.2 1305.1,862.2 1304.3,857.3 1303.6,852.3 1302.9,847.4 1302.1,842.5 1301.3,837.5 1300.6,832.6 1300,827.6 1299.4,822.7 1299,817.8 1298.7,812.8 1298.4,807.9 1298.2,802.9 1298.1,798 1298,793.1 1297.9,788.1 1297.8,783.2 1297.7,778.2 1298.1,773.3 1299,768.4 1300.3,763.4 1301.8,758.5 1303.3,753.5 1304.7,748.6 1306,743.7 1307.2,738.7 1308.2,733.8 1309.4,728.8 1310.6,723.9 1312.3,719 1314.7,714 1318,709.1 1322.2,704.1 1327.6,699.2 1272.1,699.2 1213.8,699.2 1184.6,699.2 1184.6,704.1 1184.6,709.1 1184.6,714 1184.6,719 1184.6,723.9 1184.6,728.8 1184.6,733.8 1184.6,738.7 1184.6,743.7 1184.6,748.6 1184.6,753.5 1184.6,758.5 1184.6,763.4 1184.6,768.4 1184.6,773.3 1184.6,778.2 1184.6,783.2 1184.6,788.1 1184.6,793.1 1184.6,798 1184.6,802.9 1184.6,807.9 1184.6,812.8 1184.6,817.8 1184.6,822.7 1184.6,827.6 1184.6,832.6 1184.6,837.5 1184.6,842.5 1184.6,847.4 1184.6,852.3 1184.6,857.3 1184.6,862.2 1184.6,867.2 1184.6,872.1 1184.6,877 1184.6,882 1184.6,886.9 1184.6,891.9 1184.6,896.8 1184.6,901.7 1184.6,906.7 1184.6,911.6 1184.6,916.6 1184.6,921.5 1184.6,926.4 1184.6,931.4 1184.6,936.3 1184.6,941.2 1184.6,946.2 1184.6,951.1 1184.6,956.1 1184.6,961 1184.6,965.9 1184.6,970.9 1184.6,975.8 1184.6,980.8 1184.6,985.7 1184.6,990.6 1184.6,995.6 1184.6,1000.5 1184.6,1005.5 1184.6,1010.4 1184.6,1015.3 1184.6,1020.3 1184.6,1025.2 1184.6,1030.2 1184.6,1035.1 1184.6,1040 1184.6,1045 1184.6,1049.9 1184.6,1054.9 1184.6,1059.8 1184.6,1064.7 1184.6,1069.7 1184.6,1074.6 1184.6,1079.6 1184.6,1084.5 1184.6,1089.4 1184.6,1094.4 1184.6,1099.3 1184.6,1104.3 1184.6,1109.2 1184.6,1114.1 1184.6,1119.1 1184.6,1124 1184.6,1129 1184.6,1133.9ZM1741.8,1133.9 1796.9,1133.9 1855.2,1133.9 1884.4,1133.9 1884.4,1129 1884.4,1124 1884.4,1119.1 1884.4,1114.1 1884.4,1109.2 1884.4,1104.3 1884.4,1099.3 1884.4,1094.4 1884.4,1089.4 1884.4,1084.5 1884.4,1079.6 1884.4,1074.6 1884.4,1069.7 1884.4,1064.7 1884.4,1059.8 1884.4,1054.9 1884.4,1049.9 1884.4,1045 1884.4,1040 1884.4,1035.1 1884.4,1030.2 1884.4,1025.2 1884.4,1020.3 1884.4,1015.3 1884.4,1010.4 1884.4,1005.5 1884.4,1000.5 1884.4,995.6 1884.4,990.6 1884.4,985.7 1884.4,980.8 1884.4,975.8 1884.4,970.9 1884.4,965.9 1884.4,961 1884.4,956.1 1884.4,951.1 1884.4,946.2 1884.4,941.2 1884.4,936.3 1884.4,931.4 1884.4,926.4 1884.4,921.5 1884.4,916.6 1884.4,911.6 1884.4,906.7 1884.4,901.7 1884.4,896.8 1884.4,891.9 1884.4,886.9 1884.4,882 1884.4,877 1884.4,872.1 1884.4,867.2 1884.4,862.2 1884.4,857.3 1884.4,852.3 1884.4,847.4 1884.4,842.5 1884.4,837.5 1884.4,832.6 1884.4,827.6 1884.4,822.7 1884.4,817.8 1884.4,812.8 1884.4,807.9 1884.4,802.9 1884.4,798 1884.4,793.1 1884.4,788.1 1884.4,783.2 1884.4,778.2 1884.4,773.3 1884.4,768.4 1884.4,763.4 1884.4,758.5 1884.4,753.5 1884.4,748.6 1884.4,743.7 1884.4,738.7 1884.4,733.8 1884.4,728.8 1884.4,723.9 1884.4,719 1884.4,714 1884.4,709.1 1884.4,704.1 1884.4,699.2 1855.2,699.2 1796.9,699.2 1738.6,699.2 1680.3,699.2 1622,699.2 1563.7,699.2 1505.3,699.2 1455.4,699.2 1457.1,704.1 1460.5,709.1 1463.9,714 1466.5,719 1469,723.9 1471.3,728.8 1473.6,733.8 1476,738.7 1478.3,743.7 1480.1,748.6 1481.3,753.5 1482.4,758.5 1483.4,763.4 1484.3,768.4 1485.1,773.3 1486.1,778.2 1487.1,783.2 1488.4,788.1 1490.1,793.1 1491.9,798 1493.6,802.9 1494.7,807.9 1495.4,812.8 1496,817.8 1496.5,822.7 1496.9,827.6 1497.3,832.6 1497.7,837.5 1498,842.5 1498.3,847.4 1498.6,852.3 1498.9,857.3 1499.2,862.2 1499.4,867.2 1499.6,872.1 1499.7,877 1499.9,882 1500.1,886.9 1500.4,891.9 1500.9,896.8 1501.5,901.7 1502.4,906.7 1503.6,911.6 1505.1,916.6 1505.3,917.1 1506,916.6 1510.5,911.6 1513.3,906.7 1515.2,901.7 1516.3,896.8 1516.9,891.9 1517.3,886.9 1517.5,882 1517.6,877 1517.8,872.1 1518,867.2 1518.2,862.2 1518.6,857.3 1519,852.3 1519.4,847.4 1519.8,842.5 1520.2,837.5 1520.6,832.6 1521.2,827.6 1521.8,822.7 1522.6,817.8 1523.5,812.8 1524.5,807.9 1526.2,802.9 1528.6,798 1531.1,793.1 1533.4,788.1 1535.1,783.2 1536.5,778.2 1537.9,773.3 1539.4,768.4 1541.2,763.4 1543.2,758.5 1545.5,753.5 1548.1,748.6 1551.1,743.7 1554.5,738.7 1558.4,733.8 1562.7,728.8 1563.7,728 1564.4,728.8 1567.7,733.8 1570.6,738.7 1572.8,743.7 1574.5,748.6 1576.1,753.5 1577.4,758.5 1578.6,763.4 1579.4,768.4 1579.9,773.3 1580.1,778.2 1580.2,783.2 1580.2,788.1 1580.2,793.1 1580.1,798 1580,802.9 1579.8,807.9 1579.5,812.8 1579.1,817.8 1578.7,822.7 1578.2,827.6 1577.8,832.6 1577.5,837.5 1577.2,842.5 1576.9,847.4 1576.6,852.3 1576.3,857.3 1576.1,862.2 1575.9,867.2 1575.6,872.1 1575.4,877 1575.1,882 1574.8,886.9 1574.5,891.9 1574.2,896.8 1573.8,901.7 1573.4,906.7 1572.9,911.6 1572.4,916.5 1571.5,921.5 1570.3,926.4 1569.1,931.4 1568.5,936.3 1568.4,941.2 1568.3,946.2 1568.2,951.1 1568.2,956.1 1568.2,961 1568.3,965.9 1568.4,970.9 1568.6,975.8 1569.7,980.8 1572.1,985.7 1574.7,990.6 1576.8,995.6 1578.7,1000.5 1580.5,1005.5 1582.4,1010.4 1584.3,1015.3 1586.5,1020.3 1588.8,1025.2 1591.4,1030.2 1594.3,1035.1 1597.4,1040 1600.6,1045 1604.1,1049.9 1607.6,1054.9 1611.2,1059.8 1615,1064.7 1618.9,1069.7 1622,1073.4 1624.2,1069.7 1627.1,1064.7 1629.9,1059.8 1632.6,1054.9 1635.2,1049.9 1637.8,1045 1640.3,1040 1642.8,1035.1 1645.2,1030.2 1647.6,1025.2 1649.9,1020.3 1652,1015.3 1654.1,1010.4 1656.1,1005.5 1658,1000.5 1659.8,995.6 1661.5,990.6 1663.1,985.7 1664.7,980.8 1666.3,975.8 1667.9,970.9 1669.5,965.9 1671.1,961 1672.6,956.1 1674.2,951.1 1675.7,946.2 1677.4,941.2 1679.1,936.3 1680.3,933.2 1686.3,936.3 1693.4,941.2 1698.7,946.2 1703.1,951.1 1706.7,956.1 1710,961 1712.8,965.9 1715.1,970.9 1717,975.8 1718.6,980.8 1720,985.7 1721.3,990.6 1722.4,995.6 1723.5,1000.5 1724.6,1005.5 1725.5,1010.4 1726.5,1015.3 1727.4,1020.3 1728.2,1025.2 1729.1,1030.2 1729.9,1035.1 1730.7,1040 1731.3,1045 1732,1049.9 1732.5,1054.9 1733.1,1059.8 1733.6,1064.7 1734,1069.7 1734.4,1074.6 1734.9,1079.6 1735.3,1084.5 1735.7,1089.4 1736.1,1094.4 1736.5,1099.3 1736.9,1104.3 1737.3,1109.2 1737.7,1114.1 1738.2,1119.1 1738.6,1124 1740.1,1129 1741.8,1133.9Z" fill="#fbe4d7"/>
<path d="M1184.6,1133.9 1213.8,1133.9 1256.3,1133.9 1258.6,1129 1261,1124 1263.4,1119.1 1265.9,1114.1 1268.3,1109.2 1270.5,1104.3 1272.1,1100.5 1272.4,1099.3 1273.7,1094.4 1274.8,1089.4 1275.7,1084.5 1276.6,1079.6 1277.4,1074.6 1278.2,1069.7 1278.9,1064.7 1279.7,1059.8 1280.5,1054.9 1281.3,1049.9 1282.2,1045 1283.1,1040 1284.1,1035.1 1285.1,1030.2 1286.1,1025.2 1286.9,1020.3 1287.6,1015.3 1288.2,1010.4 1288.9,1005.5 1289.5,1000.5 1290.1,995.6 1290.7,990.6 1291.1,985.7 1291.5,980.8 1291.8,975.8 1292,970.9 1292.2,965.9 1292.4,961 1292.6,956.1 1292.8,951.1 1292.9,946.2 1292.9,941.2 1293,936.3 1292.9,931.4 1292.8,926.4 1292.6,921.5 1292.4,916.6 1292.1,911.6 1291.7,906.7 1291.3,901.7 1290.9,896.8 1290.2,891.9 1289.1,886.9 1287.5,882 1285.6,877 1283.5,872.1 1281.3,867.2 1279.1,862.2 1277.4,857.3 1276.1,852.3 1274.7,847.4 1273.3,842.5 1272.1,838 1272,837.5 1271.3,832.6 1270.7,827.6 1270.3,822.7 1270.2,817.8 1270.2,812.8 1270.3,807.9 1270.4,802.9 1270.6,798 1270.9,793.1 1271.2,788.1 1271.6,783.2 1272.1,778.2 1273.3,773.3 1275.4,768.4 1278,763.4 1280.6,758.5 1283,753.5 1285.2,748.6 1286.9,743.7 1288,738.7 1288.8,733.8 1289.7,728.8 1290.6,723.9 1291.7,719 1293.1,714 1294.9,709.1 1297.1,704.1 1299.8,699.2 1272.1,699.2 1213.8,699.2 1184.6,699.2 1184.6,704.1 1184.6,709.1 1184.6,714 1184.6,719 1184.6,723.9 1184.6,728.8 1184.6,733.8 1184.6,738.7 1184.6,743.7 1184.6,748.6 1184.6,753.5 1184.6,758.5 1184.6,763.4 1184.6,768.4 1184.6,773.3 1184.6,778.2 1184.6,783.2 1184.6,788.1 1184.6,793.1 1184.6,798 1184.6,802.9 1184.6,807.9 1184.6,812.8 1184.6,817.8 1184.6,822.7 1184.6,827.6 1184.6,832.6 1184.6,837.5 1184.6,842.5 1184.6,847.4 1184.6,852.3 1184.6,857.3 1184.6,862.2 1184.6,867.2 1184.6,872.1 1184.6,877 1184.6,882 1184.6,886.9 1184.6,891.9 1184.6,896.8 1184.6,901.7 1184.6,906.7 1184.6,911.6 1184.6,916.6 1184.6,921.5 1184.6,926.4 1184.6,931.4 1184.6,936.3 1184.6,941.2 1184.6,946.2 1184.6,951.1 1184.6,956.1 1184.6,961 1184.6,965.9 1184.6,970.9 1184.6,975.8 1184.6,980.8 1184.6,985.7 1184.6,990.6 1184.6,995.6 1184.6,1000.5 1184.6,1005.5 1184.6,1010.4 1184.6,1015.3 1184.6,1020.3 1184.6,1025.2 1184.6,1030.2 1184.6,1035.1 1184.6,1040 1184.6,1045 1184.6,1049.9 1184.6,1054.9 1184.6,1059.8 1184.6,1064.7 1184.6,1069.7 1184.6,1074.6 1184.6,1079.6 1184.6,1084.5 1184.6,1089.4 1184.6,1094.4 1184.6,1099.3 1184.6,1104.3 1184.6,1109.2 1184.6,1114.1 1184.6,1119.1 1184.6,1124 1184.6,1129 1184.6,1133.9ZM1774.2,1133.9 1796.9,1133.9 1855.2,1133.9 1884.4,1133.9 1884.4,1129 1884.4,1124 1884.4,1119.1 1884.4,1114.1 1884.4,1109.2 1884.4,1104.3 1884.4,1099.3 1884.4,1094.4 1884.4,1089.4 1884.4,1084.5 1884.4,1079.6 1884.4,1074.6 1884.4,1069.7 1884.4,1064.7 1884.4,1059.8 1884.4,1054.9 1884.4,1049.9 1884.4,1045 1884.4,1040 1884.4,1035.1 1884.4,1030.2 1884.4,1025.2 1884.4,1020.3 1884.4,1015.3 1884.4,1010.4 1884.4,1005.5 1884.4,1000.5 1884.4,995.6 1884.4,990.6 1884.4,985.7 1884.4,980.8 1884.4,975.8 1884.4,970.9 1884.4,965.9 1884.4,961 1884.4,956.1 1884.4,951.1 1884.4,946.2 1884.4,941.2 1884.4,936.3 1884.4,931.4 1884.4,926.4 1884.4,921.5 1884.4,916.6 1884.4,911.6 1884.4,906.7 1884.4,901.7 1884.4,896.8 1884.4,891.9 1884.4,886.9 1884.4,882 1884.4,877 1884.4,872.1 1884.4,867.2 1884.4,862.2 1884.4,857.3 1884.4,852.3 1884.4,847.4 1884.4,842.5 1884.4,837.5 1884.4,832.6 1884.4,827.6 1884.4,822.7 1884.4,817.8 1884.4,812.8 1884.4,807.9 1884.4,802.9 1884.4,798 1884.4,793.1 1884.4,788.1 1884.4,783.2 1884.4,778.2 1884.4,773.3 1884.4,768.4 1884.4,763.4 1884.4,758.5 1884.4,753.5 1884.4,748.6 1884.4,743.7 1884.4,738.7 1884.4,733.8 1884.4,728.8 1884.4,723.9 1884.4,719 1884.4,714 1884.4,709.1 1884.4,704.1 1884.4,699.2 1855.2,699.2 1796.9,699.2 1738.6,699.2 1680.3,699.2 1622,699.2 1563.7,699.2 1505.3,699.2 1464.6,699.2 1466.3,704.1 1469.4,709.1 1472.4,714 1474.8,719 1477.2,723.9 1479.4,728.8 1481.6,733.8 1484,738.7 1486.4,743.7 1488.3,748.6 1489.7,753.5 1490.9,758.5 1491.9,763.4 1492.9,768.4 1493.9,773.3 1494.9,778.2 1496.1,783.2 1497.7,788.1 1499.7,793.1 1501.9,798 1503.9,802.9 1505.3,807.9 1507.8,802.9 1511.3,798 1514.9,793.1 1518.1,788.1 1520.4,783.2 1522.2,778.2 1523.8,773.3 1525.4,768.4 1527.2,763.4 1529.2,758.5 1531.5,753.5 1534.1,748.6 1537.4,743.7 1541.1,738.7 1545,733.8 1549.1,728.8 1554.1,723.9 1560.6,719 1563.7,717.2 1565.9,719 1570.9,723.9 1574.8,728.8 1578,733.8 1580.7,738.7 1582.7,743.7 1584.3,748.6 1585.7,753.5 1586.8,758.5 1587.8,763.4 1588.4,768.4 1588.8,773.3 1588.8,778.2 1588.7,783.2 1588.6,788.1 1588.5,793.1 1588.2,798 1588,802.9 1587.6,807.9 1587.2,812.8 1586.8,817.8 1586.2,822.7 1585.6,827.6 1585.2,832.6 1584.9,837.5 1584.6,842.5 1584.3,847.4 1584,852.3 1583.8,857.3 1583.6,862.2 1583.4,867.2 1583.3,872.1 1583.1,877 1582.9,882 1582.7,886.9 1582.5,891.9 1582.3,896.8 1582,901.7 1581.7,906.7 1581.4,911.6 1581,916.6 1580.4,921.5 1579.5,926.4 1578.6,931.4 1578.2,936.3 1578.3,941.2 1578.4,946.2 1578.6,951.1 1578.9,956.1 1579.2,961 1579.7,965.9 1580.3,970.9 1580.9,975.8 1582.4,980.8 1584.7,985.7 1587.2,990.6 1589.4,995.6 1591.3,1000.5 1593.3,1005.5 1595.4,1010.4 1597.6,1015.3 1600,1020.3 1602.7,1025.2 1605.5,1030.2 1608.6,1035.1 1611.9,1040 1615.3,1045 1618.9,1049.9 1622,1054.1 1624.3,1049.9 1626.9,1045 1629.5,1040 1632,1035.1 1634.5,1030.2 1636.9,1025.2 1639.2,1020.3 1641.4,1015.3 1643.5,1010.4 1645.5,1005.5 1647.4,1000.5 1649.2,995.6 1651,990.6 1652.7,985.7 1654.4,980.8 1656.1,975.8 1657.8,970.9 1659.4,965.9 1661,961 1662.6,956.1 1664.1,951.1 1665.6,946.2 1667.1,941.2 1668.7,936.3 1670.4,931.4 1672.4,926.4 1674.8,921.5 1677.4,916.6 1680.2,911.6 1680.3,911.5 1735.3,906.7 1738.6,904.8 1738.9,906.7 1739.2,911.6 1739.1,916.5 1739,921.5 1738.8,926.4 1738.7,931.4 1738.6,936.3 1738.7,941.2 1739.1,946.2 1739.6,951.1 1740.2,956.1 1740.8,961 1741.4,965.9 1742,970.9 1742.4,975.8 1742.7,980.8 1743,985.7 1743.3,990.6 1743.6,995.6 1744,1000.5 1744.3,1005.5 1744.7,1010.4 1745.1,1015.3 1745.5,1020.3 1746,1025.2 1746.5,1030.2 1747,1035.1 1747.6,1040 1748.2,1045 1748.8,1049.9 1749.4,1054.9 1750.1,1059.8 1750.9,1064.7 1751.8,1069.7 1752.9,1074.6 1754,1079.6 1755.3,1084.5 1756.6,1089.4 1758,1094.4 1759.5,1099.3 1761.2,1104.3 1762.9,1109.2 1764.8,1114.1 1766.9,1119.1 1769.1,1124 1771.6,1129 1774.2,1133.9Z" fill="#fddbc7"/>
<path d="M1184.6,1133.9 1213.8,1133.9 1237.8,1133.9 1239.4,1129 1241.1,1124 1242.9,1119.1 1244.7,1114.1 1246.6,1109.2 1248.5,1104.3 1250.3,1099.3 1251.9,1094.4 1253.4,1089.4 1254.9,1084.5 1256.3,1079.6 1257.7,1074.6 1258.9,1069.7 1260.1,1064.7 1261.2,1059.8 1262.2,1054.9 1263.2,1049.9 1264.1,1045 1264.9,1040 1265.7,1035.1 1266.5,1030.2 1267.2,1025.2 1267.9,1020.3 1268.6,1015.3 1269.4,1010.4 1270.1,1005.5 1270.9,1000.5 1271.6,995.6 1272.1,991.8 1272.2,990.6 1272.9,985.7 1273.5,980.8 1273.9,975.8 1274.2,970.9 1274.5,965.9 1274.8,961 1275,956.1 1275.3,951.1 1275.4,946.2 1275.5,941.2 1275.6,936.3 1275.5,931.4 1275.3,926.4 1275,921.5 1274.6,916.6 1274.1,911.6 1273.5,906.7 1272.8,901.7 1272.1,896.8 1271,891.9 1269.3,886.9 1267.3,882 1265.2,877 1263.1,872.1 1261.2,867.2 1259.6,862.2 1258.4,857.3 1257.3,852.3 1256.2,847.4 1255.2,842.5 1254.1,837.5 1253.2,832.6 1252.4,827.6 1251.8,822.7 1251.4,817.8 1251.2,812.8 1251,807.9 1250.9,802.9 1250.9,798 1250.9,793.1 1251,788.1 1251.1,783.2 1251.2,778.2 1251.8,773.3 1253,768.4 1254.9,763.4 1257.2,758.5 1259.9,753.5 1262.7,748.6 1265.2,743.7 1266.8,738.7 1267.7,733.8 1268.7,728.8 1269.6,723.9 1270.4,719 1271.1,714 1271.6,709.1 1272,704.1 1272.1,699.2 1213.8,699.2 1184.6,699.2 1184.6,704.1 1184.6,709.1 1184.6,714 1184.6,719 1184.6,723.9 1184.6,728.8 1184.6,733.8 1184.6,738.7 1184.6,743.7 1184.6,748.6 1184.6,753.5 1184.6,758.5 1184.6,763.4 1184.6,768.4 1184.6,773.3 1184.6,778.2 1184.6,783.2 1184.6,788.1 1184.6,793.1 1184.6,798 1184.6,802.9 1184.6,807.9 1184.6,812.8 1184.6,817.8 1184.6,822.7 1184.6,827.6 1184.6,832.6 1184.6,837.5 1184.6,842.5 1184.6,847.4 1184.6,852.3 1184.6,857.3 1184.6,862.2 1184.6,867.2 1184.6,872.1 1184.6,877 1184.6,882 1184.6,886.9 1184.6,891.9 1184.6,896.8 1184.6,901.7 1184.6,906.7 1184.6,911.6 1184.6,916.6 1184.6,921.5 1184.6,926.4 1184.6,931.4 1184.6,936.3 1184.6,941.2 1184.6,946.2 1184.6,951.1 1184.6,956.1 1184.6,961 1184.6,965.9 1184.6,970.9 1184.6,975.8 1184.6,980.8 1184.6,985.7 1184.6,990.6 1184.6,995.6 1184.6,1000.5 1184.6,1005.5 1184.6,1010.4 1184.6,1015.3 1184.6,1020.3 1184.6,1025.2 1184.6,1030.2 1184.6,1035.1 1184.6,1040 1184.6,1045 1184.6,1049.9 1184.6,1054.9 1184.6,1059.8 1184.6,1064.7 1184.6,1069.7 1184.6,1074.6 1184.6,1079.6 1184.6,1084.5 1184.6,1089.4 1184.6,1094.4 1184.6,1099.3 1184.6,1104.3 1184.6,1109.2 1184.6,1114.1 1184.6,1119.1 1184.6,1124 1184.6,1129 1184.6,1133.9ZM1808.2,1133.9 1855.2,1133.9 1884.4,1133.9 1884.4,1129 1884.4,1124 1884.4,1119.1 1884.4,1114.1 1884.4,1109.2 1884.4,1104.3 1884.4,1099.3 1884.4,1094.4 1884.4,1089.4 1884.4,1084.5 1884.4,1079.6 1884.4,1074.6 1884.4,1069.7 1884.4,1064.7 1884.4,1059.8 1884.4,1054.9 1884.4,1049.9 1884.4,1045 1884.4,1040 1884.4,1035.1 1884.4,1030.2 1884.4,1025.2 1884.4,1020.3 1884.4,1015.3 1884.4,1010.4 1884.4,1005.5 1884.4,1000.5 1884.4,995.6 1884.4,990.6 1884.4,985.7 1884.4,980.8 1884.4,975.8 1884.4,970.9 1884.4,965.9 1884.4,961 1884.4,956.1 1884.4,951.1 1884.4,946.2 1884.4,941.2 1884.4,936.3 1884.4,931.4 1884.4,926.4 1884.4,921.5 1884.4,916.6 1884.4,911.6 1884.4,906.7 1884.4,901.7 1884.4,896.8 1884.4,891.9 1884.4,886.9 1884.4,882 1884.4,877 1884.4,872.1 1884.4,867.2 1884.4,862.2 1884.4,857.3 1884.4,852.3 1884.4,847.4 1884.4,842.5 1884.4,837.5 1884.4,832.6 1884.4,827.6 1884.4,822.7 1884.4,817.8 1884.4,812.8 1884.4,807.9 1884.4,802.9 1884.4,798 1884.4,793.1 1884.4,788.1 1884.4,783.2 1884.4,778.2 1884.4,773.3 1884.4,768.4 1884.4,763.4 1884.4,758.5 1884.4,753.5 1884.4,748.6 1884.4,743.7 1884.4,738.7 1884.4,733.8 1884.4,728.8 1884.4,723.9 1884.4,719 1884.4,714 1884.4,709.1 1884.4,704.1 1884.4,699.2 1855.2,699.2 1796.9,699.2 1738.6,699.2 1680.3,699.2 1622,699.2 1563.7,699.2 1505.3,699.2 1473.9,699.2 1475.5,704.1 1478.2,709.1 1480.9,714 1483.1,719 1485.3,723.9 1487.5,728.8 1489.6,733.8 1492,738.7 1494.5,743.7 1496.6,748.6 1498.1,753.5 1499.4,758.5 1500.5,763.4 1501.5,768.4 1502.6,773.3 1503.7,778.2 1505.1,783.2 1505.3,783.9 1505.7,783.2 1507.9,778.2 1509.8,773.3 1511.5,768.4 1513.2,763.4 1515.2,758.5 1517.5,753.5 1520.2,748.6 1523.7,743.7 1527.6,738.7 1531.6,733.8 1535.5,728.8 1539.9,723.9 1545.6,719 1553,714 1562.4,709.1 1563.7,708.2 1564.5,709.1 1571.5,714 1577.1,719 1581.5,723.9 1585.1,728.8 1588.2,733.8 1590.8,738.7 1592.6,743.7 1594,748.6 1595.2,753.5 1596.3,758.5 1597,763.4 1597.5,768.4 1597.6,773.3 1597.5,778.2 1597.2,783.2 1597,788.1 1596.7,793.1 1596.4,798 1595.9,802.9 1595.5,807.9 1595,812.8 1594.4,817.8 1593.8,822.7 1593.1,827.6 1592.5,832.6 1592.2,837.5 1591.9,842.5 1591.7,847.4 1591.4,852.3 1591.3,857.3 1591.1,862.2 1591,867.2 1590.9,872.1 1590.8,877 1590.7,882 1590.6,886.9 1590.5,891.9 1590.4,896.8 1590.2,901.7 1590.1,906.7 1589.9,911.6 1589.7,916.6 1589.3,921.5 1588.7,926.4 1588.1,931.4 1588,936.3 1588.2,941.2 1588.5,946.2 1589,951.1 1589.6,956.1 1590.3,961 1591.1,965.9 1592.1,970.9 1593.3,975.8 1595,980.8 1597.3,985.7 1599.8,990.6 1601.9,995.6 1604,1000.5 1606.2,1005.5 1608.4,1010.4 1610.9,1015.3 1613.6,1020.3 1616.5,1025.2 1619.6,1030.2 1622,1033.7 1623.8,1030.2 1626.2,1025.2 1628.6,1020.3 1630.8,1015.3 1633,1010.4 1635,1005.5 1636.9,1000.5 1638.7,995.6 1640.5,990.6 1642.3,985.7 1644.1,980.8 1645.8,975.8 1647.6,970.9 1649.3,965.9 1651,961 1652.5,956.1 1654,951.1 1655.4,946.2 1656.9,941.2 1658.3,936.3 1659.8,931.4 1661.5,926.4 1663.5,921.5 1665.7,916.6 1668.1,911.6 1670.5,906.7 1672.8,901.7 1674.9,896.8 1676.7,891.9 1678.5,886.9 1680.2,882 1680.3,881.8 1688.1,877 1694.7,872.1 1700.1,867.2 1704.7,862.2 1708.8,857.3 1712.3,852.3 1715.3,847.4 1718.2,842.5 1720.9,837.5 1723.6,832.6 1726.4,827.6 1729.2,822.7 1732.2,817.8 1735.4,812.8 1738.6,807.9 1739.7,812.8 1740.7,817.8 1741.7,822.7 1742.6,827.6 1743.4,832.6 1744.2,837.5 1745,842.5 1745.7,847.4 1746.5,852.3 1747.3,857.3 1748.1,862.2 1749.1,867.2 1750.1,872.1 1751.2,877 1752.4,882 1753.7,886.9 1754.9,891.9 1755.9,896.8 1756.7,901.7 1757.3,906.7 1757.6,911.6 1757.7,916.6 1757.7,921.5 1757.7,926.4 1757.7,931.4 1757.7,936.3 1757.9,941.2 1758.3,946.2 1758.7,951.1 1759.2,956.1 1759.7,961 1760.2,965.9 1760.7,970.9 1761.2,975.8 1761.7,980.8 1762.2,985.7 1762.9,990.6 1763.7,995.6 1764.5,1000.5 1765.3,1005.5 1766,1010.4 1766.7,1015.3 1767.2,1020.3 1767.7,1025.2 1768.2,1030.2 1768.7,1035.1 1769.2,1040 1769.7,1045 1770.3,1049.9 1771,1054.9 1771.9,1059.8 1773,1064.7 1774.4,1069.7 1776,1074.6 1777.8,1079.6 1779.8,1084.5 1781.9,1089.4 1784,1094.4 1786.1,1099.3 1788.5,1104.3 1791,1109.2 1793.7,1114.1 1796.6,1119.1 1796.9,1119.7 1800.8,1124 1804.7,1129 1808.2,1133.9Z" fill="#fac9b0"/>
<path d="M1184.6,1133.9 1213.8,1133.9 1219.3,1133.9 1220.1,1129 1221.1,1124 1222.3,1119.1 1223.6,1114.1 1225,1109.2 1226.4,1104.3 1227.9,1099.3 1229.5,1094.4 1231,1089.4 1232.7,1084.5 1234.5,1079.6 1236.2,1074.6 1237.9,1069.7 1239.5,1064.7 1241,1059.8 1242.4,1054.9 1243.7,1049.9 1245,1045 1246.2,1040 1247.3,1035.1 1248.4,1030.2 1249.4,1025.2 1250.5,1020.3 1251.5,1015.3 1252.6,1010.4 1253.7,1005.5 1254.9,1000.5 1256,995.6 1257,990.6 1257.7,985.7 1258.3,980.8 1258.7,975.8 1258.9,970.9 1259.1,965.9 1259.3,961 1259.5,956.1 1259.6,951.1 1259.7,946.2 1259.8,941.2 1259.8,936.3 1259.7,931.4 1259.3,926.4 1258.7,921.5 1257.9,916.6 1257,911.6 1256,906.7 1254.9,901.7 1253.9,896.8 1252.6,891.9 1251,886.9 1249.3,882 1247.4,877 1245.6,872.1 1243.9,867.2 1242.5,862.2 1241.2,857.3 1240,852.3 1238.8,847.4 1237.5,842.5 1236.3,837.5 1235.1,832.6 1234.1,827.6 1233.2,822.7 1232.6,817.8 1232.1,812.8 1231.7,807.9 1231.4,802.9 1231.1,798 1230.9,793.1 1230.7,788.1 1230.5,783.2 1230.4,778.2 1230.5,773.3 1230.8,768.4 1231.5,763.4 1232.3,758.5 1233.3,753.5 1234.3,748.6 1235.1,743.7 1235.6,738.7 1235.7,733.8 1235.9,728.8 1236,723.9 1236.1,719 1236.1,714 1236,709.1 1235.9,704.1 1235.6,699.2 1213.8,699.2 1184.6,699.2 1184.6,704.1 1184.6,709.1 1184.6,714 1184.6,719 1184.6,723.9 1184.6,728.8 1184.6,733.8 1184.6,738.7 1184.6,743.7 1184.6,748.6 1184.6,753.5 1184.6,758.5 1184.6,763.4 1184.6,768.4 1184.6,773.3 1184.6,778.2 1184.6,783.2 1184.6,788.1 1184.6,793.1 1184.6,798 1184.6,802.9 1184.6,807.9 1184.6,812.8 1184.6,817.8 1184.6,822.7 1184.6,827.6 1184.6,832.6 1184.6,837.5 1184.6,842.5 1184.6,847.4 1184.6,852.3 1184.6,857.3 1184.6,862.2 1184.6,867.2 1184.6,872.1 1184.6,877 1184.6,882 1184.6,886.9 1184.6,891.9 1184.6,896.8 1184.6,901.7 1184.6,906.7 1184.6,911.6 1184.6,916.6 1184.6,921.5 1184.6,926.4 1184.6,931.4 1184.6,936.3 1184.6,941.2 1184.6,946.2 1184.6,951.1 1184.6,956.1 1184.6,961 1184.6,965.9 1184.6,970.9 1184.6,975.8 1184.6,980.8 1184.6,985.7 1184.6,990.6 1184.6,995.6 1184.6,1000.5 1184.6,1005.5 1184.6,1010.4 1184.6,1015.3 1184.6,1020.3 1184.6,1025.2 1184.6,1030.2 1184.6,1035.1 1184.6,1040 1184.6,1045 1184.6,1049.9 1184.6,1054.9 1184.6,1059.8 1184.6,1064.7 1184.6,1069.7 1184.6,1074.6 1184.6,1079.6 1184.6,1084.5 1184.6,1089.4 1184.6,1094.4 1184.6,1099.3 1184.6,1104.3 1184.6,1109.2 1184.6,1114.1 1184.6,1119.1 1184.6,1124 1184.6,1129 1184.6,1133.9ZM1845.8,1133.9 1855.2,1133.9 1884.4,1133.9 1884.4,1129 1884.4,1124 1884.4,1119.1 1884.4,1114.1 1884.4,1109.2 1884.4,1104.3 1884.4,1099.3 1884.4,1094.4 1884.4,1089.4 1884.4,1084.5 1884.4,1079.6 1884.4,1074.6 1884.4,1069.7 1884.4,1064.7 1884.4,1059.8 1884.4,1054.9 1884.4,1049.9 1884.4,1045 1884.4,1040 1884.4,1035.1 1884.4,1030.2 1884.4,1025.2 1884.4,1020.3 1884.4,1015.3 1884.4,1010.4 1884.4,1005.5 1884.4,1000.5 1884.4,995.6 1884.4,990.6 1884.4,985.7 1884.4,980.8 1884.4,975.8 1884.4,970.9 1884.4,965.9 1884.4,961 1884.4,956.1 1884.4,951.1 1884.4,946.2 1884.4,941.2 1884.4,936.3 1884.4,931.4 1884.4,926.4 1884.4,921.5 1884.4,916.6 1884.4,911.6 1884.4,906.7 1884.4,901.7 1884.4,896.8 1884.4,891.9 1884.4,886.9 1884.4,882 1884.4,877 1884.4,872.1 1884.4,867.2 1884.4,862.2 1884.4,857.3 1884.4,852.3 1884.4,847.4 1884.4,842.5 1884.4,837.5 1884.4,832.6 1884.4,827.6 1884.4,822.7 1884.4,817.8 1884.4,812.8 1884.4,807.9 1884.4,802.9 1884.4,798 1884.4,793.1 1884.4,788.1 1884.4,783.2 1884.4,778.2 1884.4,773.3 1884.4,768.4 1884.4,763.4 1884.4,758.5 1884.4,753.5 1884.4,748.6 1884.4,743.7 1884.4,738.7 1884.4,733.8 1884.4,728.8 1884.4,723.9 1884.4,719 1884.4,714 1884.4,709.1 1884.4,704.1 1884.4,699.2 1855.2,699.2 1796.9,699.2 1738.6,699.2 1680.3,699.2 1622,699.2 1570.9,699.2 1573.8,704.1 1577.9,709.1 1583.6,714 1588.3,719 1592.1,723.9 1595.5,728.8 1598.5,733.8 1601,738.7 1602.6,743.7 1603.8,748.6 1604.8,753.5 1605.7,758.5 1606.3,763.4 1606.5,768.4 1606.5,773.3 1606.2,778.2 1605.8,783.2 1605.3,788.1 1604.9,793.1 1604.5,798 1603.9,802.9 1603.3,807.9 1602.7,812.8 1602.1,817.8 1601.3,822.7 1600.5,827.6 1599.9,832.6 1599.6,837.5 1599.3,842.5 1599.1,847.4 1598.9,852.3 1598.7,857.3 1598.6,862.2 1598.6,867.2 1598.6,872.1 1598.6,877 1598.5,882 1598.5,886.9 1598.5,891.9 1598.5,896.8 1598.4,901.7 1598.4,906.7 1598.4,911.6 1598.3,916.6 1598.1,921.5 1597.8,926.4 1597.6,931.4 1597.7,936.3 1598.1,941.2 1598.7,946.2 1599.4,951.1 1600.3,956.1 1601.3,961 1602.5,965.9 1604,970.9 1605.6,975.8 1607.6,980.8 1610,985.7 1612.3,990.6 1614.5,995.6 1616.7,1000.5 1619,1005.5 1621.5,1010.4 1622,1011.4 1622.4,1010.4 1624.4,1005.5 1626.4,1000.5 1628.2,995.6 1630.1,990.6 1631.9,985.7 1633.7,980.8 1635.6,975.8 1637.4,970.9 1639.2,965.9 1640.9,961 1642.4,956.1 1643.9,951.1 1645.3,946.2 1646.7,941.2 1647.9,936.3 1649.2,931.4 1650.6,926.4 1652.3,921.5 1654,916.6 1655.9,911.6 1657.8,906.7 1659.7,901.7 1661.3,896.8 1662.8,891.9 1664.3,886.9 1665.7,882 1667.1,877 1668.4,872.1 1669.7,867.2 1671,862.2 1672.2,857.3 1673.4,852.3 1674.5,847.4 1675.6,842.5 1676.7,837.5 1677.8,832.6 1679.1,827.6 1680.3,823.7 1681,822.7 1685,817.8 1689.2,812.8 1693.5,807.9 1698,802.9 1702.6,798 1707.5,793.1 1712.8,788.1 1718.3,783.2 1724.1,778.2 1730.3,773.3 1736.8,768.4 1738.6,767 1739.2,768.4 1741.3,773.3 1743.5,778.2 1745.6,783.2 1747.7,788.1 1749.6,793.1 1751.3,798 1752.8,802.9 1754.2,807.9 1755.3,812.8 1756.4,817.8 1757.4,822.7 1758.4,827.6 1759.3,832.6 1760.1,837.5 1761,842.5 1761.9,847.4 1762.8,852.3 1763.8,857.3 1765,862.2 1766.3,867.2 1767.7,872.1 1769.2,877 1770.8,882 1772.3,886.9 1773.6,891.9 1774.6,896.8 1775.2,901.7 1775.7,906.7 1776.1,911.6 1776.3,916.6 1776.4,921.5 1776.5,926.4 1776.7,931.4 1776.8,936.3 1777.1,941.2 1777.4,946.2 1777.8,951.1 1778.2,956.1 1778.6,961 1779.1,965.9 1779.5,970.9 1780,975.8 1780.6,980.8 1781.5,985.7 1782.5,990.6 1783.7,995.6 1785,1000.5 1786.3,1005.5 1787.4,1010.4 1788.3,1015.3 1788.9,1020.3 1789.5,1025.2 1789.9,1030.2 1790.4,1035.1 1790.8,1040 1791.3,1045 1791.9,1049.9 1792.6,1054.9 1793.7,1059.8 1795.1,1064.7 1796.9,1069.6 1797,1069.7 1801.7,1074.6 1806.8,1079.6 1812,1084.5 1817,1089.4 1821.7,1094.4 1826.1,1099.3 1830.4,1104.3 1834.3,1109.2 1837.8,1114.1 1840.8,1119.1 1843.1,1124 1844.8,1129 1845.8,1133.9ZM1504.8,748.6 1505.3,750.1 1506.2,748.6 1510,743.7 1514.2,738.7 1518.2,733.8 1521.8,728.8 1525.8,723.9 1530.5,719 1536.4,714 1543.9,709.1 1549.6,704.1 1553.6,699.2 1505.3,699.2 1483.1,699.2 1484.7,704.1 1487,709.1 1489.4,714 1491.4,719 1493.5,723.9 1495.6,728.8 1497.7,733.8 1500.1,738.7 1502.6,743.7 1504.8,748.6Z" fill="#f7b799"/>
<path d="M1184.6,1079.6 1184.6,1081.8 1196.7,1079.6 1213.8,1076.9 1214.8,1074.6 1216.9,1069.7 1218.9,1064.7 1220.9,1059.8 1222.7,1054.9 1224.3,1049.9 1225.9,1045 1227.4,1040 1228.9,1035.1 1230.3,1030.2 1231.7,1025.2 1233,1020.3 1234.3,1015.3 1235.8,1010.4 1237.3,1005.5 1238.9,1000.5 1240.4,995.6 1241.7,990.6 1242.7,985.7 1243.5,980.8 1243.8,975.8 1244,970.9 1244.1,965.9 1244.2,961 1244.3,956.1 1244.4,951.1 1244.4,946.2 1244.5,941.2 1244.5,936.3 1244.2,931.4 1243.6,926.4 1242.6,921.5 1241.4,916.6 1240,911.6 1238.5,906.7 1237,901.7 1235.6,896.8 1234.3,891.9 1232.7,886.9 1231.2,882 1229.6,877 1228.1,872.1 1226.6,867.2 1225.3,862.2 1224,857.3 1222.8,852.3 1221.4,847.4 1219.9,842.5 1218.4,837.5 1217,832.6 1215.7,827.6 1214.6,822.7 1213.8,817.8 1212.6,812.8 1211.6,807.9 1210.8,802.9 1210.1,798 1209.4,793.1 1208.8,788.1 1208.3,783.2 1207.9,778.2 1207.6,773.3 1207.5,768.4 1207.4,763.4 1207.4,758.5 1207.4,753.5 1207.5,748.6 1207.5,743.7 1207.5,738.7 1207.5,733.8 1207.4,728.8 1207.4,723.9 1207.4,719 1207.4,714 1207.3,709.1 1207.3,704.1 1207.3,699.2 1184.6,699.2 1184.6,704.1 1184.6,709.1 1184.6,714 1184.6,719 1184.6,723.9 1184.6,728.8 1184.6,733.8 1184.6,738.7 1184.6,743.7 1184.6,748.6 1184.6,753.5 1184.6,758.5 1184.6,763.4 1184.6,768.4 1184.6,773.3 1184.6,778.2 1184.6,783.2 1184.6,788.1 1184.6,793.1 1184.6,798 1184.6,802.9 1184.6,807.9 1184.6,812.8 1184.6,817.8 1184.6,822.7 1184.6,827.6 1184.6,832.6 1184.6,837.5 1184.6,842.5 1184.6,847.4 1184.6,852.3 1184.6,857.3 1184.6,862.2 1184.6,867.2 1184.6,872.1 1184.6,877 1184.6,882 1184.6,886.9 1184.6,891.9 1184.6,896.8 1184.6,901.7 1184.6,906.7 1184.6,911.6 1184.6,916.6 1184.6,921.5 1184.6,926.4 1184.6,931.4 1184.6,936.3 1184.6,941.2 1184.6,946.2 1184.6,951.1 1184.6,956.1 1184.6,961 1184.6,965.9 1184.6,970.9 1184.6,975.8 1184.6,980.8 1184.6,985.7 1184.6,990.6 1184.6,995.6 1184.6,1000.5 1184.6,1005.5 1184.6,1010.4 1184.6,1015.3 1184.6,1020.3 1184.6,1025.2 1184.6,1030.2 1184.6,1035.1 1184.6,1040 1184.6,1045 1184.6,1049.9 1184.6,1054.9 1184.6,1059.8 1184.6,1064.7 1184.6,1069.7 1184.6,1074.6 1184.6,1079.6ZM1851.9,1074.6 1855.2,1077.7 1884.4,1078.4 1884.4,1074.6 1884.4,1069.7 1884.4,1064.7 1884.4,1059.8 1884.4,1054.9 1884.4,1049.9 1884.4,1045 1884.4,1040 1884.4,1035.1 1884.4,1030.2 1884.4,1025.2 1884.4,1020.3 1884.4,1015.3 1884.4,1010.4 1884.4,1005.5 1884.4,1000.5 1884.4,995.6 1884.4,990.6 1884.4,985.7 1884.4,980.8 1884.4,975.8 1884.4,970.9 1884.4,965.9 1884.4,961 1884.4,956.1 1884.4,951.1 1884.4,946.2 1884.4,941.2 1884.4,936.3 1884.4,931.4 1884.4,926.4 1884.4,921.5 1884.4,916.6 1884.4,911.6 1884.4,906.7 1884.4,901.7 1884.4,896.8 1884.4,891.9 1884.4,886.9 1884.4,882 1884.4,877 1884.4,872.1 1884.4,867.2 1884.4,862.2 1884.4,857.3 1884.4,852.3 1884.4,847.4 1884.4,842.5 1884.4,837.5 1884.4,832.6 1884.4,827.6 1884.4,822.7 1884.4,817.8 1884.4,812.8 1884.4,807.9 1884.4,802.9 1884.4,798 1884.4,793.1 1884.4,788.1 1884.4,783.2 1884.4,778.2 1884.4,773.3 1884.4,768.4 1884.4,763.4 1884.4,758.5 1884.4,753.5 1884.4,748.6 1884.4,743.7 1884.4,738.7 1884.4,733.8 1884.4,728.8 1884.4,723.9 1884.4,719 1884.4,714 1884.4,709.1 1884.4,704.1 1884.4,699.2 1855.2,699.2 1796.9,699.2 1738.6,699.2 1680.3,699.2 1622,699.2 1585.5,699.2 1587.9,704.1 1591.3,709.1 1595.8,714 1599.5,719 1602.7,723.9 1605.9,728.8 1608.8,733.8 1611.1,738.7 1612.5,743.7 1613.5,748.6 1614.4,753.5 1615.1,758.5 1615.5,763.4 1615.6,768.4 1615.3,773.3 1614.8,778.2 1614.3,783.2 1613.7,788.1 1613.2,793.1 1612.6,798 1611.9,802.9 1611.2,807.9 1610.5,812.8 1609.7,817.8 1608.8,822.7 1607.9,827.6 1607.3,832.6 1607,837.5 1606.7,842.5 1606.5,847.4 1606.3,852.3 1606.2,857.3 1606.1,862.2 1606.1,867.2 1606.2,872.1 1606.3,877 1606.3,882 1606.4,886.9 1606.5,891.9 1606.6,896.8 1606.6,901.7 1606.7,906.7 1606.8,911.6 1606.9,916.6 1607,921.5 1607,926.4 1607.1,931.4 1607.4,936.3 1608,941.2 1608.8,946.2 1609.8,951.1 1611,956.1 1612.3,961 1613.9,965.9 1615.8,970.9 1617.9,975.8 1620.3,980.8 1622,984.4 1623.4,980.8 1625.3,975.8 1627.3,970.9 1629.1,965.9 1630.8,961 1632.3,956.1 1633.8,951.1 1635.2,946.2 1636.4,941.2 1637.6,936.3 1638.6,931.4 1639.7,926.4 1641,921.5 1642.3,916.6 1643.7,911.6 1645.1,906.7 1646.5,901.7 1647.8,896.8 1648.9,891.9 1650,886.9 1651.1,882 1652.2,877 1653.3,872.1 1654.3,867.2 1655.2,862.2 1656.1,857.3 1656.9,852.3 1657.6,847.4 1658.1,842.5 1658.7,837.5 1659.2,832.6 1659.3,827.6 1659.2,822.7 1659.3,817.8 1659.8,812.8 1660.5,807.9 1661.5,802.9 1663,798 1665.2,793.1 1668.5,788.1 1673.1,783.2 1680.3,778.2 1686.2,773.3 1692.6,768.4 1699.3,763.4 1706.3,758.5 1713.6,753.5 1721.8,748.6 1731.5,743.7 1738.6,740.9 1740.4,743.7 1743.2,748.6 1745.8,753.5 1748.3,758.5 1750.8,763.4 1753.3,768.4 1755.7,773.3 1758.2,778.2 1760.6,783.2 1762.9,788.1 1765,793.1 1766.8,798 1768.3,802.9 1769.7,807.9 1771,812.8 1772.1,817.8 1773.2,822.7 1774.2,827.6 1775.1,832.6 1776.1,837.5 1777.1,842.5 1778.1,847.4 1779.2,852.3 1780.4,857.3 1781.8,862.2 1783.4,867.2 1785.3,872.1 1787.2,877 1789.1,882 1790.9,886.9 1792.3,891.9 1793.2,896.8 1793.8,901.7 1794.2,906.7 1794.5,911.6 1794.8,916.6 1795.1,921.5 1795.4,926.4 1795.6,931.4 1796,936.3 1796.3,941.2 1796.6,946.2 1796.9,951.1 1796.9,951.4 1797.3,956.1 1797.6,961 1798.1,965.9 1798.6,970.9 1799.2,975.8 1800.1,980.8 1801.4,985.7 1802.9,990.6 1804.6,995.6 1806.4,1000.5 1808,1005.5 1809.5,1010.4 1810.8,1015.3 1812,1020.3 1813.3,1025.2 1814.8,1030.2 1816.5,1035.1 1818.5,1040 1820.8,1045 1823.5,1049.9 1827.2,1054.9 1832.2,1059.8 1838.4,1064.7 1845.3,1069.7 1851.9,1074.6ZM1503.6,728.8 1505.3,733 1508.2,728.8 1511.7,723.9 1515.5,719 1519.9,714 1525.3,709.1 1529.9,704.1 1533.5,699.2 1505.3,699.2 1492.4,699.2 1493.9,704.1 1495.9,709.1 1497.8,714 1499.7,719 1501.7,723.9 1503.6,728.8Z" fill="#f4a582"/>
<path d="M1853.1,1045 1855.2,1047.1 1864.7,1045 1884.4,1040 1884.4,1035.1 1884.4,1030.2 1884.4,1025.2 1884.4,1020.3 1884.4,1015.3 1884.4,1010.4 1884.4,1005.5 1884.4,1000.5 1884.4,995.6 1884.4,990.6 1884.4,985.7 1884.4,980.8 1884.4,975.8 1884.4,970.9 1884.4,965.9 1884.4,961 1884.4,956.1 1884.4,951.1 1884.4,946.2 1884.4,941.2 1884.4,936.3 1884.4,931.4 1884.4,926.4 1884.4,921.5 1884.4,916.6 1884.4,911.6 1884.4,906.7 1884.4,901.7 1884.4,896.8 1884.4,891.9 1884.4,886.9 1884.4,882 1884.4,877 1884.4,872.1 1884.4,867.2 1884.4,862.2 1884.4,857.3 1884.4,852.3 1884.4,851.8 1878.8,847.4 1872.9,842.5 1867.7,837.5 1863.7,832.6 1860.8,827.6 1859.1,822.7 1858.5,817.8 1859.6,812.8 1863,807.9 1869,802.9 1877.3,798 1884.4,794 1884.4,793.1 1884.4,788.1 1884.4,783.2 1884.4,778.2 1884.4,773.3 1884.4,768.4 1884.4,763.4 1884.4,758.5 1884.4,753.5 1884.4,748.6 1884.4,743.7 1884.4,738.7 1884.4,733.8 1884.4,728.8 1884.4,723.9 1884.4,719 1884.4,714 1884.4,709.1 1884.4,704.1 1884.4,699.2 1855.2,699.2 1796.9,699.2 1738.6,699.2 1680.3,699.2 1622,699.2 1600.1,699.2 1602,704.1 1604.6,709.1 1607.9,714 1610.7,719 1613.3,723.9 1616.2,728.8 1619,733.8 1621.2,738.7 1622,741.9 1647.6,743.7 1680.3,745.4 1682.9,743.7 1691,738.7 1702.4,733.8 1723.7,728.8 1738.6,726.9 1740.3,728.8 1744.8,733.8 1749,738.7 1752.4,743.7 1755.6,748.6 1758.6,753.5 1761.6,758.5 1764.5,763.4 1767.4,768.4 1770.1,773.3 1772.9,778.2 1775.6,783.2 1778.1,788.1 1780.3,793.1 1782.2,798 1783.8,802.9 1785.3,807.9 1786.6,812.8 1787.8,817.8 1788.9,822.7 1790,827.6 1791,832.6 1792.1,837.5 1793.1,842.5 1794.3,847.4 1795.5,852.3 1796.9,857.3 1807.1,862.2 1813.1,867.2 1816.7,872.1 1818.9,877 1820.3,882 1821.2,886.9 1821.8,891.9 1821.8,896.8 1821.5,901.7 1821.1,906.7 1820.7,911.6 1820.3,916.6 1820,921.5 1819.7,926.4 1819.5,931.4 1819.3,936.3 1819.3,941.2 1819.3,946.2 1819.4,951.1 1819.6,956.1 1819.9,961 1820.3,965.9 1820.9,970.9 1821.6,975.8 1822.6,980.8 1823.9,985.7 1825.5,990.6 1827.1,995.6 1828.9,1000.5 1830.6,1005.5 1832.2,1010.4 1833.8,1015.3 1835.8,1020.3 1838.2,1025.2 1841.1,1030.2 1844.5,1035.1 1848.5,1040 1853.1,1045ZM1184.6,1035.1 1184.6,1035.6 1186.7,1035.1 1202.6,1030.2 1213.8,1025.6 1213.9,1025.2 1215.6,1020.3 1217.2,1015.3 1219,1010.4 1220.9,1005.5 1222.9,1000.5 1224.8,995.6 1226.4,990.6 1227.7,985.7 1228.6,980.8 1228.9,975.8 1229,970.9 1229.1,965.9 1229.1,961 1229.1,956.1 1229.2,951.1 1229.2,946.2 1229.1,941.2 1229.1,936.3 1228.8,931.4 1227.9,926.4 1226.6,921.5 1225,916.6 1223.1,911.6 1221.1,906.7 1219.1,901.7 1217.4,896.8 1215.9,891.9 1214.5,886.9 1213.8,884.4 1212,882 1208.8,877 1205.7,872.1 1202.7,867.2 1199.8,862.2 1197.1,857.3 1194.4,852.3 1191.7,847.4 1189.2,842.5 1186.9,837.5 1185,832.6 1184.6,831.4 1184.6,832.6 1184.6,837.5 1184.6,842.5 1184.6,847.4 1184.6,852.3 1184.6,857.3 1184.6,862.2 1184.6,867.2 1184.6,872.1 1184.6,877 1184.6,882 1184.6,886.9 1184.6,891.9 1184.6,896.8 1184.6,901.7 1184.6,906.7 1184.6,911.6 1184.6,916.6 1184.6,921.5 1184.6,926.4 1184.6,931.4 1184.6,936.3 1184.6,941.2 1184.6,946.2 1184.6,951.1 1184.6,956.1 1184.6,961 1184.6,965.9 1184.6,970.9 1184.6,975.8 1184.6,980.8 1184.6,985.7 1184.6,990.6 1184.6,995.6 1184.6,1000.5 1184.6,1005.5 1184.6,1010.4 1184.6,1015.3 1184.6,1020.3 1184.6,1025.2 1184.6,1030.2 1184.6,1035.1ZM1621.7,956.1 1622,957 1622.3,956.1 1623.7,951.1 1625,946.2 1626.2,941.2 1627.2,936.3 1628,931.4 1628.8,926.4 1629.7,921.5 1630.6,916.6 1631.5,911.6 1632.5,906.7 1633.4,901.7 1634.2,896.8 1635,891.9 1635.8,886.9 1636.6,882 1637.3,877 1638.1,872.1 1638.8,867.2 1639.5,862.2 1640,857.3 1640.4,852.3 1640.6,847.4 1640.7,842.5 1640.6,837.5 1640.5,832.6 1639.6,827.6 1637.8,822.7 1636,817.8 1634.3,812.8 1632.4,807.9 1630.2,802.9 1627.7,798 1624.8,793.1 1622,788.9 1621.4,793.1 1620.7,798 1619.9,802.9 1619.1,807.9 1618.2,812.8 1617.4,817.8 1616.4,822.7 1615.3,827.6 1614.7,832.6 1614.3,837.5 1614.1,842.5 1613.9,847.4 1613.7,852.3 1613.6,857.3 1613.6,862.2 1613.7,867.2 1613.8,872.1 1614,877 1614.2,882 1614.3,886.9 1614.5,891.9 1614.6,896.8 1614.8,901.7 1615.1,906.7 1615.3,911.6 1615.6,916.6 1615.9,921.5 1616.2,926.4 1616.6,931.4 1617.1,936.3 1617.9,941.2 1618.9,946.2 1620.2,951.1 1621.7,956.1ZM1184.6,748.6 1184.6,749.7 1184.8,748.6 1185.9,743.7 1186.7,738.7 1187.4,733.8 1188,728.8 1188.6,723.9 1189.2,719 1189.7,714 1190.2,709.1 1190.6,704.1 1191.1,699.2 1184.6,699.2 1184.6,704.1 1184.6,709.1 1184.6,714 1184.6,719 1184.6,723.9 1184.6,728.8 1184.6,733.8 1184.6,738.7 1184.6,743.7 1184.6,748.6ZM1504.7,709.1 1505.3,711 1506.7,709.1 1510.2,704.1 1513.4,699.2 1505.3,699.2 1501.6,699.2 1503.1,704.1 1504.7,709.1Z" fill="#ea8e70"/>
<path d="M1854.9,1010.4 1855.2,1011.3 1856.7,1010.4 1864.8,1005.5 1875,1000.5 1884.4,997 1884.4,995.6 1884.4,990.6 1884.4,985.7 1884.4,980.8 1884.4,975.8 1884.4,970.9 1884.4,965.9 1884.4,961 1884.4,956.1 1884.4,951.1 1884.4,946.2 1884.4,941.2 1884.4,936.3 1884.4,931.4 1884.4,926.4 1884.4,921.5 1884.4,916.6 1884.4,911.6 1884.4,906.7 1884.4,902.6 1880.7,901.7 1866.4,896.8 1856.8,891.9 1855.2,891 1854.8,891.9 1852.9,896.8 1851.1,901.7 1849.5,906.7 1848,911.6 1846.7,916.6 1845.5,921.5 1844.5,926.4 1843.6,931.4 1843,936.3 1842.4,941.2 1842.1,946.2 1841.9,951.1 1841.9,956.1 1842.1,961 1842.5,965.9 1843.2,970.9 1844.1,975.8 1845.2,980.8 1846.5,985.7 1848,990.6 1849.6,995.6 1851.3,1000.5 1853.1,1005.5 1854.9,1010.4ZM1184.6,995.6 1184.6,996.5 1186.9,995.6 1198.1,990.6 1207.2,985.7 1213.3,980.8 1213.8,979.9 1214.1,975.8 1214.1,970.9 1214,965.9 1214,961 1214,956.1 1213.9,951.1 1213.9,946.2 1213.8,941.2 1213.8,936.3 1211.7,931.4 1207.1,926.4 1201.1,921.5 1194.7,916.6 1188.5,911.6 1184.6,908.1 1184.6,911.6 1184.6,916.6 1184.6,921.5 1184.6,926.4 1184.6,931.4 1184.6,936.3 1184.6,941.2 1184.6,946.2 1184.6,951.1 1184.6,956.1 1184.6,961 1184.6,965.9 1184.6,970.9 1184.6,975.8 1184.6,980.8 1184.6,985.7 1184.6,990.6 1184.6,995.6ZM1622,882 1622,882.4 1622,882 1622.5,877 1623,872.1 1623.4,867.2 1623.7,862.2 1623.9,857.3 1623.9,852.3 1623.6,847.4 1623.2,842.5 1622.6,837.5 1622,833.3 1621.7,837.5 1621.5,842.5 1621.3,847.4 1621.1,852.3 1621.1,857.3 1621.1,862.2 1621.3,867.2 1621.5,872.1 1621.7,877 1622,882ZM1795.7,793.1 1796.9,796.2 1803.4,793.1 1815.3,788.1 1827.3,783.2 1838.3,778.2 1847.8,773.3 1855.2,768.6 1855.6,768.4 1866.5,763.4 1877.6,758.5 1884.4,755.1 1884.4,753.5 1884.4,748.6 1884.4,743.7 1884.4,738.7 1884.4,733.8 1884.4,728.8 1884.4,723.9 1884.4,719 1884.4,714 1884.4,709.1 1884.4,704.1 1884.4,699.2 1855.2,699.2 1796.9,699.2 1738.6,699.2 1680.3,699.2 1622,699.2 1614.7,699.2 1616.2,704.1 1618,709.1 1620,714 1621.8,719 1622,719.3 1624.2,719 1649.9,714 1680.3,709.1 1735.3,714 1738.6,714.2 1742.2,719 1747,723.9 1751.7,728.8 1756.4,733.8 1760.8,738.7 1764.5,743.7 1768,748.6 1771.4,753.5 1774.8,758.5 1778.2,763.4 1781.5,768.4 1784.5,773.3 1787.6,778.2 1790.5,783.2 1793.3,788.1 1795.7,793.1Z" fill="#e0775f"/>
<path d="M1795.6,768.4 1796.9,770.4 1802.1,768.4 1814.5,763.4 1825.8,758.5 1835.7,753.5 1844.5,748.6 1852.2,743.7 1855.2,741.5 1860.5,738.7 1869.2,733.8 1877.5,728.8 1884.4,725 1884.4,723.9 1884.4,719 1884.4,714 1884.4,709.1 1884.4,704.1 1884.4,699.2 1855.2,699.2 1796.9,699.2 1742.5,699.2 1743.8,704.1 1746,709.1 1748.8,714 1753.1,719 1758.1,723.9 1763,728.8 1767.9,733.8 1772.5,738.7 1776.6,743.7 1780.5,748.6 1784.3,753.5 1788.1,758.5 1791.9,763.4 1795.6,768.4Z" fill="#d6604d"/>
<path d="M1792.9,748.6 1796.9,753.3 1808.5,748.6 1819.4,743.7 1829,738.7 1837.5,733.8 1844.9,728.8 1851.5,723.9 1855.2,721 1859.9,719 1873.9,714 1884.4,711.1 1884.4,709.1 1884.4,704.1 1884.4,699.2 1855.2,699.2 1796.9,699.2 1752.2,699.2 1753.6,704.1 1755.9,709.1 1759.1,714 1763.9,719 1769.2,723.9 1774.3,728.8 1779.4,733.8 1784.2,738.7 1788.6,743.7 1792.9,748.6Z" fill="#be3036"/>
<path d="M1796,738.7 1796.9,739.7 1799.4,738.7 1810.9,733.8 1820.9,728.8 1829.7,723.9 1837.7,719 1845.2,714 1852.5,709.1 1855.2,707.8 1871.3,704.1 1884.4,701 1884.4,699.2 1855.2,699.2 1796.9,699.2 1761.9,699.2 1763.4,704.1 1765.8,709.1 1769.4,714 1774.7,719 1780.2,723.9 1785.6,728.8 1790.9,733.8 1796,738.7Z" fill="#b2182b"/>
<path d="M1791.3,723.9 1796.9,728.8 1807.9,723.9 1817.8,719 1827.2,714 1834.8,709.1 1844,704.1 1855.2,701.2 1865,699.2 1855.2,699.2 1796.9,699.2 1771.7,699.2 1773.1,704.1 1775.8,709.1 1779.7,714 1785.6,719 1791.3,723.9Z" fill="#991027"/>
<path d="M1796.4,719 1796.9,719.4 1797.8,719 1809.2,714 1817,709.1 1824.7,704.1 1839.3,699.2 1796.9,699.2 1781.4,699.2 1782.9,704.1 1785.7,709.1 1789.9,714 1796.4,719Z" fill="#800823"/>
<path d="M1795.7,709.1 1796.9,710.5 1799.2,709.1 1805.3,704.1 1812.8,699.2 1796.9,699.2 1791.1,699.2 1792.7,704.1 1795.7,709.1Z" fill="#67001f"/>
<path d="M1294.1,1133.9 1296.1,1129 1298,1124 1299.6,1119.1 1301.2,1114.1 1302.6,1109.2 1303.9,1104.3 1305,1099.3 1306.1,1094.4 1307.1,1089.4 1308,1084.5 1309,1079.6 1309.9,1074.6 1310.8,1069.7 1311.8,1064.7 1312.8,1059.8 1314,1054.9 1315.3,1049.9 1317,1045 1318.9,1040 1320.9,1035.1 1322.8,1030.2 1324.6,1025.2 1325.9,1020.3 1326.5,1015.3 1326.8,1010.4 1327,1005.5 1327.2,1000.5 1327.4,995.6 1327.5,990.6 1327.6,985.7 1327.7,980.8 1327.7,975.8 1327.7,970.9 1327.7,965.9 1327.7,961 1327.8,956.1 1327.8,951.1 1327.8,946.2 1327.8,941.2 1327.8,936.3 1327.8,931.4 1327.8,926.4 1327.9,921.5 1328,916.6 1328.1,911.6 1328.2,906.7 1328.4,901.7 1328.5,896.8 1328.7,891.9 1329,886.9 1329.4,882 1329.8,877 1330.3,872.1 1330.4,870.8 1330.9,867.2 1331.4,862.2 1331.6,857.3 1331.5,852.3 1331.3,847.4 1331.1,842.5 1330.8,837.5 1330.5,832.6 1330.4,831.8 1330.1,827.6 1329.6,822.7 1329,817.8 1328.2,812.8 1327.5,807.9 1326.8,802.9 1326.2,798 1325.5,793.1 1324.8,788.1 1324.1,783.2 1323.4,778.2 1322.9,773.3 1322.7,768.4 1322.7,763.4 1323,758.5 1323.5,753.5 1324.3,748.6 1325.2,743.7 1326.3,738.7 1327.6,733.8 1329,728.8 1330.4,724.5 1330.8,723.9 1336,719 1343.1,714 1351.4,709.1 1360.8,704.1 1370.8,699.2M1563.7,916.8 1563.2,916.6 1559.1,911.6 1556.4,906.7 1554.4,901.7 1552.7,896.8 1551.3,891.9 1550,886.9 1548.9,882 1547.9,877 1547,872.1 1546.3,867.2 1545.6,862.2 1545.1,857.3 1544.6,852.3 1544.2,847.4 1543.7,842.5 1543.3,837.5 1543.1,832.6 1542.9,827.6 1542.8,822.7 1542.9,817.8 1543.2,812.8 1543.6,807.9 1544.5,802.9 1545.8,798 1547.3,793.1 1548.7,788.1 1549.8,783.2 1550.8,778.2 1551.9,773.3 1553.3,768.4 1555.1,763.4 1557.2,758.5 1559.5,753.5 1562.1,748.6 1563.7,745.7 1564.8,748.6 1566.5,753.5 1568,758.5 1569.3,763.4 1570.3,768.4 1571.1,773.3 1571.5,778.2 1571.7,783.2 1571.9,788.1 1572,793.1 1572,798 1572,802.9 1571.9,807.9 1571.7,812.8 1571.5,817.8 1571.1,822.7 1570.8,827.6 1570.4,832.6 1570.1,837.5 1569.8,842.5 1569.5,847.4 1569.2,852.3 1568.9,857.3 1568.6,862.2 1568.3,867.2 1568,872.1 1567.7,877 1567.3,882 1566.9,886.9 1566.5,891.9 1566.1,896.8 1565.6,901.7 1565.1,906.7 1564.5,911.6 1563.7,916.6 1563.7,916.8M1435.4,699.2 1447,701.7 1447.9,704.1 1451.7,709.1 1455.4,714 1458.2,719 1460.8,723.9 1463.2,728.8 1465.5,733.8 1468,738.7 1470.2,743.7 1471.8,748.6 1473,753.5 1473.9,758.5 1474.8,763.4 1475.6,768.4 1476.4,773.3 1477.2,778.2 1478.1,783.2 1479.2,788.1 1480.5,793.1 1481.9,798 1483.2,802.9 1484.1,807.9 1484.5,812.8 1484.9,817.8 1485.2,822.7 1485.4,827.6 1485.6,832.6 1485.7,837.5 1485.8,842.5 1485.9,847.4 1486,852.3 1486,857.3 1486.1,862.2 1486.1,867.2 1486,872.1 1485.9,877 1485.8,882 1485.7,886.9 1485.8,891.9 1485.9,896.8 1486.2,901.7 1486.8,906.7 1487.5,911.6 1488.5,916.6 1489.6,921.5 1491,926.4 1492.6,931.4 1494.5,936.3 1496.8,941.2 1500,946.2 1504.3,951.1 1505.3,952 1520.1,956.1 1531.9,961 1539.1,965.9 1543.8,970.9 1547,975.8 1550.9,980.8 1556.1,985.7 1561.1,990.6 1563.7,994.2 1564.2,995.6 1566,1000.5 1567.7,1005.5 1569.3,1010.4 1571.1,1015.3 1572.9,1020.3 1575,1025.2 1577.3,1030.2 1579.9,1035.1 1582.9,1040 1586,1045 1589.2,1049.9 1592.5,1054.9 1595.9,1059.8 1599.4,1064.7 1603.1,1069.7 1606.9,1074.6 1610.7,1079.6 1614.6,1084.5 1618.9,1089.4 1622,1092.6 1624.2,1089.4 1627.4,1084.5 1630.3,1079.6 1633.1,1074.6 1635.8,1069.7 1638.5,1064.7 1641.1,1059.8 1643.7,1054.9 1646.2,1049.9 1648.6,1045 1651.1,1040 1653.6,1035.1 1656,1030.2 1658.3,1025.2 1660.5,1020.3 1662.6,1015.3 1664.7,1010.4 1666.6,1005.5 1668.5,1000.5 1670.3,995.6 1671.9,990.6 1673.5,985.7 1675.1,980.8 1676.6,975.8 1678.1,970.9 1679.6,965.9 1680.3,963.8 1682.3,965.9 1686.5,970.9 1690,975.8 1693.1,980.8 1695.9,985.7 1698.5,990.6 1700.9,995.6 1703.1,1000.5 1705.3,1005.5 1707.3,1010.4 1709.2,1015.3 1710.9,1020.3 1712.6,1025.2 1714.2,1030.2 1715.7,1035.1 1717.1,1040 1718.3,1045 1719.4,1049.9 1720.4,1054.9 1721.3,1059.8 1722.1,1064.7 1722.9,1069.7 1723.6,1074.6 1724.2,1079.6 1724.8,1084.5 1725.4,1089.4 1726,1094.4 1726.5,1099.3 1727,1104.3 1727.6,1109.2 1728.1,1114.1 1728.6,1119.1 1729.1,1124 1729.6,1129 1730.1,1133.9" fill="none" stroke="#000" stroke-width="1.9" stroke-dasharray="7.2 3.1"/>
</g>
<path d="M1184.6,1133.9v4.9M1242.9,1133.9v4.9M1301.2,1133.9v4.9M1359.5,1133.9v4.9M1417.9,1133.9v4.9M1476.2,1133.9v4.9M1534.5,1133.9v4.9M1592.8,1133.9v4.9M1651.1,1133.9v4.9M1709.5,1133.9v4.9M1767.8,1133.9v4.9M1826.1,1133.9v4.9M1884.4,1133.9v4.9M1184.6,1114.1h-4.9M1184.6,1015.3h-4.9M1184.6,916.6h-4.9M1184.6,817.8h-4.9M1184.6,719h-4.9M1950.7,709.8h4.9M1950.7,761.6h4.9M1950.7,813.4h4.9M1950.7,865.2h4.9M1950.7,917h4.9M1950.7,968.8h4.9M1950.7,1020.6h4.9M1950.7,1072.3h4.9M1950.7,1124.2h4.9" stroke="#000" stroke-width="1.1" fill="none"/>
<rect x="1184.6" y="699.2" width="699.8" height="434.7" fill="none" stroke="#000" stroke-width="1.1"/>
<rect x="1928" y="1119.88" width="22.7" height="14.42" fill="#053061"/>
<rect x="1928" y="1105.85" width="22.7" height="14.42" fill="#0e427a"/>
<rect x="1928" y="1091.83" width="22.7" height="14.42" fill="#185493"/>
<rect x="1928" y="1077.81" width="22.7" height="14.42" fill="#2166ac"/>
<rect x="1928" y="1063.79" width="22.7" height="14.42" fill="#2c75b4"/>
<rect x="1928" y="1049.76" width="22.7" height="14.42" fill="#3884bb"/>
<rect x="1928" y="1035.74" width="22.7" height="14.42" fill="#4393c3"/>
<rect x="1928" y="1021.72" width="22.7" height="14.42" fill="#5da4cc"/>
<rect x="1928" y="1007.70" width="22.7" height="14.42" fill="#78b4d5"/>
<rect x="1928" y="993.67" width="22.7" height="14.42" fill="#92c5de"/>
<rect x="1928" y="979.65" width="22.7" height="14.42" fill="#a7d0e4"/>
<rect x="1928" y="965.63" width="22.7" height="14.42" fill="#bcdaea"/>
<rect x="1928" y="951.61" width="22.7" height="14.42" fill="#d1e5f0"/>
<rect x="1928" y="937.58" width="22.7" height="14.42" fill="#deebf2"/>
<rect x="1928" y="923.56" width="22.7" height="14.42" fill="#eaf1f5"/>
<rect x="1928" y="909.54" width="22.7" height="14.42" fill="#f7f7f7"/>
<rect x="1928" y="895.52" width="22.7" height="14.42" fill="#f9eee7"/>
<rect x="1928" y="881.49" width="22.7" height="14.42" fill="#fbe4d7"/>
<rect x="1928" y="867.47" width="22.7" height="14.42" fill="#fddbc7"/>
<rect x="1928" y="853.45" width="22.7" height="14.42" fill="#fac9b0"/>
<rect x="1928" y="839.43" width="22.7" height="14.42" fill="#f7b799"/>
<rect x="1928" y="825.40" width="22.7" height="14.42" fill="#f4a582"/>
<rect x="1928" y="811.38" width="22.7" height="14.42" fill="#ea8e70"/>
<rect x="1928" y="797.36" width="22.7" height="14.42" fill="#e0775f"/>
<rect x="1928" y="783.34" width="22.7" height="14.42" fill="#d6604d"/>
<rect x="1928" y="769.31" width="22.7" height="14.42" fill="#ca4842"/>
<rect x="1928" y="755.29" width="22.7" height="14.42" fill="#be3036"/>
<rect x="1928" y="741.27" width="22.7" height="14.42" fill="#b2182b"/>
<rect x="1928" y="727.25" width="22.7" height="14.42" fill="#991027"/>
<rect x="1928" y="713.22" width="22.7" height="14.42" fill="#800823"/>
<rect x="1928" y="699.20" width="22.7" height="14.42" fill="#67001f"/>
<rect x="1928" y="699.2" width="22.7" height="434.7" fill="none" stroke="#000" stroke-width="1.1"/>
<text x="1534.5" y="691.1" font-size="20.85" text-anchor="middle"><tspan font-weight="bold">Observed</tspan> monthly mean meridional wind at Rothera 2006</text>
<text x="1175" y="1126.1" font-size="32.5" text-anchor="end">80</text>
<text x="1175" y="1027.3" font-size="32.5" text-anchor="end">85</text>
<text x="1175" y="928.6" font-size="32.5" text-anchor="end">90</text>
<text x="1175" y="829.8" font-size="32.5" text-anchor="end">95</text>
<text x="1175" y="731" font-size="32.5" text-anchor="end">100</text>
<text x="1213.8" y="1165.3" font-size="32.5" text-anchor="middle">J</text>
<text x="1272.1" y="1165.3" font-size="32.5" text-anchor="middle">F</text>
<text x="1330.4" y="1165.3" font-size="32.5" text-anchor="middle">M</text>
<text x="1388.7" y="1165.3" font-size="32.5" text-anchor="middle">A</text>
<text x="1447" y="1165.3" font-size="32.5" text-anchor="middle">M</text>
<text x="1505.3" y="1165.3" font-size="32.5" text-anchor="middle">J</text>
<text x="1563.7" y="1165.3" font-size="32.5" text-anchor="middle">J</text>
<text x="1622" y="1165.3" font-size="32.5" text-anchor="middle">A</text>
<text x="1680.3" y="1165.3" font-size="32.5" text-anchor="middle">S</text>
<text x="1738.6" y="1165.3" font-size="32.5" text-anchor="middle">O</text>
<text x="1796.9" y="1165.3" font-size="32.5" text-anchor="middle">N</text>
<text x="1855.2" y="1165.3" font-size="32.5" text-anchor="middle">D</text>
<text x="1534.5" y="1203.2" font-size="33.7" text-anchor="middle">Month</text>
<text transform="translate(1103.1,916.6) rotate(-90)" font-size="33.8" text-anchor="middle">Height / km</text>
<text x="1958.7" y="720" font-size="26.2">20</text>
<text x="1958.7" y="771.9" font-size="26.2">15</text>
<text x="1958.7" y="823.6" font-size="26.2">10</text>
<text x="1958.7" y="875.5" font-size="26.2">5</text>
<text x="1958.7" y="927.2" font-size="26.2">0</text>
<text x="1958.7" y="979" font-size="26.2">−5</text>
<text x="1958.7" y="1030.9" font-size="26.2">−10</text>
<text x="1958.7" y="1082.6" font-size="26.2">−15</text>
<text x="1958.7" y="1134.5" font-size="26.2">−20</text>
<text transform="translate(2042.7,920.4) rotate(-90)" font-size="31.4" text-anchor="middle">Mean wind speed /<tspan dx="11.5">ms</tspan><tspan font-size="22.0" dy="-11.1">−1</tspan></text>
<text x="1565" y="1282.6" font-size="69.5" class="lab" text-anchor="middle">(d)</text>
</svg></body></html>
